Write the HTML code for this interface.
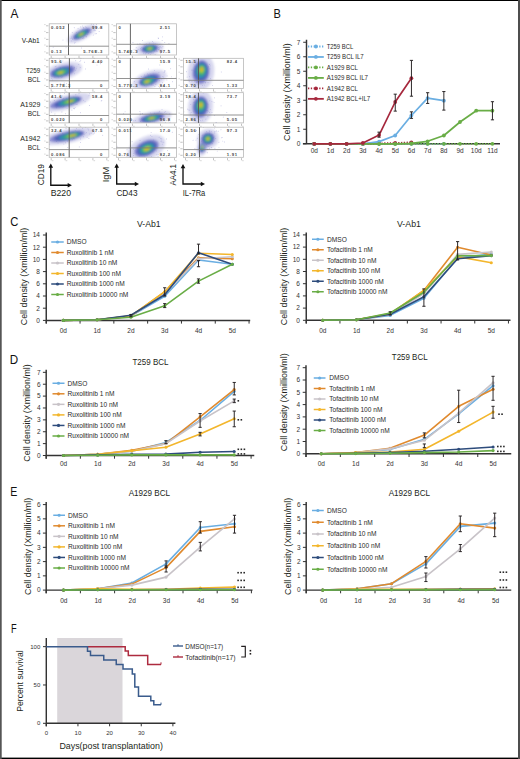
<!DOCTYPE html><html><head><meta charset="utf-8"><style>html,body{margin:0;padding:0;width:520px;height:759px;overflow:hidden;background:#fff}svg text{font-family:"Liberation Sans", sans-serif}svg text.h{stroke:none}</style></head><body><svg width="520" height="759" viewBox="0 0 520 759" style="position:absolute;left:0;top:0">
<rect x="0" y="0" width="520" height="759" fill="#ffffff"/>
<text x="10.50" y="18.10" font-size="12.0" textLength="7.90" lengthAdjust="spacingAndGlyphs" fill="#111">A</text>
<text x="273.45" y="18.00" font-size="12.0" textLength="7.35" lengthAdjust="spacingAndGlyphs" fill="#111">B</text>
<text x="10.20" y="225.50" font-size="12.0" textLength="8.10" lengthAdjust="spacingAndGlyphs" fill="#111">C</text>
<text x="9.70" y="363.80" font-size="12.0" textLength="8.40" lengthAdjust="spacingAndGlyphs" fill="#111">D</text>
<text x="10.20" y="495.50" font-size="12.0" textLength="7.10" lengthAdjust="spacingAndGlyphs" fill="#111">E</text>
<text x="10.95" y="632.50" font-size="12.0" textLength="5.65" lengthAdjust="spacingAndGlyphs" fill="#111">F</text>
<line x1="46.25" y1="232.50" x2="46.25" y2="323.60" stroke="#333333" stroke-width="1.45"/>
<line x1="46.25" y1="320.40" x2="250.20" y2="320.40" stroke="#333333" stroke-width="1.45"/>
<line x1="42.95" y1="320.40" x2="46.25" y2="320.40" stroke="#333333" stroke-width="1.0"/>
<text x="39.90" y="322.70" font-size="6.5" text-anchor="end" fill="#333">0</text>
<line x1="42.95" y1="308.20" x2="46.25" y2="308.20" stroke="#333333" stroke-width="1.0"/>
<text x="39.90" y="310.50" font-size="6.5" text-anchor="end" fill="#333">2</text>
<line x1="42.95" y1="296.00" x2="46.25" y2="296.00" stroke="#333333" stroke-width="1.0"/>
<text x="39.90" y="298.30" font-size="6.5" text-anchor="end" fill="#333">4</text>
<line x1="42.95" y1="283.80" x2="46.25" y2="283.80" stroke="#333333" stroke-width="1.0"/>
<text x="39.90" y="286.10" font-size="6.5" text-anchor="end" fill="#333">6</text>
<line x1="42.95" y1="271.60" x2="46.25" y2="271.60" stroke="#333333" stroke-width="1.0"/>
<text x="39.90" y="273.90" font-size="6.5" text-anchor="end" fill="#333">8</text>
<line x1="42.95" y1="259.40" x2="46.25" y2="259.40" stroke="#333333" stroke-width="1.0"/>
<text x="39.90" y="261.70" font-size="6.5" text-anchor="end" fill="#333">10</text>
<line x1="42.95" y1="247.20" x2="46.25" y2="247.20" stroke="#333333" stroke-width="1.0"/>
<text x="39.90" y="249.50" font-size="6.5" text-anchor="end" fill="#333">12</text>
<line x1="42.95" y1="235.00" x2="46.25" y2="235.00" stroke="#333333" stroke-width="1.0"/>
<text x="39.90" y="237.30" font-size="6.5" text-anchor="end" fill="#333">14</text>
<line x1="46.25" y1="320.40" x2="46.25" y2="323.60" stroke="#333333" stroke-width="1.0"/>
<line x1="80.05" y1="320.40" x2="80.05" y2="323.60" stroke="#333333" stroke-width="1.0"/>
<line x1="113.85" y1="320.40" x2="113.85" y2="323.60" stroke="#333333" stroke-width="1.0"/>
<line x1="147.65" y1="320.40" x2="147.65" y2="323.60" stroke="#333333" stroke-width="1.0"/>
<line x1="181.45" y1="320.40" x2="181.45" y2="323.60" stroke="#333333" stroke-width="1.0"/>
<line x1="215.25" y1="320.40" x2="215.25" y2="323.60" stroke="#333333" stroke-width="1.0"/>
<line x1="249.05" y1="320.40" x2="249.05" y2="323.60" stroke="#333333" stroke-width="1.0"/>
<text x="63.30" y="333.10" font-size="6.5" text-anchor="middle" fill="#333">0d</text>
<text x="97.10" y="333.10" font-size="6.5" text-anchor="middle" fill="#333">1d</text>
<text x="130.90" y="333.10" font-size="6.5" text-anchor="middle" fill="#333">2d</text>
<text x="164.70" y="333.10" font-size="6.5" text-anchor="middle" fill="#333">3d</text>
<text x="198.50" y="333.10" font-size="6.5" text-anchor="middle" fill="#333">4d</text>
<text x="232.30" y="333.10" font-size="6.5" text-anchor="middle" fill="#333">5d</text>
<text class="h" x="0" y="0" font-size="9.9" textLength="97.60" lengthAdjust="spacingAndGlyphs" fill="#231f20" transform="translate(26.80,325.30) rotate(-90)">Cell density (Xmillion/ml)</text>
<text class="h" x="137.00" y="226.60" font-size="9.8" textLength="23.70" lengthAdjust="spacingAndGlyphs" fill="#231f20">V-Ab1</text>
<polyline points="63.3,320.4 97.1,319.8 130.9,316.1 164.7,296.3 198.5,260.0 232.3,264.3" fill="none" stroke="#6aaee2" stroke-width="1.6" stroke-linejoin="round"/>
<circle cx="63.3" cy="320.4" r="1.55" fill="#6aaee2"/>
<circle cx="97.1" cy="319.8" r="1.55" fill="#6aaee2"/>
<circle cx="130.9" cy="316.1" r="1.55" fill="#6aaee2"/>
<circle cx="164.7" cy="296.3" r="1.55" fill="#6aaee2"/>
<circle cx="198.5" cy="260.0" r="1.55" fill="#6aaee2"/>
<circle cx="232.3" cy="264.3" r="1.55" fill="#6aaee2"/>
<polyline points="63.3,320.4 97.1,319.8 130.9,316.1 164.7,292.0 198.5,257.9 232.3,258.8" fill="none" stroke="#e08a2e" stroke-width="1.6" stroke-linejoin="round"/>
<circle cx="63.3" cy="320.4" r="1.55" fill="#e08a2e"/>
<circle cx="97.1" cy="319.8" r="1.55" fill="#e08a2e"/>
<circle cx="130.9" cy="316.1" r="1.55" fill="#e08a2e"/>
<circle cx="164.7" cy="292.0" r="1.55" fill="#e08a2e"/>
<circle cx="198.5" cy="257.9" r="1.55" fill="#e08a2e"/>
<circle cx="232.3" cy="258.8" r="1.55" fill="#e08a2e"/>
<polyline points="63.3,320.4 97.1,319.8 130.9,316.1 164.7,293.6 198.5,258.8 232.3,256.7" fill="none" stroke="#c8c3c8" stroke-width="1.6" stroke-linejoin="round"/>
<circle cx="63.3" cy="320.4" r="1.55" fill="#c8c3c8"/>
<circle cx="97.1" cy="319.8" r="1.55" fill="#c8c3c8"/>
<circle cx="130.9" cy="316.1" r="1.55" fill="#c8c3c8"/>
<circle cx="164.7" cy="293.6" r="1.55" fill="#c8c3c8"/>
<circle cx="198.5" cy="258.8" r="1.55" fill="#c8c3c8"/>
<circle cx="232.3" cy="256.7" r="1.55" fill="#c8c3c8"/>
<polyline points="63.3,320.4 97.1,319.8 130.9,315.8 164.7,291.7 198.5,253.3 232.3,254.5" fill="none" stroke="#f3b62c" stroke-width="1.6" stroke-linejoin="round"/>
<circle cx="63.3" cy="320.4" r="1.55" fill="#f3b62c"/>
<circle cx="97.1" cy="319.8" r="1.55" fill="#f3b62c"/>
<circle cx="130.9" cy="315.8" r="1.55" fill="#f3b62c"/>
<circle cx="164.7" cy="291.7" r="1.55" fill="#f3b62c"/>
<circle cx="198.5" cy="253.3" r="1.55" fill="#f3b62c"/>
<circle cx="232.3" cy="254.5" r="1.55" fill="#f3b62c"/>
<polyline points="63.3,320.4 97.1,319.8 130.9,315.2 164.7,294.8 198.5,252.7 232.3,264.3" fill="none" stroke="#2e4c7c" stroke-width="1.6" stroke-linejoin="round"/>
<circle cx="63.3" cy="320.4" r="1.55" fill="#2e4c7c"/>
<circle cx="97.1" cy="319.8" r="1.55" fill="#2e4c7c"/>
<circle cx="130.9" cy="315.2" r="1.55" fill="#2e4c7c"/>
<circle cx="164.7" cy="294.8" r="1.55" fill="#2e4c7c"/>
<circle cx="198.5" cy="252.7" r="1.55" fill="#2e4c7c"/>
<circle cx="232.3" cy="264.3" r="1.55" fill="#2e4c7c"/>
<polyline points="63.3,320.4 97.1,319.8 130.9,317.3 164.7,305.8 198.5,281.1 232.3,264.3" fill="none" stroke="#69ad46" stroke-width="1.6" stroke-linejoin="round"/>
<circle cx="63.3" cy="320.4" r="1.55" fill="#69ad46"/>
<circle cx="97.1" cy="319.8" r="1.55" fill="#69ad46"/>
<circle cx="130.9" cy="317.3" r="1.55" fill="#69ad46"/>
<circle cx="164.7" cy="305.8" r="1.55" fill="#69ad46"/>
<circle cx="198.5" cy="281.1" r="1.55" fill="#69ad46"/>
<circle cx="232.3" cy="264.3" r="1.55" fill="#69ad46"/>
<line x1="164.70" y1="287.76" x2="164.70" y2="296.00" stroke="#231f20" stroke-width="0.95"/>
<line x1="163.10" y1="287.76" x2="166.30" y2="287.76" stroke="#231f20" stroke-width="0.95"/>
<line x1="163.10" y1="296.00" x2="166.30" y2="296.00" stroke="#231f20" stroke-width="0.95"/>
<line x1="164.70" y1="303.62" x2="164.70" y2="307.59" stroke="#231f20" stroke-width="0.95"/>
<line x1="163.10" y1="303.62" x2="166.30" y2="303.62" stroke="#231f20" stroke-width="0.95"/>
<line x1="163.10" y1="307.59" x2="166.30" y2="307.59" stroke="#231f20" stroke-width="0.95"/>
<line x1="198.50" y1="260.62" x2="198.50" y2="266.72" stroke="#231f20" stroke-width="0.95"/>
<line x1="196.90" y1="260.62" x2="200.10" y2="260.62" stroke="#231f20" stroke-width="0.95"/>
<line x1="196.90" y1="266.72" x2="200.10" y2="266.72" stroke="#231f20" stroke-width="0.95"/>
<line x1="198.50" y1="244.15" x2="198.50" y2="253.91" stroke="#231f20" stroke-width="0.95"/>
<line x1="196.90" y1="244.15" x2="200.10" y2="244.15" stroke="#231f20" stroke-width="0.95"/>
<line x1="196.90" y1="253.91" x2="200.10" y2="253.91" stroke="#231f20" stroke-width="0.95"/>
<line x1="198.50" y1="278.92" x2="198.50" y2="283.19" stroke="#231f20" stroke-width="0.95"/>
<line x1="196.90" y1="278.92" x2="200.10" y2="278.92" stroke="#231f20" stroke-width="0.95"/>
<line x1="196.90" y1="283.19" x2="200.10" y2="283.19" stroke="#231f20" stroke-width="0.95"/>
<line x1="130.90" y1="314.60" x2="130.90" y2="316.74" stroke="#231f20" stroke-width="0.95"/>
<line x1="129.30" y1="314.60" x2="132.50" y2="314.60" stroke="#231f20" stroke-width="0.95"/>
<line x1="129.30" y1="316.74" x2="132.50" y2="316.74" stroke="#231f20" stroke-width="0.95"/>
<line x1="51.25" y1="242.00" x2="63.75" y2="242.00" stroke="#6aaee2" stroke-width="1.5"/>
<circle cx="57.50" cy="242.00" r="1.6" fill="#6aaee2"/>
<text x="66.75" y="244.30" font-size="6.6" text-anchor="start" fill="#2a2a2a">DMSO</text>
<line x1="51.25" y1="252.50" x2="63.75" y2="252.50" stroke="#e08a2e" stroke-width="1.5"/>
<circle cx="57.50" cy="252.50" r="1.6" fill="#e08a2e"/>
<text x="66.75" y="254.80" font-size="6.6" text-anchor="start" fill="#2a2a2a">Ruxolitinib 1 nM</text>
<line x1="51.25" y1="263.00" x2="63.75" y2="263.00" stroke="#c8c3c8" stroke-width="1.5"/>
<circle cx="57.50" cy="263.00" r="1.6" fill="#c8c3c8"/>
<text x="66.75" y="265.30" font-size="6.6" text-anchor="start" fill="#2a2a2a">Ruxolitinib 10 nM</text>
<line x1="51.25" y1="273.50" x2="63.75" y2="273.50" stroke="#f3b62c" stroke-width="1.5"/>
<circle cx="57.50" cy="273.50" r="1.6" fill="#f3b62c"/>
<text x="66.75" y="275.80" font-size="6.6" text-anchor="start" fill="#2a2a2a">Ruxolitinib 100 nM</text>
<line x1="51.25" y1="284.00" x2="63.75" y2="284.00" stroke="#2e4c7c" stroke-width="1.5"/>
<circle cx="57.50" cy="284.00" r="1.6" fill="#2e4c7c"/>
<text x="66.75" y="286.30" font-size="6.6" text-anchor="start" fill="#2a2a2a">Ruxolitinib 1000 nM</text>
<line x1="51.25" y1="294.50" x2="63.75" y2="294.50" stroke="#69ad46" stroke-width="1.5"/>
<circle cx="57.50" cy="294.50" r="1.6" fill="#69ad46"/>
<text x="66.75" y="296.80" font-size="6.6" text-anchor="start" fill="#2a2a2a">Ruxolitinib 10000 nM</text>
<line x1="306.25" y1="232.40" x2="306.25" y2="323.50" stroke="#333333" stroke-width="1.45"/>
<line x1="306.25" y1="320.30" x2="510.50" y2="320.30" stroke="#333333" stroke-width="1.45"/>
<line x1="302.95" y1="320.30" x2="306.25" y2="320.30" stroke="#333333" stroke-width="1.0"/>
<text x="299.90" y="322.60" font-size="6.5" text-anchor="end" fill="#333">0</text>
<line x1="302.95" y1="308.10" x2="306.25" y2="308.10" stroke="#333333" stroke-width="1.0"/>
<text x="299.90" y="310.40" font-size="6.5" text-anchor="end" fill="#333">2</text>
<line x1="302.95" y1="295.90" x2="306.25" y2="295.90" stroke="#333333" stroke-width="1.0"/>
<text x="299.90" y="298.20" font-size="6.5" text-anchor="end" fill="#333">4</text>
<line x1="302.95" y1="283.70" x2="306.25" y2="283.70" stroke="#333333" stroke-width="1.0"/>
<text x="299.90" y="286.00" font-size="6.5" text-anchor="end" fill="#333">6</text>
<line x1="302.95" y1="271.50" x2="306.25" y2="271.50" stroke="#333333" stroke-width="1.0"/>
<text x="299.90" y="273.80" font-size="6.5" text-anchor="end" fill="#333">8</text>
<line x1="302.95" y1="259.30" x2="306.25" y2="259.30" stroke="#333333" stroke-width="1.0"/>
<text x="299.90" y="261.60" font-size="6.5" text-anchor="end" fill="#333">10</text>
<line x1="302.95" y1="247.10" x2="306.25" y2="247.10" stroke="#333333" stroke-width="1.0"/>
<text x="299.90" y="249.40" font-size="6.5" text-anchor="end" fill="#333">12</text>
<line x1="302.95" y1="234.90" x2="306.25" y2="234.90" stroke="#333333" stroke-width="1.0"/>
<text x="299.90" y="237.20" font-size="6.5" text-anchor="end" fill="#333">14</text>
<line x1="306.25" y1="320.30" x2="306.25" y2="323.50" stroke="#333333" stroke-width="1.0"/>
<line x1="339.95" y1="320.30" x2="339.95" y2="323.50" stroke="#333333" stroke-width="1.0"/>
<line x1="373.65" y1="320.30" x2="373.65" y2="323.50" stroke="#333333" stroke-width="1.0"/>
<line x1="407.35" y1="320.30" x2="407.35" y2="323.50" stroke="#333333" stroke-width="1.0"/>
<line x1="441.05" y1="320.30" x2="441.05" y2="323.50" stroke="#333333" stroke-width="1.0"/>
<line x1="474.75" y1="320.30" x2="474.75" y2="323.50" stroke="#333333" stroke-width="1.0"/>
<line x1="508.45" y1="320.30" x2="508.45" y2="323.50" stroke="#333333" stroke-width="1.0"/>
<text x="322.80" y="333.10" font-size="6.5" text-anchor="middle" fill="#333">0d</text>
<text x="356.50" y="333.10" font-size="6.5" text-anchor="middle" fill="#333">1d</text>
<text x="390.20" y="333.10" font-size="6.5" text-anchor="middle" fill="#333">2d</text>
<text x="423.90" y="333.10" font-size="6.5" text-anchor="middle" fill="#333">3d</text>
<text x="457.60" y="333.10" font-size="6.5" text-anchor="middle" fill="#333">4d</text>
<text x="491.30" y="333.10" font-size="6.5" text-anchor="middle" fill="#333">5d</text>
<text class="h" x="0" y="0" font-size="9.9" textLength="97.60" lengthAdjust="spacingAndGlyphs" fill="#231f20" transform="translate(286.80,325.30) rotate(-90)">Cell density (Xmillion/ml)</text>
<text class="h" x="397.00" y="226.70" font-size="9.8" textLength="23.90" lengthAdjust="spacingAndGlyphs" fill="#231f20">V-Ab1</text>
<polyline points="322.8,320.3 356.5,319.7 390.2,315.4 423.9,298.3 457.6,257.8 491.3,254.1" fill="none" stroke="#6aaee2" stroke-width="1.6" stroke-linejoin="round"/>
<circle cx="322.8" cy="320.3" r="1.55" fill="#6aaee2"/>
<circle cx="356.5" cy="319.7" r="1.55" fill="#6aaee2"/>
<circle cx="390.2" cy="315.4" r="1.55" fill="#6aaee2"/>
<circle cx="423.9" cy="298.3" r="1.55" fill="#6aaee2"/>
<circle cx="457.6" cy="257.8" r="1.55" fill="#6aaee2"/>
<circle cx="491.3" cy="254.1" r="1.55" fill="#6aaee2"/>
<polyline points="322.8,320.3 356.5,319.7 390.2,314.2 423.9,290.4 457.6,247.3 491.3,255.0" fill="none" stroke="#e08a2e" stroke-width="1.6" stroke-linejoin="round"/>
<circle cx="322.8" cy="320.3" r="1.55" fill="#e08a2e"/>
<circle cx="356.5" cy="319.7" r="1.55" fill="#e08a2e"/>
<circle cx="390.2" cy="314.2" r="1.55" fill="#e08a2e"/>
<circle cx="423.9" cy="290.4" r="1.55" fill="#e08a2e"/>
<circle cx="457.6" cy="247.3" r="1.55" fill="#e08a2e"/>
<circle cx="491.3" cy="255.0" r="1.55" fill="#e08a2e"/>
<polyline points="322.8,320.3 356.5,319.7 390.2,314.2 423.9,293.5 457.6,254.4 491.3,252.0" fill="none" stroke="#c8c3c8" stroke-width="1.6" stroke-linejoin="round"/>
<circle cx="322.8" cy="320.3" r="1.55" fill="#c8c3c8"/>
<circle cx="356.5" cy="319.7" r="1.55" fill="#c8c3c8"/>
<circle cx="390.2" cy="314.2" r="1.55" fill="#c8c3c8"/>
<circle cx="423.9" cy="293.5" r="1.55" fill="#c8c3c8"/>
<circle cx="457.6" cy="254.4" r="1.55" fill="#c8c3c8"/>
<circle cx="491.3" cy="252.0" r="1.55" fill="#c8c3c8"/>
<polyline points="322.8,320.3 356.5,319.7 390.2,313.6 423.9,290.4 457.6,256.6 491.3,262.7" fill="none" stroke="#f3b62c" stroke-width="1.6" stroke-linejoin="round"/>
<circle cx="322.8" cy="320.3" r="1.55" fill="#f3b62c"/>
<circle cx="356.5" cy="319.7" r="1.55" fill="#f3b62c"/>
<circle cx="390.2" cy="313.6" r="1.55" fill="#f3b62c"/>
<circle cx="423.9" cy="290.4" r="1.55" fill="#f3b62c"/>
<circle cx="457.6" cy="256.6" r="1.55" fill="#f3b62c"/>
<circle cx="491.3" cy="262.7" r="1.55" fill="#f3b62c"/>
<polyline points="322.8,320.3 356.5,319.7 390.2,314.2 423.9,296.8 457.6,258.7 491.3,255.6" fill="none" stroke="#2e4c7c" stroke-width="1.6" stroke-linejoin="round"/>
<circle cx="322.8" cy="320.3" r="1.55" fill="#2e4c7c"/>
<circle cx="356.5" cy="319.7" r="1.55" fill="#2e4c7c"/>
<circle cx="390.2" cy="314.2" r="1.55" fill="#2e4c7c"/>
<circle cx="423.9" cy="296.8" r="1.55" fill="#2e4c7c"/>
<circle cx="457.6" cy="258.7" r="1.55" fill="#2e4c7c"/>
<circle cx="491.3" cy="255.6" r="1.55" fill="#2e4c7c"/>
<polyline points="322.8,320.3 356.5,319.7 390.2,313.0 423.9,292.2 457.6,255.8 491.3,255.6" fill="none" stroke="#69ad46" stroke-width="1.6" stroke-linejoin="round"/>
<circle cx="322.8" cy="320.3" r="1.55" fill="#69ad46"/>
<circle cx="356.5" cy="319.7" r="1.55" fill="#69ad46"/>
<circle cx="390.2" cy="313.0" r="1.55" fill="#69ad46"/>
<circle cx="423.9" cy="292.2" r="1.55" fill="#69ad46"/>
<circle cx="457.6" cy="255.8" r="1.55" fill="#69ad46"/>
<circle cx="491.3" cy="255.6" r="1.55" fill="#69ad46"/>
<line x1="423.90" y1="288.88" x2="423.90" y2="306.27" stroke="#231f20" stroke-width="0.95"/>
<line x1="422.30" y1="288.88" x2="425.50" y2="288.88" stroke="#231f20" stroke-width="0.95"/>
<line x1="422.30" y1="306.27" x2="425.50" y2="306.27" stroke="#231f20" stroke-width="0.95"/>
<line x1="457.60" y1="241.61" x2="457.60" y2="259.91" stroke="#231f20" stroke-width="0.95"/>
<line x1="456.00" y1="241.61" x2="459.20" y2="241.61" stroke="#231f20" stroke-width="0.95"/>
<line x1="456.00" y1="259.91" x2="459.20" y2="259.91" stroke="#231f20" stroke-width="0.95"/>
<line x1="390.20" y1="311.76" x2="390.20" y2="314.81" stroke="#231f20" stroke-width="0.95"/>
<line x1="388.60" y1="311.76" x2="391.80" y2="311.76" stroke="#231f20" stroke-width="0.95"/>
<line x1="388.60" y1="314.81" x2="391.80" y2="314.81" stroke="#231f20" stroke-width="0.95"/>
<line x1="312.00" y1="239.25" x2="323.75" y2="239.25" stroke="#6aaee2" stroke-width="1.5"/>
<circle cx="317.88" cy="239.25" r="1.6" fill="#6aaee2"/>
<text x="327.00" y="241.55" font-size="6.6" text-anchor="start" fill="#2a2a2a">DMSO</text>
<line x1="312.00" y1="249.75" x2="323.75" y2="249.75" stroke="#e08a2e" stroke-width="1.5"/>
<circle cx="317.88" cy="249.75" r="1.6" fill="#e08a2e"/>
<text x="327.00" y="252.05" font-size="6.6" text-anchor="start" fill="#2a2a2a">Tofacitinib 1 nM</text>
<line x1="312.00" y1="260.25" x2="323.75" y2="260.25" stroke="#c8c3c8" stroke-width="1.5"/>
<circle cx="317.88" cy="260.25" r="1.6" fill="#c8c3c8"/>
<text x="327.00" y="262.55" font-size="6.6" text-anchor="start" fill="#2a2a2a">Tofacitinib 10 nM</text>
<line x1="312.00" y1="270.75" x2="323.75" y2="270.75" stroke="#f3b62c" stroke-width="1.5"/>
<circle cx="317.88" cy="270.75" r="1.6" fill="#f3b62c"/>
<text x="327.00" y="273.05" font-size="6.6" text-anchor="start" fill="#2a2a2a">Tofacitinib 100 nM</text>
<line x1="312.00" y1="281.25" x2="323.75" y2="281.25" stroke="#2e4c7c" stroke-width="1.5"/>
<circle cx="317.88" cy="281.25" r="1.6" fill="#2e4c7c"/>
<text x="327.00" y="283.55" font-size="6.6" text-anchor="start" fill="#2a2a2a">Tofacitinib 1000 nM</text>
<line x1="312.00" y1="291.75" x2="323.75" y2="291.75" stroke="#69ad46" stroke-width="1.5"/>
<circle cx="317.88" cy="291.75" r="1.6" fill="#69ad46"/>
<text x="327.00" y="294.05" font-size="6.6" text-anchor="start" fill="#2a2a2a">Tofacitinib 10000 nM</text>
<line x1="46.20" y1="369.84" x2="46.20" y2="458.70" stroke="#333333" stroke-width="1.45"/>
<line x1="46.20" y1="455.50" x2="254.25" y2="455.50" stroke="#333333" stroke-width="1.45"/>
<line x1="42.90" y1="455.50" x2="46.20" y2="455.50" stroke="#333333" stroke-width="1.0"/>
<text x="40.50" y="457.80" font-size="6.5" text-anchor="end" fill="#333">0</text>
<line x1="42.90" y1="443.62" x2="46.20" y2="443.62" stroke="#333333" stroke-width="1.0"/>
<text x="40.50" y="445.92" font-size="6.5" text-anchor="end" fill="#333">1</text>
<line x1="42.90" y1="431.74" x2="46.20" y2="431.74" stroke="#333333" stroke-width="1.0"/>
<text x="40.50" y="434.04" font-size="6.5" text-anchor="end" fill="#333">2</text>
<line x1="42.90" y1="419.86" x2="46.20" y2="419.86" stroke="#333333" stroke-width="1.0"/>
<text x="40.50" y="422.16" font-size="6.5" text-anchor="end" fill="#333">3</text>
<line x1="42.90" y1="407.98" x2="46.20" y2="407.98" stroke="#333333" stroke-width="1.0"/>
<text x="40.50" y="410.28" font-size="6.5" text-anchor="end" fill="#333">4</text>
<line x1="42.90" y1="396.10" x2="46.20" y2="396.10" stroke="#333333" stroke-width="1.0"/>
<text x="40.50" y="398.40" font-size="6.5" text-anchor="end" fill="#333">5</text>
<line x1="42.90" y1="384.22" x2="46.20" y2="384.22" stroke="#333333" stroke-width="1.0"/>
<text x="40.50" y="386.52" font-size="6.5" text-anchor="end" fill="#333">6</text>
<line x1="42.90" y1="372.34" x2="46.20" y2="372.34" stroke="#333333" stroke-width="1.0"/>
<text x="40.50" y="374.64" font-size="6.5" text-anchor="end" fill="#333">7</text>
<line x1="46.20" y1="455.50" x2="46.20" y2="458.70" stroke="#333333" stroke-width="1.0"/>
<line x1="80.35" y1="455.50" x2="80.35" y2="458.70" stroke="#333333" stroke-width="1.0"/>
<line x1="114.50" y1="455.50" x2="114.50" y2="458.70" stroke="#333333" stroke-width="1.0"/>
<line x1="148.65" y1="455.50" x2="148.65" y2="458.70" stroke="#333333" stroke-width="1.0"/>
<line x1="182.80" y1="455.50" x2="182.80" y2="458.70" stroke="#333333" stroke-width="1.0"/>
<line x1="216.95" y1="455.50" x2="216.95" y2="458.70" stroke="#333333" stroke-width="1.0"/>
<line x1="251.10" y1="455.50" x2="251.10" y2="458.70" stroke="#333333" stroke-width="1.0"/>
<text x="63.50" y="465.60" font-size="6.5" text-anchor="middle" fill="#333">0d</text>
<text x="97.65" y="465.60" font-size="6.5" text-anchor="middle" fill="#333">1d</text>
<text x="131.80" y="465.60" font-size="6.5" text-anchor="middle" fill="#333">2d</text>
<text x="165.95" y="465.60" font-size="6.5" text-anchor="middle" fill="#333">3d</text>
<text x="200.10" y="465.60" font-size="6.5" text-anchor="middle" fill="#333">4d</text>
<text x="234.25" y="465.60" font-size="6.5" text-anchor="middle" fill="#333">5d</text>
<text class="h" x="0" y="0" font-size="9.9" textLength="97.50" lengthAdjust="spacingAndGlyphs" fill="#231f20" transform="translate(30.30,461.70) rotate(-90)">Cell density (Xmillion/ml)</text>
<text class="h" x="132.40" y="364.80" font-size="9.8" textLength="36.10" lengthAdjust="spacingAndGlyphs" fill="#231f20">T259 BCL</text>
<polyline points="63.5,455.5 97.7,454.3 131.8,451.3 165.9,442.4 200.1,420.5 234.2,391.3" fill="none" stroke="#6aaee2" stroke-width="1.6" stroke-linejoin="round"/>
<circle cx="63.5" cy="455.5" r="1.55" fill="#6aaee2"/>
<circle cx="97.7" cy="454.3" r="1.55" fill="#6aaee2"/>
<circle cx="131.8" cy="451.3" r="1.55" fill="#6aaee2"/>
<circle cx="165.9" cy="442.4" r="1.55" fill="#6aaee2"/>
<circle cx="200.1" cy="420.5" r="1.55" fill="#6aaee2"/>
<circle cx="234.2" cy="391.3" r="1.55" fill="#6aaee2"/>
<polyline points="63.5,455.5 97.7,454.3 131.8,450.2 165.9,443.6 200.1,416.9 234.2,389.6" fill="none" stroke="#e08a2e" stroke-width="1.6" stroke-linejoin="round"/>
<circle cx="63.5" cy="455.5" r="1.55" fill="#e08a2e"/>
<circle cx="97.7" cy="454.3" r="1.55" fill="#e08a2e"/>
<circle cx="131.8" cy="450.2" r="1.55" fill="#e08a2e"/>
<circle cx="165.9" cy="443.6" r="1.55" fill="#e08a2e"/>
<circle cx="200.1" cy="416.9" r="1.55" fill="#e08a2e"/>
<circle cx="234.2" cy="389.6" r="1.55" fill="#e08a2e"/>
<polyline points="63.5,455.5 97.7,454.3 131.8,451.3 165.9,443.6 200.1,421.0 234.2,400.9" fill="none" stroke="#c8c3c8" stroke-width="1.6" stroke-linejoin="round"/>
<circle cx="63.5" cy="455.5" r="1.55" fill="#c8c3c8"/>
<circle cx="97.7" cy="454.3" r="1.55" fill="#c8c3c8"/>
<circle cx="131.8" cy="451.3" r="1.55" fill="#c8c3c8"/>
<circle cx="165.9" cy="443.6" r="1.55" fill="#c8c3c8"/>
<circle cx="200.1" cy="421.0" r="1.55" fill="#c8c3c8"/>
<circle cx="234.2" cy="400.9" r="1.55" fill="#c8c3c8"/>
<polyline points="63.5,455.5 97.7,454.3 131.8,450.7 165.9,447.2 200.1,434.1 234.2,418.7" fill="none" stroke="#f3b62c" stroke-width="1.6" stroke-linejoin="round"/>
<circle cx="63.5" cy="455.5" r="1.55" fill="#f3b62c"/>
<circle cx="97.7" cy="454.3" r="1.55" fill="#f3b62c"/>
<circle cx="131.8" cy="450.7" r="1.55" fill="#f3b62c"/>
<circle cx="165.9" cy="447.2" r="1.55" fill="#f3b62c"/>
<circle cx="200.1" cy="434.1" r="1.55" fill="#f3b62c"/>
<circle cx="234.2" cy="418.7" r="1.55" fill="#f3b62c"/>
<polyline points="63.5,455.5 97.7,454.9 131.8,454.3 165.9,454.1 200.1,452.3 234.2,451.5" fill="none" stroke="#2e4c7c" stroke-width="1.6" stroke-linejoin="round"/>
<circle cx="63.5" cy="455.5" r="1.55" fill="#2e4c7c"/>
<circle cx="97.7" cy="454.9" r="1.55" fill="#2e4c7c"/>
<circle cx="131.8" cy="454.3" r="1.55" fill="#2e4c7c"/>
<circle cx="165.9" cy="454.1" r="1.55" fill="#2e4c7c"/>
<circle cx="200.1" cy="452.3" r="1.55" fill="#2e4c7c"/>
<circle cx="234.2" cy="451.5" r="1.55" fill="#2e4c7c"/>
<polyline points="63.5,455.5 97.7,455.3 131.8,454.9 165.9,454.9 200.1,454.9 234.2,454.9" fill="none" stroke="#69ad46" stroke-width="1.6" stroke-linejoin="round"/>
<circle cx="63.5" cy="455.5" r="1.55" fill="#69ad46"/>
<circle cx="97.7" cy="455.3" r="1.55" fill="#69ad46"/>
<circle cx="131.8" cy="454.9" r="1.55" fill="#69ad46"/>
<circle cx="165.9" cy="454.9" r="1.55" fill="#69ad46"/>
<circle cx="200.1" cy="454.9" r="1.55" fill="#69ad46"/>
<circle cx="234.2" cy="454.9" r="1.55" fill="#69ad46"/>
<line x1="234.25" y1="382.44" x2="234.25" y2="394.91" stroke="#231f20" stroke-width="0.95"/>
<line x1="232.65" y1="382.44" x2="235.85" y2="382.44" stroke="#231f20" stroke-width="0.95"/>
<line x1="232.65" y1="394.91" x2="235.85" y2="394.91" stroke="#231f20" stroke-width="0.95"/>
<line x1="234.25" y1="411.07" x2="234.25" y2="426.75" stroke="#231f20" stroke-width="0.95"/>
<line x1="232.65" y1="411.07" x2="235.85" y2="411.07" stroke="#231f20" stroke-width="0.95"/>
<line x1="232.65" y1="426.75" x2="235.85" y2="426.75" stroke="#231f20" stroke-width="0.95"/>
<line x1="200.10" y1="413.56" x2="200.10" y2="427.34" stroke="#231f20" stroke-width="0.95"/>
<line x1="198.50" y1="413.56" x2="201.70" y2="413.56" stroke="#231f20" stroke-width="0.95"/>
<line x1="198.50" y1="427.34" x2="201.70" y2="427.34" stroke="#231f20" stroke-width="0.95"/>
<line x1="200.10" y1="432.33" x2="200.10" y2="435.90" stroke="#231f20" stroke-width="0.95"/>
<line x1="198.50" y1="432.33" x2="201.70" y2="432.33" stroke="#231f20" stroke-width="0.95"/>
<line x1="198.50" y1="435.90" x2="201.70" y2="435.90" stroke="#231f20" stroke-width="0.95"/>
<line x1="165.95" y1="440.65" x2="165.95" y2="443.62" stroke="#231f20" stroke-width="0.95"/>
<line x1="164.35" y1="440.65" x2="167.55" y2="440.65" stroke="#231f20" stroke-width="0.95"/>
<line x1="164.35" y1="443.62" x2="167.55" y2="443.62" stroke="#231f20" stroke-width="0.95"/>
<line x1="234.25" y1="399.07" x2="234.25" y2="402.63" stroke="#231f20" stroke-width="0.95"/>
<line x1="232.65" y1="399.07" x2="235.85" y2="399.07" stroke="#231f20" stroke-width="0.95"/>
<line x1="232.65" y1="402.63" x2="235.85" y2="402.63" stroke="#231f20" stroke-width="0.95"/>
<rect x="237.50" y="400.00" width="1.6" height="1.6" fill="#2a2a2a"/>
<rect x="237.50" y="419.00" width="1.6" height="1.6" fill="#2a2a2a"/>
<rect x="240.55" y="419.00" width="1.6" height="1.6" fill="#2a2a2a"/>
<rect x="237.50" y="448.50" width="1.6" height="1.6" fill="#2a2a2a"/>
<rect x="240.55" y="448.50" width="1.6" height="1.6" fill="#2a2a2a"/>
<rect x="243.60" y="448.50" width="1.6" height="1.6" fill="#2a2a2a"/>
<rect x="237.50" y="453.10" width="1.6" height="1.6" fill="#2a2a2a"/>
<rect x="240.55" y="453.10" width="1.6" height="1.6" fill="#2a2a2a"/>
<rect x="243.60" y="453.10" width="1.6" height="1.6" fill="#2a2a2a"/>
<line x1="52.50" y1="383.25" x2="64.50" y2="383.25" stroke="#6aaee2" stroke-width="1.5"/>
<circle cx="58.50" cy="383.25" r="1.6" fill="#6aaee2"/>
<text x="67.50" y="385.55" font-size="6.6" text-anchor="start" fill="#2a2a2a">DMSO</text>
<line x1="52.50" y1="393.80" x2="64.50" y2="393.80" stroke="#e08a2e" stroke-width="1.5"/>
<circle cx="58.50" cy="393.80" r="1.6" fill="#e08a2e"/>
<text x="67.50" y="396.10" font-size="6.6" text-anchor="start" fill="#2a2a2a">Ruxolitinib 1 nM</text>
<line x1="52.50" y1="404.35" x2="64.50" y2="404.35" stroke="#c8c3c8" stroke-width="1.5"/>
<circle cx="58.50" cy="404.35" r="1.6" fill="#c8c3c8"/>
<text x="67.50" y="406.65" font-size="6.6" text-anchor="start" fill="#2a2a2a">Ruxolitinib 10 nM</text>
<line x1="52.50" y1="414.90" x2="64.50" y2="414.90" stroke="#f3b62c" stroke-width="1.5"/>
<circle cx="58.50" cy="414.90" r="1.6" fill="#f3b62c"/>
<text x="67.50" y="417.20" font-size="6.6" text-anchor="start" fill="#2a2a2a">Ruxolitinib 100 nM</text>
<line x1="52.50" y1="425.45" x2="64.50" y2="425.45" stroke="#2e4c7c" stroke-width="1.5"/>
<circle cx="58.50" cy="425.45" r="1.6" fill="#2e4c7c"/>
<text x="67.50" y="427.75" font-size="6.6" text-anchor="start" fill="#2a2a2a">Ruxolitinib 1000 nM</text>
<line x1="52.50" y1="436.00" x2="64.50" y2="436.00" stroke="#69ad46" stroke-width="1.5"/>
<circle cx="58.50" cy="436.00" r="1.6" fill="#69ad46"/>
<text x="67.50" y="438.30" font-size="6.6" text-anchor="start" fill="#2a2a2a">Ruxolitinib 10000 nM</text>
<line x1="306.00" y1="365.20" x2="306.00" y2="457.00" stroke="#333333" stroke-width="1.45"/>
<line x1="306.00" y1="453.80" x2="511.25" y2="453.80" stroke="#333333" stroke-width="1.45"/>
<line x1="302.70" y1="453.80" x2="306.00" y2="453.80" stroke="#333333" stroke-width="1.0"/>
<text x="300.00" y="456.10" font-size="6.5" text-anchor="end" fill="#333">0</text>
<line x1="302.70" y1="441.50" x2="306.00" y2="441.50" stroke="#333333" stroke-width="1.0"/>
<text x="300.00" y="443.80" font-size="6.5" text-anchor="end" fill="#333">1</text>
<line x1="302.70" y1="429.20" x2="306.00" y2="429.20" stroke="#333333" stroke-width="1.0"/>
<text x="300.00" y="431.50" font-size="6.5" text-anchor="end" fill="#333">2</text>
<line x1="302.70" y1="416.90" x2="306.00" y2="416.90" stroke="#333333" stroke-width="1.0"/>
<text x="300.00" y="419.20" font-size="6.5" text-anchor="end" fill="#333">3</text>
<line x1="302.70" y1="404.60" x2="306.00" y2="404.60" stroke="#333333" stroke-width="1.0"/>
<text x="300.00" y="406.90" font-size="6.5" text-anchor="end" fill="#333">4</text>
<line x1="302.70" y1="392.30" x2="306.00" y2="392.30" stroke="#333333" stroke-width="1.0"/>
<text x="300.00" y="394.60" font-size="6.5" text-anchor="end" fill="#333">5</text>
<line x1="302.70" y1="380.00" x2="306.00" y2="380.00" stroke="#333333" stroke-width="1.0"/>
<text x="300.00" y="382.30" font-size="6.5" text-anchor="end" fill="#333">6</text>
<line x1="302.70" y1="367.70" x2="306.00" y2="367.70" stroke="#333333" stroke-width="1.0"/>
<text x="300.00" y="370.00" font-size="6.5" text-anchor="end" fill="#333">7</text>
<line x1="306.00" y1="453.80" x2="306.00" y2="457.00" stroke="#333333" stroke-width="1.0"/>
<line x1="340.35" y1="453.80" x2="340.35" y2="457.00" stroke="#333333" stroke-width="1.0"/>
<line x1="374.70" y1="453.80" x2="374.70" y2="457.00" stroke="#333333" stroke-width="1.0"/>
<line x1="409.05" y1="453.80" x2="409.05" y2="457.00" stroke="#333333" stroke-width="1.0"/>
<line x1="443.40" y1="453.80" x2="443.40" y2="457.00" stroke="#333333" stroke-width="1.0"/>
<line x1="477.75" y1="453.80" x2="477.75" y2="457.00" stroke="#333333" stroke-width="1.0"/>
<text x="321.30" y="466.20" font-size="6.5" text-anchor="middle" fill="#333">0d</text>
<text x="355.65" y="466.20" font-size="6.5" text-anchor="middle" fill="#333">1d</text>
<text x="390.00" y="466.20" font-size="6.5" text-anchor="middle" fill="#333">2d</text>
<text x="424.35" y="466.20" font-size="6.5" text-anchor="middle" fill="#333">3d</text>
<text x="458.70" y="466.20" font-size="6.5" text-anchor="middle" fill="#333">4d</text>
<text x="493.05" y="466.20" font-size="6.5" text-anchor="middle" fill="#333">5d</text>
<text class="h" x="0" y="0" font-size="9.9" textLength="98.00" lengthAdjust="spacingAndGlyphs" fill="#231f20" transform="translate(287.10,451.20) rotate(-90)">Cell density (Xmillion/ml)</text>
<text class="h" x="391.80" y="359.80" font-size="9.8" textLength="35.80" lengthAdjust="spacingAndGlyphs" fill="#231f20">T259 BCL</text>
<polyline points="321.3,453.8 355.7,452.6 390.0,449.5 424.4,439.3 458.7,413.8 493.1,385.7" fill="none" stroke="#6aaee2" stroke-width="1.6" stroke-linejoin="round"/>
<circle cx="321.3" cy="453.8" r="1.55" fill="#6aaee2"/>
<circle cx="355.7" cy="452.6" r="1.55" fill="#6aaee2"/>
<circle cx="390.0" cy="449.5" r="1.55" fill="#6aaee2"/>
<circle cx="424.4" cy="439.3" r="1.55" fill="#6aaee2"/>
<circle cx="458.7" cy="413.8" r="1.55" fill="#6aaee2"/>
<circle cx="493.1" cy="385.7" r="1.55" fill="#6aaee2"/>
<polyline points="321.3,453.8 355.7,452.6 390.0,448.3 424.4,435.1 458.7,406.3 493.1,389.3" fill="none" stroke="#e08a2e" stroke-width="1.6" stroke-linejoin="round"/>
<circle cx="321.3" cy="453.8" r="1.55" fill="#e08a2e"/>
<circle cx="355.7" cy="452.6" r="1.55" fill="#e08a2e"/>
<circle cx="390.0" cy="448.3" r="1.55" fill="#e08a2e"/>
<circle cx="424.4" cy="435.1" r="1.55" fill="#e08a2e"/>
<circle cx="458.7" cy="406.3" r="1.55" fill="#e08a2e"/>
<circle cx="493.1" cy="389.3" r="1.55" fill="#e08a2e"/>
<polyline points="321.3,453.8 355.7,452.6 390.0,448.9 424.4,440.3 458.7,413.2 493.1,382.7" fill="none" stroke="#c8c3c8" stroke-width="1.6" stroke-linejoin="round"/>
<circle cx="321.3" cy="453.8" r="1.55" fill="#c8c3c8"/>
<circle cx="355.7" cy="452.6" r="1.55" fill="#c8c3c8"/>
<circle cx="390.0" cy="448.9" r="1.55" fill="#c8c3c8"/>
<circle cx="424.4" cy="440.3" r="1.55" fill="#c8c3c8"/>
<circle cx="458.7" cy="413.2" r="1.55" fill="#c8c3c8"/>
<circle cx="493.1" cy="382.7" r="1.55" fill="#c8c3c8"/>
<polyline points="321.3,453.8 355.7,452.6 390.0,452.0 424.4,449.2 458.7,431.3 493.1,412.1" fill="none" stroke="#f3b62c" stroke-width="1.6" stroke-linejoin="round"/>
<circle cx="321.3" cy="453.8" r="1.55" fill="#f3b62c"/>
<circle cx="355.7" cy="452.6" r="1.55" fill="#f3b62c"/>
<circle cx="390.0" cy="452.0" r="1.55" fill="#f3b62c"/>
<circle cx="424.4" cy="449.2" r="1.55" fill="#f3b62c"/>
<circle cx="458.7" cy="431.3" r="1.55" fill="#f3b62c"/>
<circle cx="493.1" cy="412.1" r="1.55" fill="#f3b62c"/>
<polyline points="321.3,453.8 355.7,453.2 390.0,452.6 424.4,451.3 458.7,449.2 493.1,447.0" fill="none" stroke="#2e4c7c" stroke-width="1.6" stroke-linejoin="round"/>
<circle cx="321.3" cy="453.8" r="1.55" fill="#2e4c7c"/>
<circle cx="355.7" cy="453.2" r="1.55" fill="#2e4c7c"/>
<circle cx="390.0" cy="452.6" r="1.55" fill="#2e4c7c"/>
<circle cx="424.4" cy="451.3" r="1.55" fill="#2e4c7c"/>
<circle cx="458.7" cy="449.2" r="1.55" fill="#2e4c7c"/>
<circle cx="493.1" cy="447.0" r="1.55" fill="#2e4c7c"/>
<polyline points="321.3,453.8 355.7,453.6 390.0,453.2 424.4,452.6 458.7,452.0 493.1,450.6" fill="none" stroke="#69ad46" stroke-width="1.6" stroke-linejoin="round"/>
<circle cx="321.3" cy="453.8" r="1.55" fill="#69ad46"/>
<circle cx="355.7" cy="453.6" r="1.55" fill="#69ad46"/>
<circle cx="390.0" cy="453.2" r="1.55" fill="#69ad46"/>
<circle cx="424.4" cy="452.6" r="1.55" fill="#69ad46"/>
<circle cx="458.7" cy="452.0" r="1.55" fill="#69ad46"/>
<circle cx="493.1" cy="450.6" r="1.55" fill="#69ad46"/>
<line x1="458.70" y1="390.21" x2="458.70" y2="422.56" stroke="#231f20" stroke-width="0.95"/>
<line x1="457.10" y1="390.21" x2="460.30" y2="390.21" stroke="#231f20" stroke-width="0.95"/>
<line x1="457.10" y1="422.56" x2="460.30" y2="422.56" stroke="#231f20" stroke-width="0.95"/>
<line x1="493.05" y1="376.31" x2="493.05" y2="400.30" stroke="#231f20" stroke-width="0.95"/>
<line x1="491.45" y1="376.31" x2="494.65" y2="376.31" stroke="#231f20" stroke-width="0.95"/>
<line x1="491.45" y1="400.30" x2="494.65" y2="400.30" stroke="#231f20" stroke-width="0.95"/>
<line x1="493.05" y1="406.32" x2="493.05" y2="418.25" stroke="#231f20" stroke-width="0.95"/>
<line x1="491.45" y1="406.32" x2="494.65" y2="406.32" stroke="#231f20" stroke-width="0.95"/>
<line x1="491.45" y1="418.25" x2="494.65" y2="418.25" stroke="#231f20" stroke-width="0.95"/>
<line x1="424.35" y1="432.89" x2="424.35" y2="437.81" stroke="#231f20" stroke-width="0.95"/>
<line x1="422.75" y1="432.89" x2="425.95" y2="432.89" stroke="#231f20" stroke-width="0.95"/>
<line x1="422.75" y1="437.81" x2="425.95" y2="437.81" stroke="#231f20" stroke-width="0.95"/>
<line x1="424.35" y1="443.96" x2="424.35" y2="447.65" stroke="#231f20" stroke-width="0.95"/>
<line x1="422.75" y1="443.96" x2="425.95" y2="443.96" stroke="#231f20" stroke-width="0.95"/>
<line x1="422.75" y1="447.65" x2="425.95" y2="447.65" stroke="#231f20" stroke-width="0.95"/>
<rect x="498.20" y="413.40" width="1.6" height="1.6" fill="#2a2a2a"/>
<rect x="501.25" y="413.40" width="1.6" height="1.6" fill="#2a2a2a"/>
<rect x="497.00" y="445.70" width="1.6" height="1.6" fill="#2a2a2a"/>
<rect x="500.05" y="445.70" width="1.6" height="1.6" fill="#2a2a2a"/>
<rect x="503.10" y="445.70" width="1.6" height="1.6" fill="#2a2a2a"/>
<rect x="497.00" y="450.60" width="1.6" height="1.6" fill="#2a2a2a"/>
<rect x="500.05" y="450.60" width="1.6" height="1.6" fill="#2a2a2a"/>
<rect x="503.10" y="450.60" width="1.6" height="1.6" fill="#2a2a2a"/>
<line x1="313.75" y1="378.00" x2="325.50" y2="378.00" stroke="#6aaee2" stroke-width="1.5"/>
<circle cx="319.62" cy="378.00" r="1.6" fill="#6aaee2"/>
<text x="329.25" y="380.30" font-size="6.6" text-anchor="start" fill="#2a2a2a">DMSO</text>
<line x1="313.75" y1="388.50" x2="325.50" y2="388.50" stroke="#e08a2e" stroke-width="1.5"/>
<circle cx="319.62" cy="388.50" r="1.6" fill="#e08a2e"/>
<text x="329.25" y="390.80" font-size="6.6" text-anchor="start" fill="#2a2a2a">Tofacitinib 1 nM</text>
<line x1="313.75" y1="399.00" x2="325.50" y2="399.00" stroke="#c8c3c8" stroke-width="1.5"/>
<circle cx="319.62" cy="399.00" r="1.6" fill="#c8c3c8"/>
<text x="329.25" y="401.30" font-size="6.6" text-anchor="start" fill="#2a2a2a">Tofacitinib 10 nM</text>
<line x1="313.75" y1="409.50" x2="325.50" y2="409.50" stroke="#f3b62c" stroke-width="1.5"/>
<circle cx="319.62" cy="409.50" r="1.6" fill="#f3b62c"/>
<text x="329.25" y="411.80" font-size="6.6" text-anchor="start" fill="#2a2a2a">Tofacitinib 100 nM</text>
<line x1="313.75" y1="420.00" x2="325.50" y2="420.00" stroke="#2e4c7c" stroke-width="1.5"/>
<circle cx="319.62" cy="420.00" r="1.6" fill="#2e4c7c"/>
<text x="329.25" y="422.30" font-size="6.6" text-anchor="start" fill="#2a2a2a">Tofacitinib 1000 nM</text>
<line x1="313.75" y1="430.50" x2="325.50" y2="430.50" stroke="#69ad46" stroke-width="1.5"/>
<circle cx="319.62" cy="430.50" r="1.6" fill="#69ad46"/>
<text x="329.25" y="432.80" font-size="6.6" text-anchor="start" fill="#2a2a2a">Tofacitinib 10000 nM</text>
<line x1="46.20" y1="502.10" x2="46.20" y2="593.30" stroke="#333333" stroke-width="1.45"/>
<line x1="46.20" y1="590.10" x2="252.50" y2="590.10" stroke="#333333" stroke-width="1.45"/>
<line x1="42.90" y1="590.10" x2="46.20" y2="590.10" stroke="#333333" stroke-width="1.0"/>
<text x="40.50" y="592.40" font-size="6.5" text-anchor="end" fill="#333">0</text>
<line x1="42.90" y1="575.85" x2="46.20" y2="575.85" stroke="#333333" stroke-width="1.0"/>
<text x="40.50" y="578.15" font-size="6.5" text-anchor="end" fill="#333">1</text>
<line x1="42.90" y1="561.60" x2="46.20" y2="561.60" stroke="#333333" stroke-width="1.0"/>
<text x="40.50" y="563.90" font-size="6.5" text-anchor="end" fill="#333">2</text>
<line x1="42.90" y1="547.35" x2="46.20" y2="547.35" stroke="#333333" stroke-width="1.0"/>
<text x="40.50" y="549.65" font-size="6.5" text-anchor="end" fill="#333">3</text>
<line x1="42.90" y1="533.10" x2="46.20" y2="533.10" stroke="#333333" stroke-width="1.0"/>
<text x="40.50" y="535.40" font-size="6.5" text-anchor="end" fill="#333">4</text>
<line x1="42.90" y1="518.85" x2="46.20" y2="518.85" stroke="#333333" stroke-width="1.0"/>
<text x="40.50" y="521.15" font-size="6.5" text-anchor="end" fill="#333">5</text>
<line x1="42.90" y1="504.60" x2="46.20" y2="504.60" stroke="#333333" stroke-width="1.0"/>
<text x="40.50" y="506.90" font-size="6.5" text-anchor="end" fill="#333">6</text>
<line x1="46.20" y1="590.10" x2="46.20" y2="593.30" stroke="#333333" stroke-width="1.0"/>
<line x1="80.40" y1="590.10" x2="80.40" y2="593.30" stroke="#333333" stroke-width="1.0"/>
<line x1="114.60" y1="590.10" x2="114.60" y2="593.30" stroke="#333333" stroke-width="1.0"/>
<line x1="148.80" y1="590.10" x2="148.80" y2="593.30" stroke="#333333" stroke-width="1.0"/>
<line x1="183.00" y1="590.10" x2="183.00" y2="593.30" stroke="#333333" stroke-width="1.0"/>
<line x1="217.20" y1="590.10" x2="217.20" y2="593.30" stroke="#333333" stroke-width="1.0"/>
<line x1="251.40" y1="590.10" x2="251.40" y2="593.30" stroke="#333333" stroke-width="1.0"/>
<text x="63.80" y="602.70" font-size="6.5" text-anchor="middle" fill="#333">0d</text>
<text x="98.00" y="602.70" font-size="6.5" text-anchor="middle" fill="#333">1d</text>
<text x="132.20" y="602.70" font-size="6.5" text-anchor="middle" fill="#333">2d</text>
<text x="166.40" y="602.70" font-size="6.5" text-anchor="middle" fill="#333">3d</text>
<text x="200.60" y="602.70" font-size="6.5" text-anchor="middle" fill="#333">4d</text>
<text x="234.80" y="602.70" font-size="6.5" text-anchor="middle" fill="#333">5d</text>
<text class="h" x="0" y="0" font-size="9.9" textLength="97.20" lengthAdjust="spacingAndGlyphs" fill="#231f20" transform="translate(30.60,595.00) rotate(-90)">Cell density (Xmillion/ml)</text>
<text class="h" x="128.70" y="496.10" font-size="9.8" textLength="41.40" lengthAdjust="spacingAndGlyphs" fill="#231f20">A1929 BCL</text>
<polyline points="63.5,590.1 97.7,588.7 131.9,583.0 166.1,563.9 200.3,527.5 234.5,523.8" fill="none" stroke="#6aaee2" stroke-width="1.6" stroke-linejoin="round"/>
<circle cx="63.5" cy="590.1" r="1.55" fill="#6aaee2"/>
<circle cx="97.7" cy="588.7" r="1.55" fill="#6aaee2"/>
<circle cx="131.9" cy="583.0" r="1.55" fill="#6aaee2"/>
<circle cx="166.1" cy="563.9" r="1.55" fill="#6aaee2"/>
<circle cx="200.3" cy="527.5" r="1.55" fill="#6aaee2"/>
<circle cx="234.5" cy="523.8" r="1.55" fill="#6aaee2"/>
<polyline points="63.5,590.1 97.7,588.7 131.9,584.1 166.1,567.6 200.3,531.4 234.5,526.8" fill="none" stroke="#e08a2e" stroke-width="1.6" stroke-linejoin="round"/>
<circle cx="63.5" cy="590.1" r="1.55" fill="#e08a2e"/>
<circle cx="97.7" cy="588.7" r="1.55" fill="#e08a2e"/>
<circle cx="131.9" cy="584.1" r="1.55" fill="#e08a2e"/>
<circle cx="166.1" cy="567.6" r="1.55" fill="#e08a2e"/>
<circle cx="200.3" cy="531.4" r="1.55" fill="#e08a2e"/>
<circle cx="234.5" cy="526.8" r="1.55" fill="#e08a2e"/>
<polyline points="63.5,590.1 97.7,588.7 131.9,585.1 166.1,577.1 200.3,547.1 234.5,518.9" fill="none" stroke="#c8c3c8" stroke-width="1.6" stroke-linejoin="round"/>
<circle cx="63.5" cy="590.1" r="1.55" fill="#c8c3c8"/>
<circle cx="97.7" cy="588.7" r="1.55" fill="#c8c3c8"/>
<circle cx="131.9" cy="585.1" r="1.55" fill="#c8c3c8"/>
<circle cx="166.1" cy="577.1" r="1.55" fill="#c8c3c8"/>
<circle cx="200.3" cy="547.1" r="1.55" fill="#c8c3c8"/>
<circle cx="234.5" cy="518.9" r="1.55" fill="#c8c3c8"/>
<polyline points="63.5,590.1 97.7,588.7 131.9,589.4 166.1,589.4 200.3,588.1 234.5,587.1" fill="none" stroke="#f3b62c" stroke-width="1.6" stroke-linejoin="round"/>
<circle cx="63.5" cy="590.1" r="1.55" fill="#f3b62c"/>
<circle cx="97.7" cy="588.7" r="1.55" fill="#f3b62c"/>
<circle cx="131.9" cy="589.4" r="1.55" fill="#f3b62c"/>
<circle cx="166.1" cy="589.4" r="1.55" fill="#f3b62c"/>
<circle cx="200.3" cy="588.1" r="1.55" fill="#f3b62c"/>
<circle cx="234.5" cy="587.1" r="1.55" fill="#f3b62c"/>
<polyline points="63.5,590.1 97.7,589.8 131.9,589.7 166.1,589.5 200.3,589.4 234.5,589.4" fill="none" stroke="#2e4c7c" stroke-width="1.6" stroke-linejoin="round"/>
<circle cx="63.5" cy="590.1" r="1.55" fill="#2e4c7c"/>
<circle cx="97.7" cy="589.8" r="1.55" fill="#2e4c7c"/>
<circle cx="131.9" cy="589.7" r="1.55" fill="#2e4c7c"/>
<circle cx="166.1" cy="589.5" r="1.55" fill="#2e4c7c"/>
<circle cx="200.3" cy="589.4" r="1.55" fill="#2e4c7c"/>
<circle cx="234.5" cy="589.4" r="1.55" fill="#2e4c7c"/>
<polyline points="63.5,590.1 97.7,589.8 131.9,589.7 166.1,589.7 200.3,589.7 234.5,589.7" fill="none" stroke="#69ad46" stroke-width="1.6" stroke-linejoin="round"/>
<circle cx="63.5" cy="590.1" r="1.55" fill="#69ad46"/>
<circle cx="97.7" cy="589.8" r="1.55" fill="#69ad46"/>
<circle cx="131.9" cy="589.7" r="1.55" fill="#69ad46"/>
<circle cx="166.1" cy="589.7" r="1.55" fill="#69ad46"/>
<circle cx="200.3" cy="589.7" r="1.55" fill="#69ad46"/>
<circle cx="234.5" cy="589.7" r="1.55" fill="#69ad46"/>
<line x1="234.50" y1="515.29" x2="234.50" y2="533.10" stroke="#231f20" stroke-width="0.95"/>
<line x1="232.90" y1="515.29" x2="236.10" y2="515.29" stroke="#231f20" stroke-width="0.95"/>
<line x1="232.90" y1="533.10" x2="236.10" y2="533.10" stroke="#231f20" stroke-width="0.95"/>
<line x1="200.30" y1="521.70" x2="200.30" y2="533.10" stroke="#231f20" stroke-width="0.95"/>
<line x1="198.70" y1="521.70" x2="201.90" y2="521.70" stroke="#231f20" stroke-width="0.95"/>
<line x1="198.70" y1="533.10" x2="201.90" y2="533.10" stroke="#231f20" stroke-width="0.95"/>
<line x1="200.30" y1="542.36" x2="200.30" y2="550.91" stroke="#231f20" stroke-width="0.95"/>
<line x1="198.70" y1="542.36" x2="201.90" y2="542.36" stroke="#231f20" stroke-width="0.95"/>
<line x1="198.70" y1="550.91" x2="201.90" y2="550.91" stroke="#231f20" stroke-width="0.95"/>
<line x1="166.10" y1="560.89" x2="166.10" y2="567.30" stroke="#231f20" stroke-width="0.95"/>
<line x1="164.50" y1="560.89" x2="167.70" y2="560.89" stroke="#231f20" stroke-width="0.95"/>
<line x1="164.50" y1="567.30" x2="167.70" y2="567.30" stroke="#231f20" stroke-width="0.95"/>
<line x1="166.10" y1="565.88" x2="166.10" y2="572.00" stroke="#231f20" stroke-width="0.95"/>
<line x1="164.50" y1="565.88" x2="167.70" y2="565.88" stroke="#231f20" stroke-width="0.95"/>
<line x1="164.50" y1="572.00" x2="167.70" y2="572.00" stroke="#231f20" stroke-width="0.95"/>
<rect x="237.30" y="571.90" width="1.6" height="1.6" fill="#2a2a2a"/>
<rect x="240.35" y="571.90" width="1.6" height="1.6" fill="#2a2a2a"/>
<rect x="243.40" y="571.90" width="1.6" height="1.6" fill="#2a2a2a"/>
<rect x="237.30" y="579.60" width="1.6" height="1.6" fill="#2a2a2a"/>
<rect x="240.35" y="579.60" width="1.6" height="1.6" fill="#2a2a2a"/>
<rect x="243.40" y="579.60" width="1.6" height="1.6" fill="#2a2a2a"/>
<rect x="237.30" y="586.50" width="1.6" height="1.6" fill="#2a2a2a"/>
<rect x="240.35" y="586.50" width="1.6" height="1.6" fill="#2a2a2a"/>
<rect x="243.40" y="586.50" width="1.6" height="1.6" fill="#2a2a2a"/>
<line x1="53.25" y1="515.25" x2="65.00" y2="515.25" stroke="#6aaee2" stroke-width="1.5"/>
<circle cx="59.12" cy="515.25" r="1.6" fill="#6aaee2"/>
<text x="68.00" y="517.55" font-size="6.6" text-anchor="start" fill="#2a2a2a">DMSO</text>
<line x1="53.25" y1="525.80" x2="65.00" y2="525.80" stroke="#e08a2e" stroke-width="1.5"/>
<circle cx="59.12" cy="525.80" r="1.6" fill="#e08a2e"/>
<text x="68.00" y="528.10" font-size="6.6" text-anchor="start" fill="#2a2a2a">Ruxolitinib 1 nM</text>
<line x1="53.25" y1="536.35" x2="65.00" y2="536.35" stroke="#c8c3c8" stroke-width="1.5"/>
<circle cx="59.12" cy="536.35" r="1.6" fill="#c8c3c8"/>
<text x="68.00" y="538.65" font-size="6.6" text-anchor="start" fill="#2a2a2a">Ruxolitinib 10 nM</text>
<line x1="53.25" y1="546.90" x2="65.00" y2="546.90" stroke="#f3b62c" stroke-width="1.5"/>
<circle cx="59.12" cy="546.90" r="1.6" fill="#f3b62c"/>
<text x="68.00" y="549.20" font-size="6.6" text-anchor="start" fill="#2a2a2a">Ruxolitinib 100 nM</text>
<line x1="53.25" y1="557.45" x2="65.00" y2="557.45" stroke="#2e4c7c" stroke-width="1.5"/>
<circle cx="59.12" cy="557.45" r="1.6" fill="#2e4c7c"/>
<text x="68.00" y="559.75" font-size="6.6" text-anchor="start" fill="#2a2a2a">Ruxolitinib 1000 nM</text>
<line x1="53.25" y1="568.00" x2="65.00" y2="568.00" stroke="#69ad46" stroke-width="1.5"/>
<circle cx="59.12" cy="568.00" r="1.6" fill="#69ad46"/>
<text x="68.00" y="570.30" font-size="6.6" text-anchor="start" fill="#2a2a2a">Ruxolitinib 10000 nM</text>
<line x1="306.20" y1="502.10" x2="306.20" y2="593.30" stroke="#333333" stroke-width="1.45"/>
<line x1="306.20" y1="590.10" x2="511.25" y2="590.10" stroke="#333333" stroke-width="1.45"/>
<line x1="302.90" y1="590.10" x2="306.20" y2="590.10" stroke="#333333" stroke-width="1.0"/>
<text x="300.50" y="592.40" font-size="6.5" text-anchor="end" fill="#333">0</text>
<line x1="302.90" y1="575.85" x2="306.20" y2="575.85" stroke="#333333" stroke-width="1.0"/>
<text x="300.50" y="578.15" font-size="6.5" text-anchor="end" fill="#333">1</text>
<line x1="302.90" y1="561.60" x2="306.20" y2="561.60" stroke="#333333" stroke-width="1.0"/>
<text x="300.50" y="563.90" font-size="6.5" text-anchor="end" fill="#333">2</text>
<line x1="302.90" y1="547.35" x2="306.20" y2="547.35" stroke="#333333" stroke-width="1.0"/>
<text x="300.50" y="549.65" font-size="6.5" text-anchor="end" fill="#333">3</text>
<line x1="302.90" y1="533.10" x2="306.20" y2="533.10" stroke="#333333" stroke-width="1.0"/>
<text x="300.50" y="535.40" font-size="6.5" text-anchor="end" fill="#333">4</text>
<line x1="302.90" y1="518.85" x2="306.20" y2="518.85" stroke="#333333" stroke-width="1.0"/>
<text x="300.50" y="521.15" font-size="6.5" text-anchor="end" fill="#333">5</text>
<line x1="302.90" y1="504.60" x2="306.20" y2="504.60" stroke="#333333" stroke-width="1.0"/>
<text x="300.50" y="506.90" font-size="6.5" text-anchor="end" fill="#333">6</text>
<line x1="306.20" y1="590.10" x2="306.20" y2="593.30" stroke="#333333" stroke-width="1.0"/>
<line x1="340.60" y1="590.10" x2="340.60" y2="593.30" stroke="#333333" stroke-width="1.0"/>
<line x1="375.00" y1="590.10" x2="375.00" y2="593.30" stroke="#333333" stroke-width="1.0"/>
<line x1="409.40" y1="590.10" x2="409.40" y2="593.30" stroke="#333333" stroke-width="1.0"/>
<line x1="443.80" y1="590.10" x2="443.80" y2="593.30" stroke="#333333" stroke-width="1.0"/>
<line x1="478.20" y1="590.10" x2="478.20" y2="593.30" stroke="#333333" stroke-width="1.0"/>
<text x="323.50" y="602.70" font-size="6.5" text-anchor="middle" fill="#333">0d</text>
<text x="357.90" y="602.70" font-size="6.5" text-anchor="middle" fill="#333">1d</text>
<text x="392.30" y="602.70" font-size="6.5" text-anchor="middle" fill="#333">2d</text>
<text x="426.70" y="602.70" font-size="6.5" text-anchor="middle" fill="#333">3d</text>
<text x="461.10" y="602.70" font-size="6.5" text-anchor="middle" fill="#333">4d</text>
<text x="495.50" y="602.70" font-size="6.5" text-anchor="middle" fill="#333">5d</text>
<text class="h" x="0" y="0" font-size="9.9" textLength="97.20" lengthAdjust="spacingAndGlyphs" fill="#231f20" transform="translate(290.60,595.00) rotate(-90)">Cell density (Xmillion/ml)</text>
<text class="h" x="388.70" y="496.10" font-size="9.8" textLength="41.40" lengthAdjust="spacingAndGlyphs" fill="#231f20">A1929 BCL</text>
<polyline points="322.7,590.1 357.1,588.7 391.5,583.7 425.9,563.9 460.3,526.4 494.7,523.1" fill="none" stroke="#6aaee2" stroke-width="1.6" stroke-linejoin="round"/>
<circle cx="322.7" cy="590.1" r="1.55" fill="#6aaee2"/>
<circle cx="357.1" cy="588.7" r="1.55" fill="#6aaee2"/>
<circle cx="391.5" cy="583.7" r="1.55" fill="#6aaee2"/>
<circle cx="425.9" cy="563.9" r="1.55" fill="#6aaee2"/>
<circle cx="460.3" cy="526.4" r="1.55" fill="#6aaee2"/>
<circle cx="494.7" cy="523.1" r="1.55" fill="#6aaee2"/>
<polyline points="322.7,590.1 357.1,588.7 391.5,583.7 425.9,561.3 460.3,523.8 494.7,528.1" fill="none" stroke="#e08a2e" stroke-width="1.6" stroke-linejoin="round"/>
<circle cx="322.7" cy="590.1" r="1.55" fill="#e08a2e"/>
<circle cx="357.1" cy="588.7" r="1.55" fill="#e08a2e"/>
<circle cx="391.5" cy="583.7" r="1.55" fill="#e08a2e"/>
<circle cx="425.9" cy="561.3" r="1.55" fill="#e08a2e"/>
<circle cx="460.3" cy="523.8" r="1.55" fill="#e08a2e"/>
<circle cx="494.7" cy="528.1" r="1.55" fill="#e08a2e"/>
<polyline points="322.7,590.1 357.1,589.4 391.5,587.2 425.9,576.4 460.3,548.8 494.7,518.1" fill="none" stroke="#c8c3c8" stroke-width="1.6" stroke-linejoin="round"/>
<circle cx="322.7" cy="590.1" r="1.55" fill="#c8c3c8"/>
<circle cx="357.1" cy="589.4" r="1.55" fill="#c8c3c8"/>
<circle cx="391.5" cy="587.2" r="1.55" fill="#c8c3c8"/>
<circle cx="425.9" cy="576.4" r="1.55" fill="#c8c3c8"/>
<circle cx="460.3" cy="548.8" r="1.55" fill="#c8c3c8"/>
<circle cx="494.7" cy="518.1" r="1.55" fill="#c8c3c8"/>
<polyline points="322.7,590.1 357.1,589.4 391.5,589.4 425.9,589.4 460.3,589.0 494.7,588.7" fill="none" stroke="#f3b62c" stroke-width="1.6" stroke-linejoin="round"/>
<circle cx="322.7" cy="590.1" r="1.55" fill="#f3b62c"/>
<circle cx="357.1" cy="589.4" r="1.55" fill="#f3b62c"/>
<circle cx="391.5" cy="589.4" r="1.55" fill="#f3b62c"/>
<circle cx="425.9" cy="589.4" r="1.55" fill="#f3b62c"/>
<circle cx="460.3" cy="589.0" r="1.55" fill="#f3b62c"/>
<circle cx="494.7" cy="588.7" r="1.55" fill="#f3b62c"/>
<polyline points="322.7,590.1 357.1,589.8 391.5,589.7 425.9,589.5 460.3,589.4 494.7,589.4" fill="none" stroke="#2e4c7c" stroke-width="1.6" stroke-linejoin="round"/>
<circle cx="322.7" cy="590.1" r="1.55" fill="#2e4c7c"/>
<circle cx="357.1" cy="589.8" r="1.55" fill="#2e4c7c"/>
<circle cx="391.5" cy="589.7" r="1.55" fill="#2e4c7c"/>
<circle cx="425.9" cy="589.5" r="1.55" fill="#2e4c7c"/>
<circle cx="460.3" cy="589.4" r="1.55" fill="#2e4c7c"/>
<circle cx="494.7" cy="589.4" r="1.55" fill="#2e4c7c"/>
<polyline points="322.7,590.1 357.1,589.8 391.5,589.7 425.9,589.7 460.3,589.7 494.7,589.7" fill="none" stroke="#69ad46" stroke-width="1.6" stroke-linejoin="round"/>
<circle cx="322.7" cy="590.1" r="1.55" fill="#69ad46"/>
<circle cx="357.1" cy="589.8" r="1.55" fill="#69ad46"/>
<circle cx="391.5" cy="589.7" r="1.55" fill="#69ad46"/>
<circle cx="425.9" cy="589.7" r="1.55" fill="#69ad46"/>
<circle cx="460.3" cy="589.7" r="1.55" fill="#69ad46"/>
<circle cx="494.7" cy="589.7" r="1.55" fill="#69ad46"/>
<line x1="494.70" y1="513.15" x2="494.70" y2="536.66" stroke="#231f20" stroke-width="0.95"/>
<line x1="493.10" y1="513.15" x2="496.30" y2="513.15" stroke="#231f20" stroke-width="0.95"/>
<line x1="493.10" y1="536.66" x2="496.30" y2="536.66" stroke="#231f20" stroke-width="0.95"/>
<line x1="460.30" y1="516.00" x2="460.30" y2="531.68" stroke="#231f20" stroke-width="0.95"/>
<line x1="458.70" y1="516.00" x2="461.90" y2="516.00" stroke="#231f20" stroke-width="0.95"/>
<line x1="458.70" y1="531.68" x2="461.90" y2="531.68" stroke="#231f20" stroke-width="0.95"/>
<line x1="460.30" y1="544.50" x2="460.30" y2="551.62" stroke="#231f20" stroke-width="0.95"/>
<line x1="458.70" y1="544.50" x2="461.90" y2="544.50" stroke="#231f20" stroke-width="0.95"/>
<line x1="458.70" y1="551.62" x2="461.90" y2="551.62" stroke="#231f20" stroke-width="0.95"/>
<line x1="425.90" y1="556.61" x2="425.90" y2="568.01" stroke="#231f20" stroke-width="0.95"/>
<line x1="424.30" y1="556.61" x2="427.50" y2="556.61" stroke="#231f20" stroke-width="0.95"/>
<line x1="424.30" y1="568.01" x2="427.50" y2="568.01" stroke="#231f20" stroke-width="0.95"/>
<line x1="425.90" y1="573.00" x2="425.90" y2="581.55" stroke="#231f20" stroke-width="0.95"/>
<line x1="424.30" y1="573.00" x2="427.50" y2="573.00" stroke="#231f20" stroke-width="0.95"/>
<line x1="424.30" y1="581.55" x2="427.50" y2="581.55" stroke="#231f20" stroke-width="0.95"/>
<rect x="499.50" y="571.40" width="1.6" height="1.6" fill="#2a2a2a"/>
<rect x="502.55" y="571.40" width="1.6" height="1.6" fill="#2a2a2a"/>
<rect x="505.60" y="571.40" width="1.6" height="1.6" fill="#2a2a2a"/>
<rect x="499.50" y="579.20" width="1.6" height="1.6" fill="#2a2a2a"/>
<rect x="502.55" y="579.20" width="1.6" height="1.6" fill="#2a2a2a"/>
<rect x="505.60" y="579.20" width="1.6" height="1.6" fill="#2a2a2a"/>
<rect x="499.50" y="586.70" width="1.6" height="1.6" fill="#2a2a2a"/>
<rect x="502.55" y="586.70" width="1.6" height="1.6" fill="#2a2a2a"/>
<rect x="505.60" y="586.70" width="1.6" height="1.6" fill="#2a2a2a"/>
<line x1="312.00" y1="510.50" x2="323.75" y2="510.50" stroke="#6aaee2" stroke-width="1.5"/>
<circle cx="317.88" cy="510.50" r="1.6" fill="#6aaee2"/>
<text x="327.00" y="512.80" font-size="6.6" text-anchor="start" fill="#2a2a2a">DMSO</text>
<line x1="312.00" y1="522.25" x2="323.75" y2="522.25" stroke="#e08a2e" stroke-width="1.5"/>
<circle cx="317.88" cy="522.25" r="1.6" fill="#e08a2e"/>
<text x="327.00" y="524.55" font-size="6.6" text-anchor="start" fill="#2a2a2a">Tofacitinib 1 nM</text>
<line x1="312.00" y1="534.00" x2="323.75" y2="534.00" stroke="#c8c3c8" stroke-width="1.5"/>
<circle cx="317.88" cy="534.00" r="1.6" fill="#c8c3c8"/>
<text x="327.00" y="536.30" font-size="6.6" text-anchor="start" fill="#2a2a2a">Tofacitinib 10 nM</text>
<line x1="312.00" y1="545.75" x2="323.75" y2="545.75" stroke="#f3b62c" stroke-width="1.5"/>
<circle cx="317.88" cy="545.75" r="1.6" fill="#f3b62c"/>
<text x="327.00" y="548.05" font-size="6.6" text-anchor="start" fill="#2a2a2a">Tofacitinib 100 nM</text>
<line x1="312.00" y1="557.50" x2="323.75" y2="557.50" stroke="#2e4c7c" stroke-width="1.5"/>
<circle cx="317.88" cy="557.50" r="1.6" fill="#2e4c7c"/>
<text x="327.00" y="559.80" font-size="6.6" text-anchor="start" fill="#2a2a2a">Tofacitinib 1000 nM</text>
<line x1="312.00" y1="569.25" x2="323.75" y2="569.25" stroke="#69ad46" stroke-width="1.5"/>
<circle cx="317.88" cy="569.25" r="1.6" fill="#69ad46"/>
<text x="327.00" y="571.55" font-size="6.6" text-anchor="start" fill="#2a2a2a">Tofacitinib 10000 nM</text>
<line x1="306.50" y1="39.75" x2="306.50" y2="143.75" stroke="#333333" stroke-width="1.45"/>
<line x1="302.90" y1="143.75" x2="500.00" y2="143.75" stroke="#333333" stroke-width="1.45"/>
<line x1="303.20" y1="143.75" x2="306.50" y2="143.75" stroke="#333333" stroke-width="1.0"/>
<text x="300.30" y="146.05" font-size="6.5" text-anchor="end" fill="#333">0</text>
<line x1="303.20" y1="129.25" x2="306.50" y2="129.25" stroke="#333333" stroke-width="1.0"/>
<text x="300.30" y="131.55" font-size="6.5" text-anchor="end" fill="#333">1</text>
<line x1="303.20" y1="114.75" x2="306.50" y2="114.75" stroke="#333333" stroke-width="1.0"/>
<text x="300.30" y="117.05" font-size="6.5" text-anchor="end" fill="#333">2</text>
<line x1="303.20" y1="100.25" x2="306.50" y2="100.25" stroke="#333333" stroke-width="1.0"/>
<text x="300.30" y="102.55" font-size="6.5" text-anchor="end" fill="#333">3</text>
<line x1="303.20" y1="85.75" x2="306.50" y2="85.75" stroke="#333333" stroke-width="1.0"/>
<text x="300.30" y="88.05" font-size="6.5" text-anchor="end" fill="#333">4</text>
<line x1="303.20" y1="71.25" x2="306.50" y2="71.25" stroke="#333333" stroke-width="1.0"/>
<text x="300.30" y="73.55" font-size="6.5" text-anchor="end" fill="#333">5</text>
<line x1="303.20" y1="56.75" x2="306.50" y2="56.75" stroke="#333333" stroke-width="1.0"/>
<text x="300.30" y="59.05" font-size="6.5" text-anchor="end" fill="#333">6</text>
<line x1="303.20" y1="42.25" x2="306.50" y2="42.25" stroke="#333333" stroke-width="1.0"/>
<text x="300.30" y="44.55" font-size="6.5" text-anchor="end" fill="#333">7</text>
<text x="314.25" y="153.30" font-size="6.5" text-anchor="middle" fill="#333">0d</text>
<text x="330.45" y="153.30" font-size="6.5" text-anchor="middle" fill="#333">1d</text>
<text x="346.65" y="153.30" font-size="6.5" text-anchor="middle" fill="#333">2d</text>
<text x="362.85" y="153.30" font-size="6.5" text-anchor="middle" fill="#333">3d</text>
<text x="379.05" y="153.30" font-size="6.5" text-anchor="middle" fill="#333">4d</text>
<text x="395.25" y="153.30" font-size="6.5" text-anchor="middle" fill="#333">5d</text>
<text x="411.45" y="153.30" font-size="6.5" text-anchor="middle" fill="#333">6d</text>
<text x="427.65" y="153.30" font-size="6.5" text-anchor="middle" fill="#333">7d</text>
<text x="443.85" y="153.30" font-size="6.5" text-anchor="middle" fill="#333">8d</text>
<text x="460.05" y="153.30" font-size="6.5" text-anchor="middle" fill="#333">9d</text>
<text x="476.25" y="153.30" font-size="6.5" text-anchor="middle" fill="#333">10d</text>
<text x="492.45" y="153.30" font-size="6.5" text-anchor="middle" fill="#333">11d</text>
<text class="h" x="0" y="0" font-size="9.9" textLength="97.50" lengthAdjust="spacingAndGlyphs" fill="#231f20" transform="translate(290.30,140.90) rotate(-90)">Cell density (Xmillion/ml)</text>
<polyline points="314.2,143.8 330.4,143.8 346.6,143.8 362.9,143.8 379.1,143.8 395.2,143.8 411.4,143.8 427.6,143.8 443.9,143.8" fill="none" stroke="#6aaee2" stroke-width="1.7" stroke-dasharray="1.3,1.5" stroke-linejoin="round"/>
<circle cx="314.2" cy="143.8" r="1.9" fill="#6aaee2"/>
<circle cx="330.4" cy="143.8" r="1.9" fill="#6aaee2"/>
<circle cx="346.6" cy="143.8" r="1.9" fill="#6aaee2"/>
<circle cx="362.9" cy="143.8" r="1.9" fill="#6aaee2"/>
<circle cx="379.1" cy="143.8" r="1.9" fill="#6aaee2"/>
<circle cx="395.2" cy="143.8" r="1.9" fill="#6aaee2"/>
<circle cx="411.4" cy="143.8" r="1.9" fill="#6aaee2"/>
<circle cx="427.6" cy="143.8" r="1.9" fill="#6aaee2"/>
<circle cx="443.9" cy="143.8" r="1.9" fill="#6aaee2"/>
<polyline points="314.2,143.8 330.4,143.8 346.6,143.8 362.9,143.8 379.1,143.8 395.2,143.8 411.4,143.8 427.6,143.8 443.9,143.8 460.0,143.8 476.2,143.8 492.4,143.8" fill="none" stroke="#69ad46" stroke-width="1.7" stroke-dasharray="1.3,1.5" stroke-linejoin="round"/>
<circle cx="314.2" cy="143.8" r="1.9" fill="#69ad46"/>
<circle cx="330.4" cy="143.8" r="1.9" fill="#69ad46"/>
<circle cx="346.6" cy="143.8" r="1.9" fill="#69ad46"/>
<circle cx="362.9" cy="143.8" r="1.9" fill="#69ad46"/>
<circle cx="379.1" cy="143.8" r="1.9" fill="#69ad46"/>
<circle cx="395.2" cy="143.8" r="1.9" fill="#69ad46"/>
<circle cx="411.4" cy="143.8" r="1.9" fill="#69ad46"/>
<circle cx="427.6" cy="143.8" r="1.9" fill="#69ad46"/>
<circle cx="443.9" cy="143.8" r="1.9" fill="#69ad46"/>
<circle cx="460.0" cy="143.8" r="1.9" fill="#69ad46"/>
<circle cx="476.2" cy="143.8" r="1.9" fill="#69ad46"/>
<circle cx="492.4" cy="143.8" r="1.9" fill="#69ad46"/>
<polyline points="314.2,143.8 330.4,143.8 346.6,143.8 362.9,143.8 379.1,143.3 395.2,143.0 411.4,142.3" fill="none" stroke="#a6283d" stroke-width="1.7" stroke-dasharray="1.3,1.5" stroke-linejoin="round"/>
<circle cx="314.2" cy="143.8" r="1.9" fill="#a6283d"/>
<circle cx="330.4" cy="143.8" r="1.9" fill="#a6283d"/>
<circle cx="346.6" cy="143.8" r="1.9" fill="#a6283d"/>
<circle cx="362.9" cy="143.8" r="1.9" fill="#a6283d"/>
<circle cx="379.1" cy="143.3" r="1.9" fill="#a6283d"/>
<circle cx="395.2" cy="143.0" r="1.9" fill="#a6283d"/>
<circle cx="411.4" cy="142.3" r="1.9" fill="#a6283d"/>
<polyline points="314.2,143.8 330.4,143.8 346.6,143.8 362.9,143.8 379.1,141.6 395.2,135.5 411.4,115.5 427.6,98.1 443.9,100.7" fill="none" stroke="#6aaee2" stroke-width="1.7" stroke-linejoin="round"/>
<circle cx="314.2" cy="143.8" r="1.9" fill="#6aaee2"/>
<circle cx="330.4" cy="143.8" r="1.9" fill="#6aaee2"/>
<circle cx="346.6" cy="143.8" r="1.9" fill="#6aaee2"/>
<circle cx="362.9" cy="143.8" r="1.9" fill="#6aaee2"/>
<circle cx="379.1" cy="141.6" r="1.9" fill="#6aaee2"/>
<circle cx="395.2" cy="135.5" r="1.9" fill="#6aaee2"/>
<circle cx="411.4" cy="115.5" r="1.9" fill="#6aaee2"/>
<circle cx="427.6" cy="98.1" r="1.9" fill="#6aaee2"/>
<circle cx="443.9" cy="100.7" r="1.9" fill="#6aaee2"/>
<polyline points="314.2,143.8 330.4,143.8 346.6,143.8 362.9,143.8 379.1,143.8 395.2,143.8 411.4,143.3 427.6,141.3 443.9,135.5 460.0,122.0 476.2,110.7 492.4,110.7" fill="none" stroke="#69ad46" stroke-width="1.7" stroke-linejoin="round"/>
<circle cx="314.2" cy="143.8" r="1.9" fill="#69ad46"/>
<circle cx="330.4" cy="143.8" r="1.9" fill="#69ad46"/>
<circle cx="346.6" cy="143.8" r="1.9" fill="#69ad46"/>
<circle cx="362.9" cy="143.8" r="1.9" fill="#69ad46"/>
<circle cx="379.1" cy="143.8" r="1.9" fill="#69ad46"/>
<circle cx="395.2" cy="143.8" r="1.9" fill="#69ad46"/>
<circle cx="411.4" cy="143.3" r="1.9" fill="#69ad46"/>
<circle cx="427.6" cy="141.3" r="1.9" fill="#69ad46"/>
<circle cx="443.9" cy="135.5" r="1.9" fill="#69ad46"/>
<circle cx="460.0" cy="122.0" r="1.9" fill="#69ad46"/>
<circle cx="476.2" cy="110.7" r="1.9" fill="#69ad46"/>
<circle cx="492.4" cy="110.7" r="1.9" fill="#69ad46"/>
<polyline points="314.2,143.8 330.4,143.8 346.6,143.8 362.9,143.0 379.1,135.1 395.2,102.0 411.4,78.2" fill="none" stroke="#a6283d" stroke-width="1.7" stroke-linejoin="round"/>
<circle cx="314.2" cy="143.8" r="1.9" fill="#a6283d"/>
<circle cx="330.4" cy="143.8" r="1.9" fill="#a6283d"/>
<circle cx="346.6" cy="143.8" r="1.9" fill="#a6283d"/>
<circle cx="362.9" cy="143.0" r="1.9" fill="#a6283d"/>
<circle cx="379.1" cy="135.1" r="1.9" fill="#a6283d"/>
<circle cx="395.2" cy="102.0" r="1.9" fill="#a6283d"/>
<circle cx="411.4" cy="78.2" r="1.9" fill="#a6283d"/>
<line x1="411.45" y1="111.85" x2="411.45" y2="118.38" stroke="#231f20" stroke-width="0.95"/>
<line x1="409.85" y1="111.85" x2="413.05" y2="111.85" stroke="#231f20" stroke-width="0.95"/>
<line x1="409.85" y1="118.38" x2="413.05" y2="118.38" stroke="#231f20" stroke-width="0.95"/>
<line x1="427.65" y1="92.71" x2="427.65" y2="103.44" stroke="#231f20" stroke-width="0.95"/>
<line x1="426.05" y1="92.71" x2="429.25" y2="92.71" stroke="#231f20" stroke-width="0.95"/>
<line x1="426.05" y1="103.44" x2="429.25" y2="103.44" stroke="#231f20" stroke-width="0.95"/>
<line x1="443.85" y1="91.55" x2="443.85" y2="110.11" stroke="#231f20" stroke-width="0.95"/>
<line x1="442.25" y1="91.55" x2="445.45" y2="91.55" stroke="#231f20" stroke-width="0.95"/>
<line x1="442.25" y1="110.11" x2="445.45" y2="110.11" stroke="#231f20" stroke-width="0.95"/>
<line x1="492.45" y1="101.70" x2="492.45" y2="119.83" stroke="#231f20" stroke-width="0.95"/>
<line x1="490.85" y1="101.70" x2="494.05" y2="101.70" stroke="#231f20" stroke-width="0.95"/>
<line x1="490.85" y1="119.83" x2="494.05" y2="119.83" stroke="#231f20" stroke-width="0.95"/>
<line x1="395.25" y1="94.16" x2="395.25" y2="111.12" stroke="#231f20" stroke-width="0.95"/>
<line x1="393.65" y1="94.16" x2="396.85" y2="94.16" stroke="#231f20" stroke-width="0.95"/>
<line x1="393.65" y1="111.12" x2="396.85" y2="111.12" stroke="#231f20" stroke-width="0.95"/>
<line x1="411.45" y1="60.38" x2="411.45" y2="96.19" stroke="#231f20" stroke-width="0.95"/>
<line x1="409.85" y1="60.38" x2="413.05" y2="60.38" stroke="#231f20" stroke-width="0.95"/>
<line x1="409.85" y1="96.19" x2="413.05" y2="96.19" stroke="#231f20" stroke-width="0.95"/>
<line x1="379.05" y1="132.15" x2="379.05" y2="137.22" stroke="#231f20" stroke-width="0.95"/>
<line x1="377.45" y1="132.15" x2="380.65" y2="132.15" stroke="#231f20" stroke-width="0.95"/>
<line x1="377.45" y1="137.22" x2="380.65" y2="137.22" stroke="#231f20" stroke-width="0.95"/>
<line x1="308.00" y1="46.50" x2="323.80" y2="46.50" stroke="#6aaee2" stroke-width="1.8" stroke-dasharray="1.3,1.5"/>
<circle cx="315.90" cy="46.50" r="1.9" fill="#6aaee2"/>
<text x="326.70" y="48.90" font-size="7.0" textLength="26.60" lengthAdjust="spacingAndGlyphs" fill="#2a2a2a">T259 BCL</text>
<line x1="308.00" y1="56.97" x2="323.80" y2="56.97" stroke="#6aaee2" stroke-width="1.8"/>
<circle cx="315.90" cy="56.97" r="1.9" fill="#6aaee2"/>
<text x="326.70" y="59.37" font-size="7.0" textLength="37.00" lengthAdjust="spacingAndGlyphs" fill="#2a2a2a">T259 BCL IL7</text>
<line x1="308.00" y1="67.44" x2="323.80" y2="67.44" stroke="#69ad46" stroke-width="1.8" stroke-dasharray="1.3,1.5"/>
<circle cx="315.90" cy="67.44" r="1.9" fill="#69ad46"/>
<text x="326.70" y="69.84" font-size="7.0" textLength="31.30" lengthAdjust="spacingAndGlyphs" fill="#2a2a2a">A1929 BCL</text>
<line x1="308.00" y1="77.91" x2="323.80" y2="77.91" stroke="#69ad46" stroke-width="1.8"/>
<circle cx="315.90" cy="77.91" r="1.9" fill="#69ad46"/>
<text x="326.70" y="80.31" font-size="7.0" textLength="41.30" lengthAdjust="spacingAndGlyphs" fill="#2a2a2a">A1929 BCL IL7</text>
<line x1="308.00" y1="88.38" x2="323.80" y2="88.38" stroke="#a6283d" stroke-width="1.8" stroke-dasharray="1.3,1.5"/>
<circle cx="315.90" cy="88.38" r="1.9" fill="#a6283d"/>
<text x="326.70" y="90.78" font-size="7.0" textLength="31.30" lengthAdjust="spacingAndGlyphs" fill="#2a2a2a">A1942 BCL</text>
<line x1="308.00" y1="98.85" x2="323.80" y2="98.85" stroke="#a6283d" stroke-width="1.8"/>
<circle cx="315.90" cy="98.85" r="1.9" fill="#a6283d"/>
<text x="326.70" y="101.25" font-size="7.0" textLength="43.60" lengthAdjust="spacingAndGlyphs" fill="#2a2a2a">A1942 BCL+IL7</text>
<rect x="57.2" y="638" width="65.3" height="85" fill="#dad6da"/>
<line x1="46.30" y1="638.00" x2="46.30" y2="726.30" stroke="#333333" stroke-width="1.45"/>
<line x1="46.30" y1="723.30" x2="175.40" y2="723.30" stroke="#333333" stroke-width="1.45"/>
<line x1="43.00" y1="723.30" x2="46.30" y2="723.30" stroke="#333333" stroke-width="1.0"/>
<text x="40.30" y="725.40" font-size="6.0" text-anchor="end" fill="#333">0</text>
<line x1="43.00" y1="684.97" x2="46.30" y2="684.97" stroke="#333333" stroke-width="1.0"/>
<text x="40.30" y="687.07" font-size="6.0" text-anchor="end" fill="#333">50</text>
<line x1="43.00" y1="646.65" x2="46.30" y2="646.65" stroke="#333333" stroke-width="1.0"/>
<text x="40.30" y="648.75" font-size="6.0" text-anchor="end" fill="#333">100</text>
<line x1="46.30" y1="723.30" x2="46.30" y2="726.30" stroke="#333333" stroke-width="1.0"/>
<text x="46.30" y="735.40" font-size="6.0" text-anchor="middle" fill="#333">0</text>
<line x1="77.95" y1="723.30" x2="77.95" y2="726.30" stroke="#333333" stroke-width="1.0"/>
<text x="77.95" y="735.40" font-size="6.0" text-anchor="middle" fill="#333">10</text>
<line x1="109.60" y1="723.30" x2="109.60" y2="726.30" stroke="#333333" stroke-width="1.0"/>
<text x="109.60" y="735.40" font-size="6.0" text-anchor="middle" fill="#333">20</text>
<line x1="141.25" y1="723.30" x2="141.25" y2="726.30" stroke="#333333" stroke-width="1.0"/>
<text x="141.25" y="735.40" font-size="6.0" text-anchor="middle" fill="#333">30</text>
<line x1="172.90" y1="723.30" x2="172.90" y2="726.30" stroke="#333333" stroke-width="1.0"/>
<text x="172.90" y="735.40" font-size="6.0" text-anchor="middle" fill="#333">40</text>
<text class="h" x="59.40" y="749.20" font-size="9.3" textLength="103.50" lengthAdjust="spacingAndGlyphs" fill="#231f20">Days(post transplantation)</text>
<text class="h" x="0" y="0" font-size="9.2" textLength="61.30" lengthAdjust="spacingAndGlyphs" fill="#231f20" transform="translate(22.60,711.70) rotate(-90)">Percent survival</text>
<polyline points="87.5,646.65 125.2,646.65 125.2,651 128.3,651 128.3,655.5 147.7,655.5 147.7,664.5 161,664.5" fill="none" stroke="#ad2b3f" stroke-width="1.5"/>
<polyline points="46.3,646.65 87.5,646.65 87.5,651.25 90.5,651.25 90.5,655.5 103.75,655.5 103.75,660 116.25,660 116.25,664.6 123,664.6 123,669.1 132.3,669.1 132.3,674 134.8,674 134.8,687 138.5,687 138.5,696.2 150.8,696.2 150.8,700.8 153.8,700.8 153.8,704.8 161,704.8" fill="none" stroke="#3a5b8c" stroke-width="1.5"/>
<line x1="161.00" y1="702.60" x2="161.00" y2="704.80" stroke="#3a5b8c" stroke-width="1.0"/>
<line x1="161.00" y1="662.30" x2="161.00" y2="664.50" stroke="#ad2b3f" stroke-width="1.0"/>
<line x1="173.00" y1="646.00" x2="183.00" y2="646.00" stroke="#3a5b8c" stroke-width="1.4"/>
<line x1="178.00" y1="644.20" x2="178.00" y2="646.00" stroke="#3a5b8c" stroke-width="1.0"/>
<line x1="173.00" y1="657.00" x2="183.00" y2="657.00" stroke="#ad2b3f" stroke-width="1.4"/>
<line x1="178.00" y1="655.20" x2="178.00" y2="657.00" stroke="#ad2b3f" stroke-width="1.0"/>
<text x="185.30" y="648.50" font-size="6.6" textLength="37.80" lengthAdjust="spacingAndGlyphs" fill="#2a2a2a">DMSO(n=17)</text>
<text x="185.30" y="659.50" font-size="6.6" textLength="50.20" lengthAdjust="spacingAndGlyphs" fill="#2a2a2a">Tofacitinib(n=17)</text>
<polyline points="241.2,646.3 245.3,646.3 245.3,657.0 241.2,657.0" fill="none" stroke="#231f20" stroke-width="1.15"/>
<rect x="249.6" y="649.9" width="1.6" height="1.6" fill="#231f20"/><rect x="249.6" y="653.0" width="1.6" height="1.6" fill="#231f20"/>
<defs>
<filter id="bl" x="-50%" y="-50%" width="200%" height="200%"><feGaussianBlur stdDeviation="1.0"/></filter>
</defs>
<clipPath id="c00"><rect x="49.2" y="23.8" width="59.60" height="31.20"/></clipPath><g clip-path="url(#c00)">
<g transform="translate(81.90,33.90) rotate(-28)"><path d="M-2.0 -1.0h.75v.75h-.75zM6.1 1.1h.75v.75h-.75zM11.6 1.6h.75v.75h-.75zM-2.9 -0.0h.75v.75h-.75zM12.6 2.1h.75v.75h-.75zM2.8 0.7h.75v.75h-.75zM15.9 5.7h.75v.75h-.75zM1.9 4.1h.75v.75h-.75zM-20.0 -3.8h.75v.75h-.75zM-18.6 5.1h.75v.75h-.75zM2.6 -1.1h.75v.75h-.75zM-0.2 0.2h.75v.75h-.75zM-1.5 1.4h.75v.75h-.75zM2.1 -1.7h.75v.75h-.75zM-4.8 -2.1h.75v.75h-.75zM-11.1 4.2h.75v.75h-.75zM4.3 0.6h.75v.75h-.75zM0.4 0.5h.75v.75h-.75zM-2.3 2.0h.75v.75h-.75zM-11.0 -2.4h.75v.75h-.75zM3.0 -3.8h.75v.75h-.75zM-1.0 -1.1h.75v.75h-.75zM-0.6 -0.0h.75v.75h-.75zM12.4 -4.5h.75v.75h-.75zM1.4 -0.1h.75v.75h-.75zM8.1 2.7h.75v.75h-.75zM11.3 5.8h.75v.75h-.75zM-11.1 0.3h.75v.75h-.75zM1.8 -7.0h.75v.75h-.75zM-4.3 -0.8h.75v.75h-.75zM-2.8 -2.8h.75v.75h-.75zM-6.8 -1.7h.75v.75h-.75zM6.9 -4.0h.75v.75h-.75zM6.7 -0.9h.75v.75h-.75zM18.1 2.6h.75v.75h-.75zM-1.0 -1.1h.75v.75h-.75zM11.1 -8.3h.75v.75h-.75zM-7.3 11.9h.75v.75h-.75zM14.8 0.8h.75v.75h-.75zM-12.7 1.1h.75v.75h-.75zM3.1 0.4h.75v.75h-.75zM0.7 -2.1h.75v.75h-.75zM-5.4 1.6h.75v.75h-.75zM5.1 -1.9h.75v.75h-.75zM-12.2 -1.4h.75v.75h-.75zM5.3 -1.7h.75v.75h-.75zM-2.0 4.0h.75v.75h-.75zM-20.9 4.5h.75v.75h-.75zM16.9 -1.7h.75v.75h-.75zM12.6 6.3h.75v.75h-.75zM0.5 1.6h.75v.75h-.75zM-8.7 0.3h.75v.75h-.75zM8.9 0.1h.75v.75h-.75zM-4.8 1.0h.75v.75h-.75zM11.3 -1.2h.75v.75h-.75zM-4.6 -4.3h.75v.75h-.75zM-8.3 -6.0h.75v.75h-.75zM1.7 0.2h.75v.75h-.75zM13.3 -4.8h.75v.75h-.75zM4.1 -4.8h.75v.75h-.75zM8.4 2.3h.75v.75h-.75zM-5.6 -2.3h.75v.75h-.75zM1.2 1.6h.75v.75h-.75zM1.0 0.6h.75v.75h-.75zM2.4 0.0h.75v.75h-.75zM2.2 1.1h.75v.75h-.75zM10.1 0.6h.75v.75h-.75zM5.3 -1.9h.75v.75h-.75zM-0.1 2.1h.75v.75h-.75zM-2.9 1.5h.75v.75h-.75zM2.6 -1.3h.75v.75h-.75zM5.2 -0.1h.75v.75h-.75zM12.9 2.8h.75v.75h-.75zM2.6 0.7h.75v.75h-.75zM2.7 -1.8h.75v.75h-.75zM4.6 2.7h.75v.75h-.75zM-32.0 -2.1h.75v.75h-.75zM2.9 1.4h.75v.75h-.75zM-3.0 -0.2h.75v.75h-.75zM0.8 -0.0h.75v.75h-.75zM-0.9 4.9h.75v.75h-.75zM-10.5 4.2h.75v.75h-.75zM-11.2 -0.8h.75v.75h-.75zM3.6 -7.1h.75v.75h-.75zM1.7 -1.5h.75v.75h-.75zM8.3 -0.3h.75v.75h-.75zM6.1 -4.8h.75v.75h-.75zM-1.2 -7.0h.75v.75h-.75zM-1.4 0.7h.75v.75h-.75zM15.7 1.0h.75v.75h-.75zM-0.6 3.9h.75v.75h-.75zM-0.7 -0.6h.75v.75h-.75zM13.0 -2.0h.75v.75h-.75zM3.9 -0.1h.75v.75h-.75zM2.3 4.4h.75v.75h-.75zM0.5 1.3h.75v.75h-.75zM-2.1 -0.8h.75v.75h-.75zM6.9 -1.8h.75v.75h-.75zM-4.7 -2.4h.75v.75h-.75zM4.0 -4.4h.75v.75h-.75zM14.3 -3.3h.75v.75h-.75zM2.0 -3.5h.75v.75h-.75zM0.0 0.0h.75v.75h-.75zM3.7 -5.4h.75v.75h-.75zM11.7 -0.8h.75v.75h-.75zM-16.6 4.6h.75v.75h-.75zM-4.2 -9.4h.75v.75h-.75zM9.1 6.0h.75v.75h-.75zM4.4 -1.1h.75v.75h-.75zM1.9 -1.9h.75v.75h-.75z" fill="#7b7bc8" opacity="0.55"/><g filter="url(#bl)"><ellipse rx="16.28" ry="5.89" fill="#a9a9dc" opacity="0.45"/><ellipse cx="-0.00" cy="0.00" rx="10.50" ry="3.80" fill="#7478c8" opacity="0.85"/><ellipse cx="-0.23" cy="0.00" rx="8.40" ry="3.04" fill="#4a5fb6" opacity="1"/><ellipse cx="-0.43" cy="0.00" rx="6.51" ry="2.36" fill="#2f8db3" opacity="1"/><ellipse cx="-0.61" cy="0.00" rx="4.83" ry="1.75" fill="#3aa97c" opacity="1"/><ellipse cx="-0.77" cy="0.00" rx="3.36" ry="1.22" fill="#7fc244" opacity="1"/><ellipse cx="-0.92" cy="0.00" rx="2.00" ry="0.72" fill="#d9c833" opacity="1"/><ellipse cx="-1.03" cy="0.00" rx="0.94" ry="0.34" fill="#e3862c" opacity="1"/></g></g>
</g>
<rect x="49.2" y="23.8" width="59.60" height="31.20" fill="none" stroke="#b4b4b4" stroke-width="0.75"/>
<line x1="68.50" y1="23.80" x2="68.50" y2="55.00" stroke="#555" stroke-width="0.9"/>
<line x1="49.20" y1="46.20" x2="108.80" y2="46.20" stroke="#777" stroke-width="0.8"/>
<line x1="46.00" y1="53.00" x2="48.40" y2="53.00" stroke="#999" stroke-width="0.6"/>
<line x1="44.20" y1="51.80" x2="45.60" y2="51.80" stroke="#bbb" stroke-width="0.6"/>
<line x1="46.00" y1="46.20" x2="48.40" y2="46.20" stroke="#999" stroke-width="0.6"/>
<line x1="44.20" y1="45.00" x2="45.60" y2="45.00" stroke="#bbb" stroke-width="0.6"/>
<line x1="46.00" y1="39.40" x2="48.40" y2="39.40" stroke="#999" stroke-width="0.6"/>
<line x1="44.20" y1="38.20" x2="45.60" y2="38.20" stroke="#bbb" stroke-width="0.6"/>
<line x1="46.00" y1="32.60" x2="48.40" y2="32.60" stroke="#999" stroke-width="0.6"/>
<line x1="44.20" y1="31.40" x2="45.60" y2="31.40" stroke="#bbb" stroke-width="0.6"/>
<line x1="46.00" y1="25.80" x2="48.40" y2="25.80" stroke="#999" stroke-width="0.6"/>
<line x1="44.20" y1="24.60" x2="45.60" y2="24.60" stroke="#bbb" stroke-width="0.6"/>
<line x1="51.20" y1="55.80" x2="51.20" y2="58.00" stroke="#999" stroke-width="0.6"/>
<line x1="51.80" y1="58.40" x2="53.40" y2="58.40" stroke="#bbb" stroke-width="0.6"/>
<line x1="65.10" y1="55.80" x2="65.10" y2="58.00" stroke="#999" stroke-width="0.6"/>
<line x1="65.70" y1="58.40" x2="67.30" y2="58.40" stroke="#bbb" stroke-width="0.6"/>
<line x1="79.00" y1="55.80" x2="79.00" y2="58.00" stroke="#999" stroke-width="0.6"/>
<line x1="79.60" y1="58.40" x2="81.20" y2="58.40" stroke="#bbb" stroke-width="0.6"/>
<line x1="92.90" y1="55.80" x2="92.90" y2="58.00" stroke="#999" stroke-width="0.6"/>
<line x1="93.50" y1="58.40" x2="95.10" y2="58.40" stroke="#bbb" stroke-width="0.6"/>
<line x1="106.80" y1="55.80" x2="106.80" y2="58.00" stroke="#999" stroke-width="0.6"/>
<line x1="107.40" y1="58.40" x2="109.00" y2="58.40" stroke="#bbb" stroke-width="0.6"/>
<text x="51.10" y="28.70" font-size="4.2" font-weight="bold" letter-spacing="0.75" text-anchor="start" fill="#444">0.052</text>
<text x="103.20" y="28.70" font-size="4.2" font-weight="bold" letter-spacing="0.75" text-anchor="end" fill="#444">99.8</text>
<text x="51.10" y="53.30" font-size="4.2" font-weight="bold" letter-spacing="0.75" text-anchor="start" fill="#444">0.13</text>
<text x="103.20" y="53.30" font-size="4.2" font-weight="bold" letter-spacing="0.75" text-anchor="end" fill="#444">5.76E-3</text>
<clipPath id="c01"><rect x="116.5" y="23.8" width="60.00" height="31.20"/></clipPath><g clip-path="url(#c01)">
<g transform="translate(149.80,48.60) rotate(-8)"><path d="M12.9 -0.8h.75v.75h-.75zM-9.4 -6.8h.75v.75h-.75zM5.8 3.0h.75v.75h-.75zM11.6 0.5h.75v.75h-.75zM-16.1 -1.3h.75v.75h-.75zM2.8 -0.6h.75v.75h-.75zM9.8 -9.0h.75v.75h-.75zM2.3 4.4h.75v.75h-.75zM0.0 0.1h.75v.75h-.75zM-8.2 -2.4h.75v.75h-.75zM0.5 0.2h.75v.75h-.75zM10.1 -3.1h.75v.75h-.75zM-6.7 -1.8h.75v.75h-.75zM8.3 -2.7h.75v.75h-.75zM-22.5 -0.1h.75v.75h-.75zM-12.0 -1.2h.75v.75h-.75zM-2.1 0.4h.75v.75h-.75zM0.1 0.1h.75v.75h-.75zM9.6 8.7h.75v.75h-.75zM-0.5 0.0h.75v.75h-.75zM-1.0 1.0h.75v.75h-.75zM-14.4 -0.8h.75v.75h-.75zM14.8 5.6h.75v.75h-.75zM-6.4 -1.2h.75v.75h-.75zM0.0 -0.0h.75v.75h-.75zM-9.2 -0.2h.75v.75h-.75zM15.3 -4.5h.75v.75h-.75zM-6.9 1.2h.75v.75h-.75zM-10.3 -0.4h.75v.75h-.75zM-3.1 -4.0h.75v.75h-.75zM-13.4 0.9h.75v.75h-.75zM3.9 -0.7h.75v.75h-.75zM6.9 -1.2h.75v.75h-.75zM-1.3 10.6h.75v.75h-.75zM13.7 -10.3h.75v.75h-.75zM6.5 3.6h.75v.75h-.75zM8.0 1.9h.75v.75h-.75zM0.5 4.1h.75v.75h-.75zM3.2 -7.1h.75v.75h-.75zM6.0 -2.2h.75v.75h-.75zM-5.5 -4.2h.75v.75h-.75zM9.4 5.6h.75v.75h-.75zM4.2 10.4h.75v.75h-.75zM19.3 -2.8h.75v.75h-.75zM10.6 -0.3h.75v.75h-.75zM3.9 -3.3h.75v.75h-.75zM-6.4 -0.3h.75v.75h-.75zM-5.5 4.2h.75v.75h-.75zM-0.6 -1.6h.75v.75h-.75zM9.4 0.6h.75v.75h-.75zM11.6 0.6h.75v.75h-.75zM-2.0 1.7h.75v.75h-.75zM9.0 1.8h.75v.75h-.75zM9.6 -0.4h.75v.75h-.75zM5.8 2.1h.75v.75h-.75zM-2.9 14.1h.75v.75h-.75zM-2.5 9.2h.75v.75h-.75zM3.4 1.7h.75v.75h-.75zM9.4 -9.7h.75v.75h-.75zM-0.6 5.7h.75v.75h-.75zM-13.7 -3.1h.75v.75h-.75zM-6.4 -9.4h.75v.75h-.75zM-1.3 -1.5h.75v.75h-.75zM-1.9 0.5h.75v.75h-.75zM-16.2 -8.7h.75v.75h-.75zM3.8 -5.4h.75v.75h-.75zM17.9 3.8h.75v.75h-.75zM7.4 -4.1h.75v.75h-.75zM-9.5 -1.6h.75v.75h-.75zM2.7 -0.6h.75v.75h-.75zM-0.7 -0.1h.75v.75h-.75zM0.4 2.9h.75v.75h-.75zM5.0 0.8h.75v.75h-.75zM1.3 2.0h.75v.75h-.75zM0.2 -1.8h.75v.75h-.75zM-2.2 4.2h.75v.75h-.75zM-4.1 2.8h.75v.75h-.75zM0.0 0.0h.75v.75h-.75zM-0.0 -0.0h.75v.75h-.75zM-1.9 -0.3h.75v.75h-.75zM4.4 -0.9h.75v.75h-.75zM9.5 3.6h.75v.75h-.75zM-5.1 0.1h.75v.75h-.75zM5.6 -4.6h.75v.75h-.75zM-4.1 -4.7h.75v.75h-.75zM8.4 -0.4h.75v.75h-.75zM-3.2 -5.5h.75v.75h-.75zM-11.9 -6.5h.75v.75h-.75zM8.3 1.4h.75v.75h-.75zM4.1 2.1h.75v.75h-.75zM-0.6 8.1h.75v.75h-.75zM4.2 3.3h.75v.75h-.75zM13.0 -6.6h.75v.75h-.75zM-5.3 -4.7h.75v.75h-.75zM-0.5 0.8h.75v.75h-.75zM-8.1 1.0h.75v.75h-.75zM-0.6 3.3h.75v.75h-.75zM10.1 -1.2h.75v.75h-.75zM0.5 6.8h.75v.75h-.75zM2.4 -0.3h.75v.75h-.75zM3.9 0.0h.75v.75h-.75zM-7.4 3.2h.75v.75h-.75zM4.1 6.1h.75v.75h-.75zM-2.2 -0.0h.75v.75h-.75zM7.6 2.3h.75v.75h-.75zM-0.2 0.1h.75v.75h-.75zM-0.8 1.1h.75v.75h-.75zM0.1 0.3h.75v.75h-.75zM0.0 -5.8h.75v.75h-.75zM-4.0 -2.9h.75v.75h-.75z" fill="#7b7bc8" opacity="0.55"/><g filter="url(#bl)"><ellipse rx="13.95" ry="6.67" fill="#a9a9dc" opacity="0.45"/><ellipse cx="0.00" cy="0.00" rx="9.00" ry="4.30" fill="#7478c8" opacity="0.85"/><ellipse cx="0.00" cy="0.00" rx="7.20" ry="3.44" fill="#4a5fb6" opacity="1"/><ellipse cx="0.00" cy="0.00" rx="5.58" ry="2.67" fill="#2f8db3" opacity="1"/><ellipse cx="0.00" cy="0.00" rx="4.14" ry="1.98" fill="#3aa97c" opacity="1"/><ellipse cx="0.00" cy="0.00" rx="2.88" ry="1.38" fill="#7fc244" opacity="1"/><ellipse cx="0.00" cy="0.00" rx="1.71" ry="0.82" fill="#d9c833" opacity="1"/><ellipse cx="0.00" cy="0.00" rx="0.81" ry="0.39" fill="#e3862c" opacity="1"/></g></g>
</g>
<rect x="116.5" y="23.8" width="60.00" height="31.20" fill="none" stroke="#b4b4b4" stroke-width="0.75"/>
<line x1="130.40" y1="23.80" x2="130.40" y2="55.00" stroke="#555" stroke-width="0.9"/>
<line x1="116.50" y1="44.30" x2="176.50" y2="44.30" stroke="#777" stroke-width="0.8"/>
<line x1="113.30" y1="53.00" x2="115.70" y2="53.00" stroke="#999" stroke-width="0.6"/>
<line x1="111.50" y1="51.80" x2="112.90" y2="51.80" stroke="#bbb" stroke-width="0.6"/>
<line x1="113.30" y1="46.20" x2="115.70" y2="46.20" stroke="#999" stroke-width="0.6"/>
<line x1="111.50" y1="45.00" x2="112.90" y2="45.00" stroke="#bbb" stroke-width="0.6"/>
<line x1="113.30" y1="39.40" x2="115.70" y2="39.40" stroke="#999" stroke-width="0.6"/>
<line x1="111.50" y1="38.20" x2="112.90" y2="38.20" stroke="#bbb" stroke-width="0.6"/>
<line x1="113.30" y1="32.60" x2="115.70" y2="32.60" stroke="#999" stroke-width="0.6"/>
<line x1="111.50" y1="31.40" x2="112.90" y2="31.40" stroke="#bbb" stroke-width="0.6"/>
<line x1="113.30" y1="25.80" x2="115.70" y2="25.80" stroke="#999" stroke-width="0.6"/>
<line x1="111.50" y1="24.60" x2="112.90" y2="24.60" stroke="#bbb" stroke-width="0.6"/>
<line x1="118.50" y1="55.80" x2="118.50" y2="58.00" stroke="#999" stroke-width="0.6"/>
<line x1="119.10" y1="58.40" x2="120.70" y2="58.40" stroke="#bbb" stroke-width="0.6"/>
<line x1="132.50" y1="55.80" x2="132.50" y2="58.00" stroke="#999" stroke-width="0.6"/>
<line x1="133.10" y1="58.40" x2="134.70" y2="58.40" stroke="#bbb" stroke-width="0.6"/>
<line x1="146.50" y1="55.80" x2="146.50" y2="58.00" stroke="#999" stroke-width="0.6"/>
<line x1="147.10" y1="58.40" x2="148.70" y2="58.40" stroke="#bbb" stroke-width="0.6"/>
<line x1="160.50" y1="55.80" x2="160.50" y2="58.00" stroke="#999" stroke-width="0.6"/>
<line x1="161.10" y1="58.40" x2="162.70" y2="58.40" stroke="#bbb" stroke-width="0.6"/>
<line x1="174.50" y1="55.80" x2="174.50" y2="58.00" stroke="#999" stroke-width="0.6"/>
<line x1="175.10" y1="58.40" x2="176.70" y2="58.40" stroke="#bbb" stroke-width="0.6"/>
<text x="118.40" y="28.70" font-size="4.2" font-weight="bold" letter-spacing="0.75" text-anchor="start" fill="#444">0</text>
<text x="170.90" y="28.70" font-size="4.2" font-weight="bold" letter-spacing="0.75" text-anchor="end" fill="#444">2.51</text>
<text x="118.40" y="53.30" font-size="4.2" font-weight="bold" letter-spacing="0.75" text-anchor="start" fill="#444">5.74E-3</text>
<text x="170.90" y="53.30" font-size="4.2" font-weight="bold" letter-spacing="0.75" text-anchor="end" fill="#444">97.5</text>
<clipPath id="c10"><rect x="49.2" y="58.3" width="59.60" height="30.20"/></clipPath><g clip-path="url(#c10)">
<g transform="translate(62.50,71.60) rotate(-15)"><path d="M-5.6 2.0h.75v.75h-.75zM-15.3 12.5h.75v.75h-.75zM-1.5 -3.9h.75v.75h-.75zM-0.6 -0.3h.75v.75h-.75zM23.6 -8.0h.75v.75h-.75zM-6.0 -2.6h.75v.75h-.75zM2.0 1.0h.75v.75h-.75zM-29.8 -1.9h.75v.75h-.75zM10.6 -12.5h.75v.75h-.75zM0.4 -0.3h.75v.75h-.75zM-12.4 -11.7h.75v.75h-.75zM-6.2 -7.0h.75v.75h-.75zM0.4 0.2h.75v.75h-.75zM-2.7 1.3h.75v.75h-.75zM-23.2 -3.8h.75v.75h-.75zM-13.4 -5.9h.75v.75h-.75zM-17.5 0.5h.75v.75h-.75zM17.8 0.2h.75v.75h-.75zM-8.1 -0.1h.75v.75h-.75zM-25.7 -2.4h.75v.75h-.75zM-0.3 -1.4h.75v.75h-.75zM-0.1 2.2h.75v.75h-.75zM-1.5 -4.9h.75v.75h-.75zM1.6 2.4h.75v.75h-.75zM-2.9 0.0h.75v.75h-.75zM-33.4 12.8h.75v.75h-.75zM2.7 -10.5h.75v.75h-.75zM-2.5 -0.9h.75v.75h-.75zM2.5 1.4h.75v.75h-.75zM-0.1 2.2h.75v.75h-.75zM-0.5 -0.1h.75v.75h-.75zM14.1 0.5h.75v.75h-.75zM-5.7 -4.5h.75v.75h-.75zM-1.7 -1.9h.75v.75h-.75zM-6.2 -0.3h.75v.75h-.75zM-12.0 1.1h.75v.75h-.75zM6.4 -2.1h.75v.75h-.75zM0.5 0.7h.75v.75h-.75zM38.3 1.8h.75v.75h-.75zM-5.2 0.6h.75v.75h-.75zM-17.6 2.4h.75v.75h-.75zM-4.6 16.5h.75v.75h-.75zM2.4 4.1h.75v.75h-.75zM-33.8 -8.0h.75v.75h-.75zM12.1 -1.6h.75v.75h-.75zM10.6 4.9h.75v.75h-.75zM6.4 -2.3h.75v.75h-.75zM-5.2 -7.2h.75v.75h-.75zM-4.1 0.2h.75v.75h-.75zM34.7 2.3h.75v.75h-.75zM-18.4 2.5h.75v.75h-.75zM-0.1 0.2h.75v.75h-.75zM-3.9 3.7h.75v.75h-.75zM6.3 -4.2h.75v.75h-.75zM14.7 -9.9h.75v.75h-.75zM0.2 0.1h.75v.75h-.75zM19.1 -5.7h.75v.75h-.75zM-2.9 4.8h.75v.75h-.75zM11.5 -0.0h.75v.75h-.75zM-10.1 -2.7h.75v.75h-.75zM-1.8 4.7h.75v.75h-.75zM12.8 1.7h.75v.75h-.75zM-5.6 10.4h.75v.75h-.75zM17.2 -3.1h.75v.75h-.75zM-0.1 -0.0h.75v.75h-.75zM4.8 5.1h.75v.75h-.75zM21.7 -8.2h.75v.75h-.75zM11.2 -11.6h.75v.75h-.75zM23.2 -3.8h.75v.75h-.75zM-25.6 -3.5h.75v.75h-.75zM-0.1 -0.4h.75v.75h-.75zM-4.9 0.7h.75v.75h-.75zM-0.1 0.2h.75v.75h-.75zM22.7 3.1h.75v.75h-.75zM-7.6 0.6h.75v.75h-.75zM-2.1 1.4h.75v.75h-.75zM7.9 -0.5h.75v.75h-.75zM-1.7 11.0h.75v.75h-.75zM-7.3 -1.2h.75v.75h-.75zM-9.2 3.0h.75v.75h-.75zM1.3 2.0h.75v.75h-.75zM7.1 -2.0h.75v.75h-.75zM9.7 -2.7h.75v.75h-.75zM0.2 -0.0h.75v.75h-.75zM3.1 3.4h.75v.75h-.75zM2.4 0.6h.75v.75h-.75zM0.3 1.7h.75v.75h-.75zM-0.3 2.6h.75v.75h-.75zM-0.1 -13.3h.75v.75h-.75zM-12.5 3.2h.75v.75h-.75zM-12.4 5.1h.75v.75h-.75zM-5.5 3.7h.75v.75h-.75zM12.1 -1.1h.75v.75h-.75zM3.6 1.5h.75v.75h-.75zM15.2 -7.5h.75v.75h-.75zM0.1 0.2h.75v.75h-.75zM-1.3 0.4h.75v.75h-.75zM-11.7 1.8h.75v.75h-.75zM21.5 -9.4h.75v.75h-.75zM9.1 0.5h.75v.75h-.75zM20.2 -6.6h.75v.75h-.75zM-5.2 0.4h.75v.75h-.75zM-0.2 0.1h.75v.75h-.75zM0.1 -0.0h.75v.75h-.75zM14.7 -1.1h.75v.75h-.75zM0.3 12.3h.75v.75h-.75zM-7.4 -0.4h.75v.75h-.75zM-2.5 -2.3h.75v.75h-.75zM-14.9 -8.4h.75v.75h-.75zM0.9 -4.0h.75v.75h-.75z" fill="#7b7bc8" opacity="0.55"/><g filter="url(#bl)"><ellipse rx="20.15" ry="8.53" fill="#a9a9dc" opacity="0.45"/><ellipse cx="-0.00" cy="0.00" rx="13.00" ry="5.50" fill="#7478c8" opacity="0.85"/><ellipse cx="-0.57" cy="0.11" rx="10.40" ry="4.40" fill="#4a5fb6" opacity="1"/><ellipse cx="-1.08" cy="0.22" rx="8.06" ry="3.41" fill="#2f8db3" opacity="1"/><ellipse cx="-1.53" cy="0.31" rx="5.98" ry="2.53" fill="#3aa97c" opacity="1"/><ellipse cx="-1.93" cy="0.39" rx="4.16" ry="1.76" fill="#7fc244" opacity="1"/><ellipse cx="-2.30" cy="0.46" rx="2.47" ry="1.04" fill="#d9c833" opacity="1"/><ellipse cx="-2.59" cy="0.52" rx="1.17" ry="0.49" fill="#e3862c" opacity="1"/></g></g>
</g>
<rect x="49.2" y="58.3" width="59.60" height="30.20" fill="none" stroke="#b4b4b4" stroke-width="0.75"/>
<line x1="69.40" y1="58.30" x2="69.40" y2="88.50" stroke="#555" stroke-width="0.9"/>
<line x1="49.20" y1="80.80" x2="108.80" y2="80.80" stroke="#777" stroke-width="0.8"/>
<line x1="46.00" y1="86.50" x2="48.40" y2="86.50" stroke="#999" stroke-width="0.6"/>
<line x1="44.20" y1="85.30" x2="45.60" y2="85.30" stroke="#bbb" stroke-width="0.6"/>
<line x1="46.00" y1="79.95" x2="48.40" y2="79.95" stroke="#999" stroke-width="0.6"/>
<line x1="44.20" y1="78.75" x2="45.60" y2="78.75" stroke="#bbb" stroke-width="0.6"/>
<line x1="46.00" y1="73.40" x2="48.40" y2="73.40" stroke="#999" stroke-width="0.6"/>
<line x1="44.20" y1="72.20" x2="45.60" y2="72.20" stroke="#bbb" stroke-width="0.6"/>
<line x1="46.00" y1="66.85" x2="48.40" y2="66.85" stroke="#999" stroke-width="0.6"/>
<line x1="44.20" y1="65.65" x2="45.60" y2="65.65" stroke="#bbb" stroke-width="0.6"/>
<line x1="46.00" y1="60.30" x2="48.40" y2="60.30" stroke="#999" stroke-width="0.6"/>
<line x1="44.20" y1="59.10" x2="45.60" y2="59.10" stroke="#bbb" stroke-width="0.6"/>
<line x1="51.20" y1="89.30" x2="51.20" y2="91.50" stroke="#999" stroke-width="0.6"/>
<line x1="51.80" y1="91.90" x2="53.40" y2="91.90" stroke="#bbb" stroke-width="0.6"/>
<line x1="65.10" y1="89.30" x2="65.10" y2="91.50" stroke="#999" stroke-width="0.6"/>
<line x1="65.70" y1="91.90" x2="67.30" y2="91.90" stroke="#bbb" stroke-width="0.6"/>
<line x1="79.00" y1="89.30" x2="79.00" y2="91.50" stroke="#999" stroke-width="0.6"/>
<line x1="79.60" y1="91.90" x2="81.20" y2="91.90" stroke="#bbb" stroke-width="0.6"/>
<line x1="92.90" y1="89.30" x2="92.90" y2="91.50" stroke="#999" stroke-width="0.6"/>
<line x1="93.50" y1="91.90" x2="95.10" y2="91.90" stroke="#bbb" stroke-width="0.6"/>
<line x1="106.80" y1="89.30" x2="106.80" y2="91.50" stroke="#999" stroke-width="0.6"/>
<line x1="107.40" y1="91.90" x2="109.00" y2="91.90" stroke="#bbb" stroke-width="0.6"/>
<text x="51.10" y="63.20" font-size="4.2" font-weight="bold" letter-spacing="0.75" text-anchor="start" fill="#444">95.6</text>
<text x="103.20" y="63.20" font-size="4.2" font-weight="bold" letter-spacing="0.75" text-anchor="end" fill="#444">4.40</text>
<text x="51.10" y="86.80" font-size="4.2" font-weight="bold" letter-spacing="0.75" text-anchor="start" fill="#444">5.77E-3</text>
<text x="103.20" y="86.80" font-size="4.2" font-weight="bold" letter-spacing="0.75" text-anchor="end" fill="#444">0</text>
<clipPath id="c11"><rect x="116.5" y="58.3" width="60.00" height="30.20"/></clipPath><g clip-path="url(#c11)">
<g transform="translate(149.50,79.80) rotate(-20)"><path d="M17.4 2.1h.75v.75h-.75zM1.0 -2.3h.75v.75h-.75zM-2.2 -1.4h.75v.75h-.75zM-10.9 14.8h.75v.75h-.75zM-5.1 -2.8h.75v.75h-.75zM-2.6 -3.6h.75v.75h-.75zM-4.2 -0.3h.75v.75h-.75zM-3.1 -0.9h.75v.75h-.75zM-6.4 -2.3h.75v.75h-.75zM6.7 0.2h.75v.75h-.75zM5.0 -0.6h.75v.75h-.75zM-9.5 -5.8h.75v.75h-.75zM1.2 5.9h.75v.75h-.75zM0.2 5.3h.75v.75h-.75zM-7.8 9.9h.75v.75h-.75zM5.6 0.4h.75v.75h-.75zM-19.2 5.1h.75v.75h-.75zM-0.0 0.1h.75v.75h-.75zM2.4 7.8h.75v.75h-.75zM28.3 2.9h.75v.75h-.75zM-3.3 -3.5h.75v.75h-.75zM4.2 5.9h.75v.75h-.75zM-7.0 -0.1h.75v.75h-.75zM6.4 10.6h.75v.75h-.75zM5.3 -5.4h.75v.75h-.75zM0.3 1.1h.75v.75h-.75zM-1.2 2.0h.75v.75h-.75zM23.3 -3.5h.75v.75h-.75zM1.6 4.5h.75v.75h-.75zM-0.2 0.1h.75v.75h-.75zM11.0 6.9h.75v.75h-.75zM-24.2 9.1h.75v.75h-.75zM5.7 3.4h.75v.75h-.75zM36.5 5.9h.75v.75h-.75zM10.9 -3.9h.75v.75h-.75zM4.0 -1.7h.75v.75h-.75zM5.0 -1.1h.75v.75h-.75zM-24.1 21.2h.75v.75h-.75zM-0.3 -6.5h.75v.75h-.75zM31.0 3.0h.75v.75h-.75zM-5.1 2.5h.75v.75h-.75zM-6.0 5.1h.75v.75h-.75zM-0.1 0.3h.75v.75h-.75zM-0.6 0.4h.75v.75h-.75zM7.1 -0.8h.75v.75h-.75zM0.5 1.0h.75v.75h-.75zM7.4 -7.3h.75v.75h-.75zM-19.4 4.2h.75v.75h-.75zM-11.0 5.4h.75v.75h-.75zM4.4 -1.2h.75v.75h-.75zM3.9 -1.4h.75v.75h-.75zM12.8 1.2h.75v.75h-.75zM2.4 -10.8h.75v.75h-.75zM13.8 1.7h.75v.75h-.75zM4.5 -1.2h.75v.75h-.75zM-0.1 0.5h.75v.75h-.75zM-0.3 0.2h.75v.75h-.75zM-4.4 14.9h.75v.75h-.75zM-1.5 9.3h.75v.75h-.75zM-1.1 -2.5h.75v.75h-.75zM4.8 0.1h.75v.75h-.75zM0.4 -5.1h.75v.75h-.75zM16.9 -3.0h.75v.75h-.75zM10.3 0.8h.75v.75h-.75zM1.6 -0.2h.75v.75h-.75zM15.9 -2.3h.75v.75h-.75zM-7.6 1.7h.75v.75h-.75zM-7.3 0.1h.75v.75h-.75zM2.7 -3.8h.75v.75h-.75zM-0.3 -1.9h.75v.75h-.75zM-8.7 -3.3h.75v.75h-.75zM-10.6 9.6h.75v.75h-.75zM1.2 -2.8h.75v.75h-.75zM11.1 2.9h.75v.75h-.75zM0.1 3.8h.75v.75h-.75zM21.3 4.4h.75v.75h-.75zM-8.3 7.7h.75v.75h-.75zM3.9 -0.2h.75v.75h-.75zM-3.0 15.4h.75v.75h-.75zM25.1 7.0h.75v.75h-.75zM-3.5 -6.6h.75v.75h-.75zM-9.3 1.5h.75v.75h-.75zM-1.1 -0.5h.75v.75h-.75zM-7.0 -6.4h.75v.75h-.75zM-0.2 -0.1h.75v.75h-.75zM20.6 9.4h.75v.75h-.75zM-6.0 -1.3h.75v.75h-.75zM-7.2 3.5h.75v.75h-.75zM0.0 0.4h.75v.75h-.75zM0.3 4.7h.75v.75h-.75zM-15.3 -3.9h.75v.75h-.75zM-11.5 10.6h.75v.75h-.75zM-36.4 -0.8h.75v.75h-.75zM3.3 13.2h.75v.75h-.75zM7.6 -0.2h.75v.75h-.75zM15.9 5.7h.75v.75h-.75zM14.4 -10.8h.75v.75h-.75zM3.7 -1.0h.75v.75h-.75zM8.7 3.9h.75v.75h-.75zM1.1 1.4h.75v.75h-.75zM17.3 -3.9h.75v.75h-.75zM-2.3 1.1h.75v.75h-.75zM-0.7 5.1h.75v.75h-.75zM2.1 -5.6h.75v.75h-.75zM-5.4 -1.8h.75v.75h-.75zM-1.7 -0.8h.75v.75h-.75zM1.8 1.1h.75v.75h-.75zM3.9 6.3h.75v.75h-.75zM-0.4 -0.2h.75v.75h-.75zM5.7 9.1h.75v.75h-.75z" fill="#7b7bc8" opacity="0.55"/><g filter="url(#bl)"><ellipse rx="17.82" ry="8.53" fill="#a9a9dc" opacity="0.45"/><ellipse cx="-0.00" cy="0.00" rx="11.50" ry="5.50" fill="#7478c8" opacity="0.85"/><ellipse cx="-0.80" cy="0.23" rx="9.20" ry="4.40" fill="#4a5fb6" opacity="1"/><ellipse cx="-1.51" cy="0.43" rx="7.13" ry="3.41" fill="#2f8db3" opacity="1"/><ellipse cx="-2.15" cy="0.61" rx="5.29" ry="2.53" fill="#3aa97c" opacity="1"/><ellipse cx="-2.70" cy="0.77" rx="3.68" ry="1.76" fill="#7fc244" opacity="1"/><ellipse cx="-3.22" cy="0.92" rx="2.19" ry="1.04" fill="#d9c833" opacity="1"/><ellipse cx="-3.62" cy="1.03" rx="1.03" ry="0.49" fill="#e3862c" opacity="1"/></g></g>
</g>
<rect x="116.5" y="58.3" width="60.00" height="30.20" fill="none" stroke="#b4b4b4" stroke-width="0.75"/>
<line x1="130.40" y1="58.30" x2="130.40" y2="88.50" stroke="#555" stroke-width="0.9"/>
<line x1="116.50" y1="78.50" x2="176.50" y2="78.50" stroke="#777" stroke-width="0.8"/>
<line x1="113.30" y1="86.50" x2="115.70" y2="86.50" stroke="#999" stroke-width="0.6"/>
<line x1="111.50" y1="85.30" x2="112.90" y2="85.30" stroke="#bbb" stroke-width="0.6"/>
<line x1="113.30" y1="79.95" x2="115.70" y2="79.95" stroke="#999" stroke-width="0.6"/>
<line x1="111.50" y1="78.75" x2="112.90" y2="78.75" stroke="#bbb" stroke-width="0.6"/>
<line x1="113.30" y1="73.40" x2="115.70" y2="73.40" stroke="#999" stroke-width="0.6"/>
<line x1="111.50" y1="72.20" x2="112.90" y2="72.20" stroke="#bbb" stroke-width="0.6"/>
<line x1="113.30" y1="66.85" x2="115.70" y2="66.85" stroke="#999" stroke-width="0.6"/>
<line x1="111.50" y1="65.65" x2="112.90" y2="65.65" stroke="#bbb" stroke-width="0.6"/>
<line x1="113.30" y1="60.30" x2="115.70" y2="60.30" stroke="#999" stroke-width="0.6"/>
<line x1="111.50" y1="59.10" x2="112.90" y2="59.10" stroke="#bbb" stroke-width="0.6"/>
<line x1="118.50" y1="89.30" x2="118.50" y2="91.50" stroke="#999" stroke-width="0.6"/>
<line x1="119.10" y1="91.90" x2="120.70" y2="91.90" stroke="#bbb" stroke-width="0.6"/>
<line x1="132.50" y1="89.30" x2="132.50" y2="91.50" stroke="#999" stroke-width="0.6"/>
<line x1="133.10" y1="91.90" x2="134.70" y2="91.90" stroke="#bbb" stroke-width="0.6"/>
<line x1="146.50" y1="89.30" x2="146.50" y2="91.50" stroke="#999" stroke-width="0.6"/>
<line x1="147.10" y1="91.90" x2="148.70" y2="91.90" stroke="#bbb" stroke-width="0.6"/>
<line x1="160.50" y1="89.30" x2="160.50" y2="91.50" stroke="#999" stroke-width="0.6"/>
<line x1="161.10" y1="91.90" x2="162.70" y2="91.90" stroke="#bbb" stroke-width="0.6"/>
<line x1="174.50" y1="89.30" x2="174.50" y2="91.50" stroke="#999" stroke-width="0.6"/>
<line x1="175.10" y1="91.90" x2="176.70" y2="91.90" stroke="#bbb" stroke-width="0.6"/>
<text x="118.40" y="63.20" font-size="4.2" font-weight="bold" letter-spacing="0.75" text-anchor="start" fill="#444">0</text>
<text x="170.90" y="63.20" font-size="4.2" font-weight="bold" letter-spacing="0.75" text-anchor="end" fill="#444">15.9</text>
<text x="118.40" y="86.80" font-size="4.2" font-weight="bold" letter-spacing="0.75" text-anchor="start" fill="#444">5.77E-3</text>
<text x="170.90" y="86.80" font-size="4.2" font-weight="bold" letter-spacing="0.75" text-anchor="end" fill="#444">84.1</text>
<clipPath id="c12"><rect x="183.5" y="58.3" width="60.00" height="30.20"/></clipPath><g clip-path="url(#c12)">
<g transform="translate(201.00,72.00) rotate(8)"><path d="M-4.2 -12.2h.75v.75h-.75zM0.3 0.9h.75v.75h-.75zM0.8 -3.8h.75v.75h-.75zM-6.5 -2.8h.75v.75h-.75zM-3.7 4.0h.75v.75h-.75zM-1.8 -0.8h.75v.75h-.75zM1.6 3.7h.75v.75h-.75zM-1.2 -4.8h.75v.75h-.75zM-2.6 9.9h.75v.75h-.75zM4.5 -1.9h.75v.75h-.75zM-3.3 5.9h.75v.75h-.75zM-11.2 9.2h.75v.75h-.75zM-15.8 25.6h.75v.75h-.75zM9.0 36.8h.75v.75h-.75zM1.0 0.1h.75v.75h-.75zM5.9 -5.9h.75v.75h-.75zM-14.8 14.0h.75v.75h-.75zM6.9 -8.8h.75v.75h-.75zM6.2 0.8h.75v.75h-.75zM-1.5 -0.7h.75v.75h-.75zM12.8 11.3h.75v.75h-.75zM-13.2 -18.0h.75v.75h-.75zM5.4 9.9h.75v.75h-.75zM-1.9 12.9h.75v.75h-.75zM19.0 21.8h.75v.75h-.75zM-3.3 0.3h.75v.75h-.75zM3.1 12.8h.75v.75h-.75zM18.6 26.9h.75v.75h-.75zM-27.5 4.2h.75v.75h-.75zM9.8 4.8h.75v.75h-.75zM7.9 -7.7h.75v.75h-.75zM-3.5 -4.7h.75v.75h-.75zM0.6 -4.0h.75v.75h-.75zM1.0 7.9h.75v.75h-.75zM8.3 -21.5h.75v.75h-.75zM4.8 15.3h.75v.75h-.75zM-2.2 -0.3h.75v.75h-.75zM-8.0 10.1h.75v.75h-.75zM-0.9 -8.1h.75v.75h-.75zM4.6 -4.8h.75v.75h-.75zM0.6 -19.0h.75v.75h-.75zM3.5 1.2h.75v.75h-.75zM-2.3 -2.4h.75v.75h-.75zM-4.4 -2.0h.75v.75h-.75zM-5.7 4.4h.75v.75h-.75zM-5.8 -4.6h.75v.75h-.75zM-13.4 6.6h.75v.75h-.75zM-6.6 3.8h.75v.75h-.75zM-14.9 1.4h.75v.75h-.75zM0.2 3.1h.75v.75h-.75zM-1.6 0.6h.75v.75h-.75zM8.0 24.0h.75v.75h-.75zM3.5 5.2h.75v.75h-.75zM-0.8 0.5h.75v.75h-.75zM-9.8 -0.9h.75v.75h-.75zM6.2 2.3h.75v.75h-.75zM-0.3 -4.1h.75v.75h-.75zM0.6 -4.7h.75v.75h-.75zM-3.6 -0.1h.75v.75h-.75zM-0.2 0.3h.75v.75h-.75zM3.5 -6.2h.75v.75h-.75zM1.8 -0.1h.75v.75h-.75zM0.8 3.0h.75v.75h-.75zM19.7 -3.2h.75v.75h-.75zM23.4 -19.3h.75v.75h-.75zM0.7 1.7h.75v.75h-.75zM5.5 3.4h.75v.75h-.75zM-14.4 27.6h.75v.75h-.75zM0.2 -0.2h.75v.75h-.75zM-1.0 8.9h.75v.75h-.75zM-2.4 -0.0h.75v.75h-.75zM4.8 -3.8h.75v.75h-.75zM-2.2 -0.1h.75v.75h-.75zM-3.4 10.5h.75v.75h-.75zM3.5 8.0h.75v.75h-.75zM1.5 -0.9h.75v.75h-.75zM4.8 12.1h.75v.75h-.75zM4.5 -28.7h.75v.75h-.75zM-6.5 -10.7h.75v.75h-.75zM-5.6 9.6h.75v.75h-.75zM-8.4 -6.6h.75v.75h-.75zM7.3 -9.4h.75v.75h-.75zM-18.5 -27.8h.75v.75h-.75zM-16.4 18.1h.75v.75h-.75zM2.5 -0.2h.75v.75h-.75zM-7.2 -5.4h.75v.75h-.75zM-11.0 5.9h.75v.75h-.75zM6.3 17.9h.75v.75h-.75zM0.1 -0.2h.75v.75h-.75zM-0.1 4.8h.75v.75h-.75zM-17.1 -14.5h.75v.75h-.75zM-12.3 -28.9h.75v.75h-.75zM0.2 0.1h.75v.75h-.75zM0.4 0.7h.75v.75h-.75zM-8.6 -1.0h.75v.75h-.75zM6.1 -6.6h.75v.75h-.75zM-3.0 -6.1h.75v.75h-.75zM5.7 1.1h.75v.75h-.75zM8.0 8.9h.75v.75h-.75zM-0.1 0.2h.75v.75h-.75zM-2.0 -1.7h.75v.75h-.75zM4.0 19.2h.75v.75h-.75zM5.8 9.3h.75v.75h-.75zM8.0 -4.7h.75v.75h-.75zM0.2 0.2h.75v.75h-.75zM-4.0 -6.6h.75v.75h-.75zM-10.7 10.7h.75v.75h-.75zM-1.2 19.2h.75v.75h-.75zM-14.4 -8.4h.75v.75h-.75zM-0.7 1.3h.75v.75h-.75z" fill="#7b7bc8" opacity="0.55"/><g filter="url(#bl)"><ellipse rx="13.18" ry="18.60" fill="#a9a9dc" opacity="0.45"/><ellipse cx="0.00" cy="-0.00" rx="8.50" ry="12.00" fill="#7478c8" opacity="0.85"/><ellipse cx="0.07" cy="-0.64" rx="6.80" ry="9.60" fill="#4a5fb6" opacity="1"/><ellipse cx="0.13" cy="-1.21" rx="5.27" ry="7.44" fill="#2f8db3" opacity="1"/><ellipse cx="0.18" cy="-1.72" rx="3.91" ry="5.52" fill="#3aa97c" opacity="1"/><ellipse cx="0.23" cy="-2.16" rx="2.72" ry="3.84" fill="#7fc244" opacity="1"/><ellipse cx="0.28" cy="-2.58" rx="1.61" ry="2.28" fill="#d9c833" opacity="1"/><ellipse cx="0.31" cy="-2.90" rx="0.77" ry="1.08" fill="#e3862c" opacity="1"/></g></g>
</g>
<rect x="183.5" y="58.3" width="60.00" height="30.20" fill="none" stroke="#b4b4b4" stroke-width="0.75"/>
<line x1="198.50" y1="58.30" x2="198.50" y2="88.50" stroke="#555" stroke-width="0.9"/>
<line x1="183.50" y1="80.30" x2="243.50" y2="80.30" stroke="#777" stroke-width="0.8"/>
<line x1="180.30" y1="86.50" x2="182.70" y2="86.50" stroke="#999" stroke-width="0.6"/>
<line x1="178.50" y1="85.30" x2="179.90" y2="85.30" stroke="#bbb" stroke-width="0.6"/>
<line x1="180.30" y1="79.95" x2="182.70" y2="79.95" stroke="#999" stroke-width="0.6"/>
<line x1="178.50" y1="78.75" x2="179.90" y2="78.75" stroke="#bbb" stroke-width="0.6"/>
<line x1="180.30" y1="73.40" x2="182.70" y2="73.40" stroke="#999" stroke-width="0.6"/>
<line x1="178.50" y1="72.20" x2="179.90" y2="72.20" stroke="#bbb" stroke-width="0.6"/>
<line x1="180.30" y1="66.85" x2="182.70" y2="66.85" stroke="#999" stroke-width="0.6"/>
<line x1="178.50" y1="65.65" x2="179.90" y2="65.65" stroke="#bbb" stroke-width="0.6"/>
<line x1="180.30" y1="60.30" x2="182.70" y2="60.30" stroke="#999" stroke-width="0.6"/>
<line x1="178.50" y1="59.10" x2="179.90" y2="59.10" stroke="#bbb" stroke-width="0.6"/>
<line x1="185.50" y1="89.30" x2="185.50" y2="91.50" stroke="#999" stroke-width="0.6"/>
<line x1="186.10" y1="91.90" x2="187.70" y2="91.90" stroke="#bbb" stroke-width="0.6"/>
<line x1="199.50" y1="89.30" x2="199.50" y2="91.50" stroke="#999" stroke-width="0.6"/>
<line x1="200.10" y1="91.90" x2="201.70" y2="91.90" stroke="#bbb" stroke-width="0.6"/>
<line x1="213.50" y1="89.30" x2="213.50" y2="91.50" stroke="#999" stroke-width="0.6"/>
<line x1="214.10" y1="91.90" x2="215.70" y2="91.90" stroke="#bbb" stroke-width="0.6"/>
<line x1="227.50" y1="89.30" x2="227.50" y2="91.50" stroke="#999" stroke-width="0.6"/>
<line x1="228.10" y1="91.90" x2="229.70" y2="91.90" stroke="#bbb" stroke-width="0.6"/>
<line x1="241.50" y1="89.30" x2="241.50" y2="91.50" stroke="#999" stroke-width="0.6"/>
<line x1="242.10" y1="91.90" x2="243.70" y2="91.90" stroke="#bbb" stroke-width="0.6"/>
<text x="185.40" y="63.20" font-size="4.2" font-weight="bold" letter-spacing="0.75" text-anchor="start" fill="#444">15.5</text>
<text x="237.90" y="63.20" font-size="4.2" font-weight="bold" letter-spacing="0.75" text-anchor="end" fill="#444">82.4</text>
<text x="185.40" y="86.80" font-size="4.2" font-weight="bold" letter-spacing="0.75" text-anchor="start" fill="#444">0.70</text>
<text x="237.90" y="86.80" font-size="4.2" font-weight="bold" letter-spacing="0.75" text-anchor="end" fill="#444">1.33</text>
<clipPath id="c20"><rect x="49.2" y="92.7" width="59.60" height="30.20"/></clipPath><g clip-path="url(#c20)">
<g transform="translate(66.00,102.40) rotate(-15)"><path d="M12.8 -1.5h.75v.75h-.75zM-1.9 -4.9h.75v.75h-.75zM0.4 0.0h.75v.75h-.75zM-44.6 -2.4h.75v.75h-.75zM12.0 1.3h.75v.75h-.75zM1.6 -2.3h.75v.75h-.75zM24.7 -2.6h.75v.75h-.75zM1.3 0.4h.75v.75h-.75zM-9.0 -0.1h.75v.75h-.75zM-17.2 -5.8h.75v.75h-.75zM-1.8 1.3h.75v.75h-.75zM-3.7 3.1h.75v.75h-.75zM8.7 -11.2h.75v.75h-.75zM-2.9 -3.5h.75v.75h-.75zM-1.2 -11.1h.75v.75h-.75zM-1.6 0.1h.75v.75h-.75zM0.2 0.3h.75v.75h-.75zM18.2 3.9h.75v.75h-.75zM-0.3 0.2h.75v.75h-.75zM-0.0 -1.6h.75v.75h-.75zM-3.3 -3.6h.75v.75h-.75zM-3.8 10.4h.75v.75h-.75zM5.1 -5.6h.75v.75h-.75zM-7.4 -0.3h.75v.75h-.75zM2.8 -0.2h.75v.75h-.75zM6.2 8.0h.75v.75h-.75zM-0.2 0.7h.75v.75h-.75zM0.2 0.7h.75v.75h-.75zM-0.0 -0.5h.75v.75h-.75zM-23.5 12.2h.75v.75h-.75zM0.9 3.7h.75v.75h-.75zM10.7 -1.9h.75v.75h-.75zM-11.2 -5.2h.75v.75h-.75zM23.5 -0.8h.75v.75h-.75zM-12.8 -10.2h.75v.75h-.75zM4.8 -1.6h.75v.75h-.75zM-28.2 -3.6h.75v.75h-.75zM-4.6 3.3h.75v.75h-.75zM6.1 0.9h.75v.75h-.75zM24.2 -4.1h.75v.75h-.75zM2.4 0.5h.75v.75h-.75zM3.5 -0.5h.75v.75h-.75zM6.4 0.3h.75v.75h-.75zM9.3 0.7h.75v.75h-.75zM-3.4 -2.7h.75v.75h-.75zM-2.3 -7.6h.75v.75h-.75zM-16.8 5.3h.75v.75h-.75zM4.6 -2.8h.75v.75h-.75zM17.2 2.1h.75v.75h-.75zM27.1 -8.1h.75v.75h-.75zM34.0 7.4h.75v.75h-.75zM7.1 6.8h.75v.75h-.75zM2.4 -0.9h.75v.75h-.75zM1.4 -0.9h.75v.75h-.75zM-17.7 -5.2h.75v.75h-.75zM-6.8 7.8h.75v.75h-.75zM0.4 -2.1h.75v.75h-.75zM1.6 1.5h.75v.75h-.75zM9.2 0.3h.75v.75h-.75zM-0.8 5.5h.75v.75h-.75zM-4.6 1.4h.75v.75h-.75zM-14.1 8.0h.75v.75h-.75zM14.4 -5.3h.75v.75h-.75zM-4.1 -1.0h.75v.75h-.75zM-19.6 2.3h.75v.75h-.75zM0.6 -1.1h.75v.75h-.75zM-18.2 -1.2h.75v.75h-.75zM5.6 7.2h.75v.75h-.75zM2.5 -1.5h.75v.75h-.75zM3.4 1.7h.75v.75h-.75zM1.1 -3.8h.75v.75h-.75zM0.1 -0.0h.75v.75h-.75zM-24.4 0.4h.75v.75h-.75zM0.2 -0.2h.75v.75h-.75zM-5.6 2.2h.75v.75h-.75zM11.1 -5.3h.75v.75h-.75zM-0.7 0.9h.75v.75h-.75zM11.1 13.4h.75v.75h-.75zM5.9 1.3h.75v.75h-.75zM-15.4 -4.8h.75v.75h-.75zM-10.6 -8.3h.75v.75h-.75zM4.1 -4.8h.75v.75h-.75zM-11.1 2.2h.75v.75h-.75zM-11.2 2.4h.75v.75h-.75zM5.3 -1.2h.75v.75h-.75zM5.6 0.2h.75v.75h-.75zM3.6 -0.7h.75v.75h-.75zM-15.8 -0.0h.75v.75h-.75zM3.3 8.6h.75v.75h-.75zM-29.1 2.0h.75v.75h-.75zM0.6 -9.4h.75v.75h-.75zM-4.2 -1.5h.75v.75h-.75zM6.1 2.5h.75v.75h-.75zM8.4 -3.5h.75v.75h-.75zM8.8 4.3h.75v.75h-.75zM-27.3 3.0h.75v.75h-.75zM2.9 0.8h.75v.75h-.75zM-26.6 1.8h.75v.75h-.75zM4.2 3.0h.75v.75h-.75zM-3.3 2.6h.75v.75h-.75zM6.6 2.6h.75v.75h-.75zM21.6 8.8h.75v.75h-.75zM-0.3 -0.0h.75v.75h-.75zM9.9 4.3h.75v.75h-.75zM6.3 -0.3h.75v.75h-.75zM-1.6 -3.2h.75v.75h-.75zM34.7 7.0h.75v.75h-.75zM-24.0 5.8h.75v.75h-.75zM-3.9 -10.1h.75v.75h-.75zM-3.5 0.4h.75v.75h-.75z" fill="#7b7bc8" opacity="0.55"/><g filter="url(#bl)"><ellipse rx="25.57" ry="6.98" fill="#a9a9dc" opacity="0.45"/><ellipse cx="0.00" cy="0.00" rx="16.50" ry="4.50" fill="#7478c8" opacity="0.85"/><ellipse cx="1.14" cy="0.00" rx="13.20" ry="3.60" fill="#4a5fb6" opacity="1"/><ellipse cx="2.16" cy="0.00" rx="10.23" ry="2.79" fill="#2f8db3" opacity="1"/><ellipse cx="3.07" cy="0.00" rx="7.59" ry="2.07" fill="#3aa97c" opacity="1"/><ellipse cx="3.86" cy="0.00" rx="5.28" ry="1.44" fill="#7fc244" opacity="1"/><ellipse cx="4.60" cy="0.00" rx="3.14" ry="0.85" fill="#d9c833" opacity="1"/><ellipse cx="5.17" cy="0.00" rx="1.48" ry="0.40" fill="#e3862c" opacity="1"/></g></g>
</g>
<rect x="49.2" y="92.7" width="59.60" height="30.20" fill="none" stroke="#b4b4b4" stroke-width="0.75"/>
<line x1="69.20" y1="92.70" x2="69.20" y2="122.90" stroke="#555" stroke-width="0.9"/>
<line x1="49.20" y1="115.50" x2="108.80" y2="115.50" stroke="#777" stroke-width="0.8"/>
<line x1="46.00" y1="120.90" x2="48.40" y2="120.90" stroke="#999" stroke-width="0.6"/>
<line x1="44.20" y1="119.70" x2="45.60" y2="119.70" stroke="#bbb" stroke-width="0.6"/>
<line x1="46.00" y1="114.35" x2="48.40" y2="114.35" stroke="#999" stroke-width="0.6"/>
<line x1="44.20" y1="113.15" x2="45.60" y2="113.15" stroke="#bbb" stroke-width="0.6"/>
<line x1="46.00" y1="107.80" x2="48.40" y2="107.80" stroke="#999" stroke-width="0.6"/>
<line x1="44.20" y1="106.60" x2="45.60" y2="106.60" stroke="#bbb" stroke-width="0.6"/>
<line x1="46.00" y1="101.25" x2="48.40" y2="101.25" stroke="#999" stroke-width="0.6"/>
<line x1="44.20" y1="100.05" x2="45.60" y2="100.05" stroke="#bbb" stroke-width="0.6"/>
<line x1="46.00" y1="94.70" x2="48.40" y2="94.70" stroke="#999" stroke-width="0.6"/>
<line x1="44.20" y1="93.50" x2="45.60" y2="93.50" stroke="#bbb" stroke-width="0.6"/>
<line x1="51.20" y1="123.70" x2="51.20" y2="125.90" stroke="#999" stroke-width="0.6"/>
<line x1="51.80" y1="126.30" x2="53.40" y2="126.30" stroke="#bbb" stroke-width="0.6"/>
<line x1="65.10" y1="123.70" x2="65.10" y2="125.90" stroke="#999" stroke-width="0.6"/>
<line x1="65.70" y1="126.30" x2="67.30" y2="126.30" stroke="#bbb" stroke-width="0.6"/>
<line x1="79.00" y1="123.70" x2="79.00" y2="125.90" stroke="#999" stroke-width="0.6"/>
<line x1="79.60" y1="126.30" x2="81.20" y2="126.30" stroke="#bbb" stroke-width="0.6"/>
<line x1="92.90" y1="123.70" x2="92.90" y2="125.90" stroke="#999" stroke-width="0.6"/>
<line x1="93.50" y1="126.30" x2="95.10" y2="126.30" stroke="#bbb" stroke-width="0.6"/>
<line x1="106.80" y1="123.70" x2="106.80" y2="125.90" stroke="#999" stroke-width="0.6"/>
<line x1="107.40" y1="126.30" x2="109.00" y2="126.30" stroke="#bbb" stroke-width="0.6"/>
<text x="51.10" y="97.60" font-size="4.2" font-weight="bold" letter-spacing="0.75" text-anchor="start" fill="#444">41.6</text>
<text x="103.20" y="97.60" font-size="4.2" font-weight="bold" letter-spacing="0.75" text-anchor="end" fill="#444">58.4</text>
<text x="51.10" y="121.20" font-size="4.2" font-weight="bold" letter-spacing="0.75" text-anchor="start" fill="#444">0.020</text>
<text x="103.20" y="121.20" font-size="4.2" font-weight="bold" letter-spacing="0.75" text-anchor="end" fill="#444">0</text>
<clipPath id="c21"><rect x="116.5" y="92.7" width="60.00" height="30.20"/></clipPath><g clip-path="url(#c21)">
<g transform="translate(152.00,118.00) rotate(-12)"><path d="M6.1 1.6h.75v.75h-.75zM6.0 6.9h.75v.75h-.75zM-2.7 0.6h.75v.75h-.75zM0.7 -0.9h.75v.75h-.75zM-4.6 -1.6h.75v.75h-.75zM-17.8 1.4h.75v.75h-.75zM-11.7 2.6h.75v.75h-.75zM-1.0 -5.7h.75v.75h-.75zM-13.2 -2.1h.75v.75h-.75zM-0.1 -3.1h.75v.75h-.75zM-1.8 -3.3h.75v.75h-.75zM4.1 -1.3h.75v.75h-.75zM2.3 -1.0h.75v.75h-.75zM-10.9 -7.4h.75v.75h-.75zM-4.4 3.4h.75v.75h-.75zM-9.8 -3.3h.75v.75h-.75zM2.9 -4.5h.75v.75h-.75zM-2.3 -3.1h.75v.75h-.75zM-7.7 1.3h.75v.75h-.75zM-8.8 0.8h.75v.75h-.75zM-5.6 -3.5h.75v.75h-.75zM10.7 -1.6h.75v.75h-.75zM1.7 -3.1h.75v.75h-.75zM-16.9 4.6h.75v.75h-.75zM43.6 3.4h.75v.75h-.75zM-2.8 -0.2h.75v.75h-.75zM14.3 -1.8h.75v.75h-.75zM-24.3 -1.0h.75v.75h-.75zM-16.9 -1.4h.75v.75h-.75zM-2.6 -4.1h.75v.75h-.75zM11.2 -6.7h.75v.75h-.75zM-1.8 -0.1h.75v.75h-.75zM8.5 10.7h.75v.75h-.75zM-8.6 -6.4h.75v.75h-.75zM15.8 4.9h.75v.75h-.75zM17.5 -0.6h.75v.75h-.75zM-0.5 1.1h.75v.75h-.75zM-3.6 0.8h.75v.75h-.75zM-15.1 2.7h.75v.75h-.75zM-0.5 -0.4h.75v.75h-.75zM1.2 2.5h.75v.75h-.75zM-0.6 -3.4h.75v.75h-.75zM3.7 6.0h.75v.75h-.75zM2.4 -2.3h.75v.75h-.75zM6.1 2.1h.75v.75h-.75zM1.2 -2.3h.75v.75h-.75zM-8.4 0.5h.75v.75h-.75zM-20.2 -2.7h.75v.75h-.75zM-3.9 1.7h.75v.75h-.75zM-27.2 -10.4h.75v.75h-.75zM-12.5 0.8h.75v.75h-.75zM-7.6 8.6h.75v.75h-.75zM4.1 -2.3h.75v.75h-.75zM-1.6 0.7h.75v.75h-.75zM-5.5 1.8h.75v.75h-.75zM-0.2 3.4h.75v.75h-.75zM9.5 0.1h.75v.75h-.75zM-0.8 -1.5h.75v.75h-.75zM-0.8 0.7h.75v.75h-.75zM-12.1 0.5h.75v.75h-.75zM-11.5 -5.8h.75v.75h-.75zM-6.7 2.5h.75v.75h-.75zM27.5 3.3h.75v.75h-.75zM6.6 -4.0h.75v.75h-.75zM15.3 6.0h.75v.75h-.75zM7.9 -4.6h.75v.75h-.75zM1.9 0.0h.75v.75h-.75zM2.0 -0.2h.75v.75h-.75zM5.6 1.3h.75v.75h-.75zM6.5 2.6h.75v.75h-.75zM-1.7 0.8h.75v.75h-.75zM16.4 7.5h.75v.75h-.75zM11.9 6.8h.75v.75h-.75zM12.9 -3.4h.75v.75h-.75zM-11.0 -6.3h.75v.75h-.75zM14.3 -3.6h.75v.75h-.75zM2.4 2.3h.75v.75h-.75zM-10.8 -9.3h.75v.75h-.75zM-24.8 3.3h.75v.75h-.75zM3.9 -1.1h.75v.75h-.75zM1.2 3.9h.75v.75h-.75zM2.8 1.1h.75v.75h-.75zM-5.6 0.4h.75v.75h-.75zM0.2 0.1h.75v.75h-.75zM-18.8 -1.5h.75v.75h-.75zM0.7 -0.3h.75v.75h-.75zM-31.1 2.1h.75v.75h-.75zM-1.2 -0.2h.75v.75h-.75zM-11.4 3.7h.75v.75h-.75zM-23.9 4.3h.75v.75h-.75zM-4.1 -1.6h.75v.75h-.75zM-1.1 -0.4h.75v.75h-.75zM-9.2 -6.6h.75v.75h-.75zM3.7 -0.5h.75v.75h-.75zM-22.7 -0.5h.75v.75h-.75zM-40.8 1.3h.75v.75h-.75zM-0.7 -1.1h.75v.75h-.75zM-1.8 -0.6h.75v.75h-.75zM-11.6 4.2h.75v.75h-.75zM-27.6 1.4h.75v.75h-.75zM6.9 8.8h.75v.75h-.75zM-4.2 0.6h.75v.75h-.75zM8.6 -5.3h.75v.75h-.75zM-2.6 3.1h.75v.75h-.75zM-7.9 -0.1h.75v.75h-.75zM-2.0 4.8h.75v.75h-.75zM-25.4 -12.0h.75v.75h-.75zM0.5 -0.6h.75v.75h-.75zM-2.1 2.2h.75v.75h-.75zM-10.8 -2.1h.75v.75h-.75z" fill="#7b7bc8" opacity="0.55"/><g filter="url(#bl)"><ellipse rx="20.15" ry="6.51" fill="#a9a9dc" opacity="0.45"/><ellipse cx="-0.00" cy="0.00" rx="13.00" ry="4.20" fill="#7478c8" opacity="0.85"/><ellipse cx="-0.11" cy="0.00" rx="10.40" ry="3.36" fill="#4a5fb6" opacity="1"/><ellipse cx="-0.22" cy="0.00" rx="8.06" ry="2.60" fill="#2f8db3" opacity="1"/><ellipse cx="-0.31" cy="0.00" rx="5.98" ry="1.93" fill="#3aa97c" opacity="1"/><ellipse cx="-0.39" cy="0.00" rx="4.16" ry="1.34" fill="#7fc244" opacity="1"/><ellipse cx="-0.46" cy="0.00" rx="2.47" ry="0.80" fill="#d9c833" opacity="1"/><ellipse cx="-0.52" cy="0.00" rx="1.17" ry="0.38" fill="#e3862c" opacity="1"/></g></g>
</g>
<rect x="116.5" y="92.7" width="60.00" height="30.20" fill="none" stroke="#b4b4b4" stroke-width="0.75"/>
<line x1="130.40" y1="92.70" x2="130.40" y2="122.90" stroke="#555" stroke-width="0.9"/>
<line x1="116.50" y1="114.20" x2="176.50" y2="114.20" stroke="#777" stroke-width="0.8"/>
<line x1="113.30" y1="120.90" x2="115.70" y2="120.90" stroke="#999" stroke-width="0.6"/>
<line x1="111.50" y1="119.70" x2="112.90" y2="119.70" stroke="#bbb" stroke-width="0.6"/>
<line x1="113.30" y1="114.35" x2="115.70" y2="114.35" stroke="#999" stroke-width="0.6"/>
<line x1="111.50" y1="113.15" x2="112.90" y2="113.15" stroke="#bbb" stroke-width="0.6"/>
<line x1="113.30" y1="107.80" x2="115.70" y2="107.80" stroke="#999" stroke-width="0.6"/>
<line x1="111.50" y1="106.60" x2="112.90" y2="106.60" stroke="#bbb" stroke-width="0.6"/>
<line x1="113.30" y1="101.25" x2="115.70" y2="101.25" stroke="#999" stroke-width="0.6"/>
<line x1="111.50" y1="100.05" x2="112.90" y2="100.05" stroke="#bbb" stroke-width="0.6"/>
<line x1="113.30" y1="94.70" x2="115.70" y2="94.70" stroke="#999" stroke-width="0.6"/>
<line x1="111.50" y1="93.50" x2="112.90" y2="93.50" stroke="#bbb" stroke-width="0.6"/>
<line x1="118.50" y1="123.70" x2="118.50" y2="125.90" stroke="#999" stroke-width="0.6"/>
<line x1="119.10" y1="126.30" x2="120.70" y2="126.30" stroke="#bbb" stroke-width="0.6"/>
<line x1="132.50" y1="123.70" x2="132.50" y2="125.90" stroke="#999" stroke-width="0.6"/>
<line x1="133.10" y1="126.30" x2="134.70" y2="126.30" stroke="#bbb" stroke-width="0.6"/>
<line x1="146.50" y1="123.70" x2="146.50" y2="125.90" stroke="#999" stroke-width="0.6"/>
<line x1="147.10" y1="126.30" x2="148.70" y2="126.30" stroke="#bbb" stroke-width="0.6"/>
<line x1="160.50" y1="123.70" x2="160.50" y2="125.90" stroke="#999" stroke-width="0.6"/>
<line x1="161.10" y1="126.30" x2="162.70" y2="126.30" stroke="#bbb" stroke-width="0.6"/>
<line x1="174.50" y1="123.70" x2="174.50" y2="125.90" stroke="#999" stroke-width="0.6"/>
<line x1="175.10" y1="126.30" x2="176.70" y2="126.30" stroke="#bbb" stroke-width="0.6"/>
<text x="118.40" y="97.60" font-size="4.2" font-weight="bold" letter-spacing="0.75" text-anchor="start" fill="#444">0</text>
<text x="170.90" y="97.60" font-size="4.2" font-weight="bold" letter-spacing="0.75" text-anchor="end" fill="#444">3.19</text>
<text x="118.40" y="121.20" font-size="4.2" font-weight="bold" letter-spacing="0.75" text-anchor="start" fill="#444">0.020</text>
<text x="170.90" y="121.20" font-size="4.2" font-weight="bold" letter-spacing="0.75" text-anchor="end" fill="#444">96.8</text>
<clipPath id="c22"><rect x="183.5" y="92.7" width="60.00" height="30.20"/></clipPath><g clip-path="url(#c22)">
<g transform="translate(200.50,107.00) rotate(5)"><path d="M11.5 4.0h.75v.75h-.75zM-2.3 -18.1h.75v.75h-.75zM9.2 4.1h.75v.75h-.75zM-2.6 11.0h.75v.75h-.75zM5.8 -4.3h.75v.75h-.75zM-0.2 -0.2h.75v.75h-.75zM8.3 -7.3h.75v.75h-.75zM-11.5 -13.4h.75v.75h-.75zM-3.5 -13.8h.75v.75h-.75zM-7.9 -7.5h.75v.75h-.75zM-1.5 -3.5h.75v.75h-.75zM-6.2 2.3h.75v.75h-.75zM0.2 0.5h.75v.75h-.75zM4.6 1.5h.75v.75h-.75zM-1.9 -4.0h.75v.75h-.75zM-15.2 22.5h.75v.75h-.75zM-7.3 -4.1h.75v.75h-.75zM-0.8 22.1h.75v.75h-.75zM-1.4 4.3h.75v.75h-.75zM-9.2 5.9h.75v.75h-.75zM14.1 6.9h.75v.75h-.75zM-16.8 -10.5h.75v.75h-.75zM1.8 -6.4h.75v.75h-.75zM-1.1 -0.8h.75v.75h-.75zM9.6 1.2h.75v.75h-.75zM-4.1 4.9h.75v.75h-.75zM20.0 -3.3h.75v.75h-.75zM-13.0 2.8h.75v.75h-.75zM-2.5 -4.4h.75v.75h-.75zM0.6 3.3h.75v.75h-.75zM1.0 0.0h.75v.75h-.75zM-0.6 -1.9h.75v.75h-.75zM16.3 13.9h.75v.75h-.75zM12.5 -18.5h.75v.75h-.75zM-0.3 -1.8h.75v.75h-.75zM0.1 1.9h.75v.75h-.75zM0.6 0.3h.75v.75h-.75zM1.0 -8.9h.75v.75h-.75zM-0.6 -6.2h.75v.75h-.75zM16.9 13.6h.75v.75h-.75zM-10.7 3.7h.75v.75h-.75zM10.6 -6.6h.75v.75h-.75zM-0.1 -0.9h.75v.75h-.75zM26.3 2.6h.75v.75h-.75zM6.0 -18.5h.75v.75h-.75zM1.2 0.9h.75v.75h-.75zM3.1 7.3h.75v.75h-.75zM9.8 -16.1h.75v.75h-.75zM-2.4 3.6h.75v.75h-.75zM-0.3 -0.2h.75v.75h-.75zM8.7 15.4h.75v.75h-.75zM1.7 -7.6h.75v.75h-.75zM-6.6 -9.6h.75v.75h-.75zM-9.7 7.5h.75v.75h-.75zM12.7 -6.3h.75v.75h-.75zM2.5 -15.8h.75v.75h-.75zM7.2 4.0h.75v.75h-.75zM3.4 -0.8h.75v.75h-.75zM-2.7 6.6h.75v.75h-.75zM-14.4 -15.5h.75v.75h-.75zM-15.3 -15.5h.75v.75h-.75zM-1.0 3.5h.75v.75h-.75zM-13.7 18.5h.75v.75h-.75zM-3.7 -11.7h.75v.75h-.75zM6.2 -22.4h.75v.75h-.75zM-2.7 17.4h.75v.75h-.75zM-7.0 5.1h.75v.75h-.75zM-0.1 -0.1h.75v.75h-.75zM8.3 3.1h.75v.75h-.75zM9.7 -23.2h.75v.75h-.75zM-7.0 -4.7h.75v.75h-.75zM-2.8 25.8h.75v.75h-.75zM-4.4 -13.9h.75v.75h-.75zM12.8 -10.6h.75v.75h-.75zM-2.3 -1.1h.75v.75h-.75zM1.0 -4.6h.75v.75h-.75zM4.7 -3.0h.75v.75h-.75zM1.6 22.1h.75v.75h-.75zM-11.7 3.6h.75v.75h-.75zM2.6 12.6h.75v.75h-.75zM0.1 -0.7h.75v.75h-.75zM-16.5 5.9h.75v.75h-.75zM2.2 -21.4h.75v.75h-.75zM1.0 13.2h.75v.75h-.75zM14.3 -17.3h.75v.75h-.75zM-10.3 -2.0h.75v.75h-.75zM5.0 17.2h.75v.75h-.75zM0.7 2.6h.75v.75h-.75zM-4.4 7.0h.75v.75h-.75zM-13.2 -7.8h.75v.75h-.75zM6.0 11.2h.75v.75h-.75zM6.8 2.7h.75v.75h-.75zM7.8 8.4h.75v.75h-.75zM-0.1 -0.2h.75v.75h-.75zM-1.1 -1.1h.75v.75h-.75zM-3.2 6.6h.75v.75h-.75zM2.0 0.6h.75v.75h-.75zM0.3 -0.0h.75v.75h-.75zM-7.2 -4.4h.75v.75h-.75zM-0.6 12.0h.75v.75h-.75zM1.9 -0.9h.75v.75h-.75zM1.1 -14.4h.75v.75h-.75zM-0.3 15.1h.75v.75h-.75zM23.2 7.7h.75v.75h-.75zM1.7 1.3h.75v.75h-.75zM5.8 2.7h.75v.75h-.75zM-18.6 6.9h.75v.75h-.75zM6.9 -3.3h.75v.75h-.75zM-2.6 -2.5h.75v.75h-.75zM-1.6 1.6h.75v.75h-.75z" fill="#7b7bc8" opacity="0.55"/><g filter="url(#bl)"><ellipse rx="12.40" ry="17.05" fill="#a9a9dc" opacity="0.45"/><ellipse cx="0.00" cy="-0.00" rx="8.00" ry="11.00" fill="#7478c8" opacity="0.85"/><ellipse cx="0.05" cy="-0.55" rx="6.40" ry="8.80" fill="#4a5fb6" opacity="1"/><ellipse cx="0.09" cy="-1.04" rx="4.96" ry="6.82" fill="#2f8db3" opacity="1"/><ellipse cx="0.12" cy="-1.47" rx="3.68" ry="5.06" fill="#3aa97c" opacity="1"/><ellipse cx="0.15" cy="-1.85" rx="2.56" ry="3.52" fill="#7fc244" opacity="1"/><ellipse cx="0.18" cy="-2.21" rx="1.52" ry="2.09" fill="#d9c833" opacity="1"/><ellipse cx="0.21" cy="-2.48" rx="0.72" ry="0.99" fill="#e3862c" opacity="1"/></g></g>
</g>
<rect x="183.5" y="92.7" width="60.00" height="30.20" fill="none" stroke="#b4b4b4" stroke-width="0.75"/>
<line x1="198.50" y1="92.70" x2="198.50" y2="122.90" stroke="#555" stroke-width="0.9"/>
<line x1="183.50" y1="115.00" x2="243.50" y2="115.00" stroke="#777" stroke-width="0.8"/>
<line x1="180.30" y1="120.90" x2="182.70" y2="120.90" stroke="#999" stroke-width="0.6"/>
<line x1="178.50" y1="119.70" x2="179.90" y2="119.70" stroke="#bbb" stroke-width="0.6"/>
<line x1="180.30" y1="114.35" x2="182.70" y2="114.35" stroke="#999" stroke-width="0.6"/>
<line x1="178.50" y1="113.15" x2="179.90" y2="113.15" stroke="#bbb" stroke-width="0.6"/>
<line x1="180.30" y1="107.80" x2="182.70" y2="107.80" stroke="#999" stroke-width="0.6"/>
<line x1="178.50" y1="106.60" x2="179.90" y2="106.60" stroke="#bbb" stroke-width="0.6"/>
<line x1="180.30" y1="101.25" x2="182.70" y2="101.25" stroke="#999" stroke-width="0.6"/>
<line x1="178.50" y1="100.05" x2="179.90" y2="100.05" stroke="#bbb" stroke-width="0.6"/>
<line x1="180.30" y1="94.70" x2="182.70" y2="94.70" stroke="#999" stroke-width="0.6"/>
<line x1="178.50" y1="93.50" x2="179.90" y2="93.50" stroke="#bbb" stroke-width="0.6"/>
<line x1="185.50" y1="123.70" x2="185.50" y2="125.90" stroke="#999" stroke-width="0.6"/>
<line x1="186.10" y1="126.30" x2="187.70" y2="126.30" stroke="#bbb" stroke-width="0.6"/>
<line x1="199.50" y1="123.70" x2="199.50" y2="125.90" stroke="#999" stroke-width="0.6"/>
<line x1="200.10" y1="126.30" x2="201.70" y2="126.30" stroke="#bbb" stroke-width="0.6"/>
<line x1="213.50" y1="123.70" x2="213.50" y2="125.90" stroke="#999" stroke-width="0.6"/>
<line x1="214.10" y1="126.30" x2="215.70" y2="126.30" stroke="#bbb" stroke-width="0.6"/>
<line x1="227.50" y1="123.70" x2="227.50" y2="125.90" stroke="#999" stroke-width="0.6"/>
<line x1="228.10" y1="126.30" x2="229.70" y2="126.30" stroke="#bbb" stroke-width="0.6"/>
<line x1="241.50" y1="123.70" x2="241.50" y2="125.90" stroke="#999" stroke-width="0.6"/>
<line x1="242.10" y1="126.30" x2="243.70" y2="126.30" stroke="#bbb" stroke-width="0.6"/>
<text x="185.40" y="97.60" font-size="4.2" font-weight="bold" letter-spacing="0.75" text-anchor="start" fill="#444">18.4</text>
<text x="237.90" y="97.60" font-size="4.2" font-weight="bold" letter-spacing="0.75" text-anchor="end" fill="#444">73.7</text>
<text x="185.40" y="121.20" font-size="4.2" font-weight="bold" letter-spacing="0.75" text-anchor="start" fill="#444">2.86</text>
<text x="237.90" y="121.20" font-size="4.2" font-weight="bold" letter-spacing="0.75" text-anchor="end" fill="#444">5.05</text>
<clipPath id="c30"><rect x="49.2" y="127.2" width="59.60" height="30.10"/></clipPath><g clip-path="url(#c30)">
<g transform="translate(67.00,136.30) rotate(-12)"><path d="M-1.9 10.6h.75v.75h-.75zM-36.5 -3.9h.75v.75h-.75zM-17.6 -8.0h.75v.75h-.75zM-34.8 6.9h.75v.75h-.75zM12.5 -0.7h.75v.75h-.75zM4.3 -0.1h.75v.75h-.75zM-0.0 0.3h.75v.75h-.75zM-3.8 1.3h.75v.75h-.75zM21.2 -8.7h.75v.75h-.75zM27.3 2.1h.75v.75h-.75zM-4.9 -1.6h.75v.75h-.75zM35.0 -0.8h.75v.75h-.75zM0.4 -3.0h.75v.75h-.75zM4.1 -0.4h.75v.75h-.75zM-7.2 -1.2h.75v.75h-.75zM0.9 -4.3h.75v.75h-.75zM-0.7 4.0h.75v.75h-.75zM8.9 2.2h.75v.75h-.75zM1.0 3.5h.75v.75h-.75zM1.0 0.3h.75v.75h-.75zM-0.3 -0.4h.75v.75h-.75zM1.1 0.8h.75v.75h-.75zM9.4 12.6h.75v.75h-.75zM10.8 -1.2h.75v.75h-.75zM20.6 6.2h.75v.75h-.75zM-33.8 2.9h.75v.75h-.75zM23.7 -9.0h.75v.75h-.75zM-20.9 -5.4h.75v.75h-.75zM8.9 -4.5h.75v.75h-.75zM-6.1 0.2h.75v.75h-.75zM1.6 2.2h.75v.75h-.75zM8.6 0.8h.75v.75h-.75zM4.0 1.3h.75v.75h-.75zM19.5 -5.2h.75v.75h-.75zM1.4 0.5h.75v.75h-.75zM-3.1 5.8h.75v.75h-.75zM5.5 2.4h.75v.75h-.75zM-17.5 0.2h.75v.75h-.75zM15.5 3.4h.75v.75h-.75zM44.7 -1.5h.75v.75h-.75zM-22.4 -9.9h.75v.75h-.75zM4.1 4.1h.75v.75h-.75zM-0.9 4.7h.75v.75h-.75zM0.8 0.6h.75v.75h-.75zM46.4 -0.1h.75v.75h-.75zM47.3 -6.0h.75v.75h-.75zM12.3 -2.4h.75v.75h-.75zM10.2 1.0h.75v.75h-.75zM2.8 -0.1h.75v.75h-.75zM18.8 0.5h.75v.75h-.75zM4.7 1.4h.75v.75h-.75zM19.6 0.1h.75v.75h-.75zM5.4 3.2h.75v.75h-.75zM-22.4 2.4h.75v.75h-.75zM-12.4 -1.5h.75v.75h-.75zM5.5 1.6h.75v.75h-.75zM-4.0 -4.1h.75v.75h-.75zM11.7 8.4h.75v.75h-.75zM-6.7 -1.4h.75v.75h-.75zM-4.7 0.0h.75v.75h-.75zM-1.8 -0.4h.75v.75h-.75zM-4.0 -3.7h.75v.75h-.75zM3.4 2.7h.75v.75h-.75zM25.7 2.8h.75v.75h-.75zM-0.5 -0.6h.75v.75h-.75zM22.0 2.0h.75v.75h-.75zM4.2 -1.6h.75v.75h-.75zM12.7 -3.6h.75v.75h-.75zM3.4 -0.5h.75v.75h-.75zM-0.2 0.0h.75v.75h-.75zM4.9 2.9h.75v.75h-.75zM6.4 -2.8h.75v.75h-.75zM-6.3 1.7h.75v.75h-.75zM-8.4 -1.4h.75v.75h-.75zM-26.2 2.3h.75v.75h-.75zM-0.8 -0.0h.75v.75h-.75zM10.7 -6.0h.75v.75h-.75zM16.6 -4.7h.75v.75h-.75zM-11.5 2.6h.75v.75h-.75zM0.3 -8.2h.75v.75h-.75zM41.4 -3.1h.75v.75h-.75zM-17.5 0.1h.75v.75h-.75zM-27.4 -1.6h.75v.75h-.75zM2.3 0.1h.75v.75h-.75zM6.6 3.6h.75v.75h-.75zM2.7 0.5h.75v.75h-.75zM0.1 0.0h.75v.75h-.75zM34.8 6.0h.75v.75h-.75zM4.7 0.1h.75v.75h-.75zM-11.6 -2.1h.75v.75h-.75zM-7.3 -5.9h.75v.75h-.75zM10.3 1.9h.75v.75h-.75zM23.9 1.7h.75v.75h-.75zM19.1 4.7h.75v.75h-.75zM-5.0 6.6h.75v.75h-.75zM0.8 0.2h.75v.75h-.75zM-8.7 -1.4h.75v.75h-.75zM4.5 -1.3h.75v.75h-.75zM-0.4 -4.5h.75v.75h-.75zM12.3 5.1h.75v.75h-.75zM-19.0 4.0h.75v.75h-.75zM-42.1 5.7h.75v.75h-.75zM-11.9 2.3h.75v.75h-.75zM22.1 -2.1h.75v.75h-.75zM0.2 0.9h.75v.75h-.75zM-10.5 4.4h.75v.75h-.75zM19.9 -14.0h.75v.75h-.75zM21.7 -3.3h.75v.75h-.75zM16.7 1.5h.75v.75h-.75zM-40.6 -1.1h.75v.75h-.75z" fill="#7b7bc8" opacity="0.55"/><g filter="url(#bl)"><ellipse rx="27.90" ry="6.98" fill="#a9a9dc" opacity="0.45"/><ellipse cx="0.00" cy="0.00" rx="18.00" ry="4.50" fill="#7478c8" opacity="0.85"/><ellipse cx="1.36" cy="0.11" rx="14.40" ry="3.60" fill="#4a5fb6" opacity="1"/><ellipse cx="2.59" cy="0.22" rx="11.16" ry="2.79" fill="#2f8db3" opacity="1"/><ellipse cx="3.68" cy="0.31" rx="8.28" ry="2.07" fill="#3aa97c" opacity="1"/><ellipse cx="4.64" cy="0.39" rx="5.76" ry="1.44" fill="#7fc244" opacity="1"/><ellipse cx="5.52" cy="0.46" rx="3.42" ry="0.85" fill="#d9c833" opacity="1"/><ellipse cx="6.20" cy="0.52" rx="1.62" ry="0.40" fill="#e3862c" opacity="1"/></g></g>
</g>
<rect x="49.2" y="127.2" width="59.60" height="30.10" fill="none" stroke="#b4b4b4" stroke-width="0.75"/>
<line x1="69.20" y1="127.20" x2="69.20" y2="157.30" stroke="#555" stroke-width="0.9"/>
<line x1="49.20" y1="149.60" x2="108.80" y2="149.60" stroke="#777" stroke-width="0.8"/>
<line x1="46.00" y1="155.30" x2="48.40" y2="155.30" stroke="#999" stroke-width="0.6"/>
<line x1="44.20" y1="154.10" x2="45.60" y2="154.10" stroke="#bbb" stroke-width="0.6"/>
<line x1="46.00" y1="148.78" x2="48.40" y2="148.78" stroke="#999" stroke-width="0.6"/>
<line x1="44.20" y1="147.58" x2="45.60" y2="147.58" stroke="#bbb" stroke-width="0.6"/>
<line x1="46.00" y1="142.25" x2="48.40" y2="142.25" stroke="#999" stroke-width="0.6"/>
<line x1="44.20" y1="141.05" x2="45.60" y2="141.05" stroke="#bbb" stroke-width="0.6"/>
<line x1="46.00" y1="135.72" x2="48.40" y2="135.72" stroke="#999" stroke-width="0.6"/>
<line x1="44.20" y1="134.53" x2="45.60" y2="134.53" stroke="#bbb" stroke-width="0.6"/>
<line x1="46.00" y1="129.20" x2="48.40" y2="129.20" stroke="#999" stroke-width="0.6"/>
<line x1="44.20" y1="128.00" x2="45.60" y2="128.00" stroke="#bbb" stroke-width="0.6"/>
<line x1="51.20" y1="158.10" x2="51.20" y2="160.30" stroke="#999" stroke-width="0.6"/>
<line x1="51.80" y1="160.70" x2="53.40" y2="160.70" stroke="#bbb" stroke-width="0.6"/>
<line x1="65.10" y1="158.10" x2="65.10" y2="160.30" stroke="#999" stroke-width="0.6"/>
<line x1="65.70" y1="160.70" x2="67.30" y2="160.70" stroke="#bbb" stroke-width="0.6"/>
<line x1="79.00" y1="158.10" x2="79.00" y2="160.30" stroke="#999" stroke-width="0.6"/>
<line x1="79.60" y1="160.70" x2="81.20" y2="160.70" stroke="#bbb" stroke-width="0.6"/>
<line x1="92.90" y1="158.10" x2="92.90" y2="160.30" stroke="#999" stroke-width="0.6"/>
<line x1="93.50" y1="160.70" x2="95.10" y2="160.70" stroke="#bbb" stroke-width="0.6"/>
<line x1="106.80" y1="158.10" x2="106.80" y2="160.30" stroke="#999" stroke-width="0.6"/>
<line x1="107.40" y1="160.70" x2="109.00" y2="160.70" stroke="#bbb" stroke-width="0.6"/>
<text x="51.10" y="132.10" font-size="4.2" font-weight="bold" letter-spacing="0.75" text-anchor="start" fill="#444">32.4</text>
<text x="103.20" y="132.10" font-size="4.2" font-weight="bold" letter-spacing="0.75" text-anchor="end" fill="#444">67.5</text>
<text x="51.10" y="155.60" font-size="4.2" font-weight="bold" letter-spacing="0.75" text-anchor="start" fill="#444">0.086</text>
<text x="103.20" y="155.60" font-size="4.2" font-weight="bold" letter-spacing="0.75" text-anchor="end" fill="#444">0</text>
<clipPath id="c31"><rect x="116.5" y="127.2" width="60.00" height="30.10"/></clipPath><g clip-path="url(#c31)">
<g transform="translate(146.50,148.20) rotate(-25)"><path d="M0.2 21.5h.75v.75h-.75zM-8.9 2.7h.75v.75h-.75zM-10.4 -1.2h.75v.75h-.75zM10.6 2.8h.75v.75h-.75zM17.8 1.4h.75v.75h-.75zM5.1 3.6h.75v.75h-.75zM26.0 -6.3h.75v.75h-.75zM-3.6 -2.3h.75v.75h-.75zM9.4 -4.8h.75v.75h-.75zM31.3 4.0h.75v.75h-.75zM-3.6 -4.3h.75v.75h-.75zM-1.5 5.8h.75v.75h-.75zM-26.3 -14.5h.75v.75h-.75zM-0.0 5.7h.75v.75h-.75zM16.7 -3.1h.75v.75h-.75zM-0.5 1.3h.75v.75h-.75zM5.9 3.2h.75v.75h-.75zM-18.7 -7.2h.75v.75h-.75zM-2.2 11.0h.75v.75h-.75zM-5.3 0.7h.75v.75h-.75zM6.5 3.7h.75v.75h-.75zM1.3 0.8h.75v.75h-.75zM-1.1 2.6h.75v.75h-.75zM0.7 9.4h.75v.75h-.75zM9.5 -8.7h.75v.75h-.75zM-8.4 -4.0h.75v.75h-.75zM6.6 12.0h.75v.75h-.75zM-2.5 -5.7h.75v.75h-.75zM-15.4 -7.6h.75v.75h-.75zM-5.0 0.6h.75v.75h-.75zM0.8 2.6h.75v.75h-.75zM-11.4 -0.5h.75v.75h-.75zM16.3 0.7h.75v.75h-.75zM-8.9 6.8h.75v.75h-.75zM-7.4 -1.6h.75v.75h-.75zM-9.3 0.3h.75v.75h-.75zM-3.0 5.9h.75v.75h-.75zM6.6 -27.4h.75v.75h-.75zM2.3 -1.4h.75v.75h-.75zM-4.8 1.1h.75v.75h-.75zM-14.1 3.2h.75v.75h-.75zM-0.6 -3.6h.75v.75h-.75zM8.9 -1.3h.75v.75h-.75zM-0.5 -4.3h.75v.75h-.75zM-5.1 3.9h.75v.75h-.75zM-5.6 -6.4h.75v.75h-.75zM10.4 -12.5h.75v.75h-.75zM-21.4 -1.4h.75v.75h-.75zM0.1 -1.1h.75v.75h-.75zM-26.9 2.4h.75v.75h-.75zM4.9 -1.7h.75v.75h-.75zM17.7 10.5h.75v.75h-.75zM0.1 -0.6h.75v.75h-.75zM-1.0 -0.3h.75v.75h-.75zM-38.2 -10.7h.75v.75h-.75zM-0.5 0.2h.75v.75h-.75zM-5.5 -2.5h.75v.75h-.75zM-23.9 13.0h.75v.75h-.75zM-3.0 -10.0h.75v.75h-.75zM-1.4 3.0h.75v.75h-.75zM-12.2 6.2h.75v.75h-.75zM-5.8 6.9h.75v.75h-.75zM-7.4 0.0h.75v.75h-.75zM-29.5 6.2h.75v.75h-.75zM3.5 2.6h.75v.75h-.75zM-11.5 -3.4h.75v.75h-.75zM5.4 -1.7h.75v.75h-.75zM-1.6 1.8h.75v.75h-.75zM16.9 -2.6h.75v.75h-.75zM7.5 14.6h.75v.75h-.75zM32.5 1.3h.75v.75h-.75zM15.5 2.8h.75v.75h-.75zM15.7 -4.9h.75v.75h-.75zM1.1 -4.4h.75v.75h-.75zM-57.2 -3.6h.75v.75h-.75zM-14.1 -0.9h.75v.75h-.75zM-4.1 2.9h.75v.75h-.75zM-12.5 -4.9h.75v.75h-.75zM-10.7 -12.3h.75v.75h-.75zM-32.0 -3.0h.75v.75h-.75zM-10.6 4.4h.75v.75h-.75zM-8.7 -2.0h.75v.75h-.75zM29.7 -3.9h.75v.75h-.75zM-15.3 0.7h.75v.75h-.75zM21.6 -0.3h.75v.75h-.75zM-4.7 4.1h.75v.75h-.75zM14.3 15.2h.75v.75h-.75zM-2.4 3.0h.75v.75h-.75zM-30.6 -1.4h.75v.75h-.75zM3.2 1.5h.75v.75h-.75zM8.6 -10.4h.75v.75h-.75zM15.6 -0.6h.75v.75h-.75zM7.3 6.3h.75v.75h-.75zM-2.8 6.3h.75v.75h-.75zM7.4 10.5h.75v.75h-.75zM0.6 0.8h.75v.75h-.75zM-9.3 7.1h.75v.75h-.75zM16.4 -0.4h.75v.75h-.75zM-2.7 1.0h.75v.75h-.75zM0.9 -2.1h.75v.75h-.75zM8.9 0.1h.75v.75h-.75zM-8.0 12.9h.75v.75h-.75zM-5.9 -6.1h.75v.75h-.75zM6.1 10.0h.75v.75h-.75zM-2.1 12.1h.75v.75h-.75zM-0.2 -0.1h.75v.75h-.75zM-49.6 -14.5h.75v.75h-.75zM-9.4 3.4h.75v.75h-.75zM0.4 -4.0h.75v.75h-.75zM5.2 2.4h.75v.75h-.75z" fill="#7b7bc8" opacity="0.55"/><g filter="url(#bl)"><ellipse rx="20.15" ry="11.62" fill="#a9a9dc" opacity="0.45"/><ellipse cx="0.00" cy="0.00" rx="13.00" ry="7.50" fill="#7478c8" opacity="0.85"/><ellipse cx="0.00" cy="0.23" rx="10.40" ry="6.00" fill="#4a5fb6" opacity="1"/><ellipse cx="0.00" cy="0.43" rx="8.06" ry="4.65" fill="#2f8db3" opacity="1"/><ellipse cx="0.00" cy="0.61" rx="5.98" ry="3.45" fill="#3aa97c" opacity="1"/><ellipse cx="0.00" cy="0.77" rx="4.16" ry="2.40" fill="#7fc244" opacity="1"/><ellipse cx="0.00" cy="0.92" rx="2.47" ry="1.43" fill="#d9c833" opacity="1"/><ellipse cx="0.00" cy="1.03" rx="1.17" ry="0.67" fill="#e3862c" opacity="1"/></g></g>
</g>
<rect x="116.5" y="127.2" width="60.00" height="30.10" fill="none" stroke="#b4b4b4" stroke-width="0.75"/>
<line x1="130.40" y1="127.20" x2="130.40" y2="157.30" stroke="#555" stroke-width="0.9"/>
<line x1="116.50" y1="147.90" x2="176.50" y2="147.90" stroke="#777" stroke-width="0.8"/>
<line x1="113.30" y1="155.30" x2="115.70" y2="155.30" stroke="#999" stroke-width="0.6"/>
<line x1="111.50" y1="154.10" x2="112.90" y2="154.10" stroke="#bbb" stroke-width="0.6"/>
<line x1="113.30" y1="148.78" x2="115.70" y2="148.78" stroke="#999" stroke-width="0.6"/>
<line x1="111.50" y1="147.58" x2="112.90" y2="147.58" stroke="#bbb" stroke-width="0.6"/>
<line x1="113.30" y1="142.25" x2="115.70" y2="142.25" stroke="#999" stroke-width="0.6"/>
<line x1="111.50" y1="141.05" x2="112.90" y2="141.05" stroke="#bbb" stroke-width="0.6"/>
<line x1="113.30" y1="135.72" x2="115.70" y2="135.72" stroke="#999" stroke-width="0.6"/>
<line x1="111.50" y1="134.53" x2="112.90" y2="134.53" stroke="#bbb" stroke-width="0.6"/>
<line x1="113.30" y1="129.20" x2="115.70" y2="129.20" stroke="#999" stroke-width="0.6"/>
<line x1="111.50" y1="128.00" x2="112.90" y2="128.00" stroke="#bbb" stroke-width="0.6"/>
<line x1="118.50" y1="158.10" x2="118.50" y2="160.30" stroke="#999" stroke-width="0.6"/>
<line x1="119.10" y1="160.70" x2="120.70" y2="160.70" stroke="#bbb" stroke-width="0.6"/>
<line x1="132.50" y1="158.10" x2="132.50" y2="160.30" stroke="#999" stroke-width="0.6"/>
<line x1="133.10" y1="160.70" x2="134.70" y2="160.70" stroke="#bbb" stroke-width="0.6"/>
<line x1="146.50" y1="158.10" x2="146.50" y2="160.30" stroke="#999" stroke-width="0.6"/>
<line x1="147.10" y1="160.70" x2="148.70" y2="160.70" stroke="#bbb" stroke-width="0.6"/>
<line x1="160.50" y1="158.10" x2="160.50" y2="160.30" stroke="#999" stroke-width="0.6"/>
<line x1="161.10" y1="160.70" x2="162.70" y2="160.70" stroke="#bbb" stroke-width="0.6"/>
<line x1="174.50" y1="158.10" x2="174.50" y2="160.30" stroke="#999" stroke-width="0.6"/>
<line x1="175.10" y1="160.70" x2="176.70" y2="160.70" stroke="#bbb" stroke-width="0.6"/>
<text x="118.40" y="132.10" font-size="4.2" font-weight="bold" letter-spacing="0.75" text-anchor="start" fill="#444">0.011</text>
<text x="170.90" y="132.10" font-size="4.2" font-weight="bold" letter-spacing="0.75" text-anchor="end" fill="#444">17.0</text>
<text x="118.40" y="155.60" font-size="4.2" font-weight="bold" letter-spacing="0.75" text-anchor="start" fill="#444">0.76</text>
<text x="170.90" y="155.60" font-size="4.2" font-weight="bold" letter-spacing="0.75" text-anchor="end" fill="#444">82.2</text>
<clipPath id="c32"><rect x="183.5" y="127.2" width="60.00" height="30.10"/></clipPath><g clip-path="url(#c32)">
<g transform="translate(202.50,147.00) rotate(15)"><path d="M-2.2 -0.5h.75v.75h-.75zM0.7 -2.5h.75v.75h-.75zM5.7 4.0h.75v.75h-.75zM5.3 0.7h.75v.75h-.75zM-0.1 -0.9h.75v.75h-.75zM-2.4 5.3h.75v.75h-.75zM1.4 1.7h.75v.75h-.75zM2.5 -3.0h.75v.75h-.75zM-3.4 1.9h.75v.75h-.75zM-1.5 2.3h.75v.75h-.75zM-7.7 -7.5h.75v.75h-.75zM3.1 -1.4h.75v.75h-.75zM0.0 9.9h.75v.75h-.75zM2.2 1.1h.75v.75h-.75zM-3.1 12.5h.75v.75h-.75zM3.0 -3.8h.75v.75h-.75zM-1.2 -1.6h.75v.75h-.75zM3.4 -1.5h.75v.75h-.75zM0.5 18.7h.75v.75h-.75zM-0.2 0.3h.75v.75h-.75zM-0.2 1.0h.75v.75h-.75zM2.2 -3.7h.75v.75h-.75zM0.3 13.5h.75v.75h-.75zM0.4 1.2h.75v.75h-.75zM1.8 -0.6h.75v.75h-.75zM-0.6 3.7h.75v.75h-.75zM-2.0 -0.7h.75v.75h-.75zM-0.6 0.9h.75v.75h-.75zM1.0 1.6h.75v.75h-.75zM0.4 -1.4h.75v.75h-.75zM0.7 3.2h.75v.75h-.75zM-0.6 4.5h.75v.75h-.75zM-0.0 -0.1h.75v.75h-.75zM-0.6 1.7h.75v.75h-.75zM3.3 3.7h.75v.75h-.75zM-0.7 9.9h.75v.75h-.75zM-1.1 0.7h.75v.75h-.75zM1.0 -2.9h.75v.75h-.75zM-0.5 1.2h.75v.75h-.75zM-0.4 -4.2h.75v.75h-.75z" fill="#7b7bc8" opacity="0.55"/><g filter="url(#bl)"><ellipse rx="5.42" ry="9.30" fill="#a9a9dc" opacity="0.45"/><ellipse cx="0.00" cy="0.00" rx="3.50" ry="6.00" fill="#7478c8" opacity="0.85"/><ellipse cx="0.00" cy="0.00" rx="2.80" ry="4.80" fill="#4a5fb6" opacity="1"/><ellipse cx="0.00" cy="0.00" rx="2.17" ry="3.72" fill="#2f8db3" opacity="1"/><ellipse cx="0.00" cy="0.00" rx="1.61" ry="2.76" fill="#3aa97c" opacity="1"/><ellipse cx="0.00" cy="0.00" rx="1.12" ry="1.92" fill="#7fc244" opacity="1"/><ellipse cx="0.00" cy="0.00" rx="0.67" ry="1.14" fill="#d9c833" opacity="1"/><ellipse cx="0.00" cy="0.00" rx="0.32" ry="0.54" fill="#e3862c" opacity="1"/></g></g>
<g transform="translate(207.90,138.80) rotate(-20)"><path d="M4.2 14.4h.75v.75h-.75zM15.0 -4.4h.75v.75h-.75zM-6.1 1.7h.75v.75h-.75zM0.1 0.1h.75v.75h-.75zM1.5 -1.0h.75v.75h-.75zM-5.7 -3.2h.75v.75h-.75zM-3.5 -2.6h.75v.75h-.75zM1.2 4.5h.75v.75h-.75zM-3.2 -0.2h.75v.75h-.75zM-3.2 -0.8h.75v.75h-.75zM-1.5 1.2h.75v.75h-.75zM-8.4 -11.8h.75v.75h-.75zM-5.4 4.2h.75v.75h-.75zM2.7 1.5h.75v.75h-.75zM-3.3 6.5h.75v.75h-.75zM-8.1 -12.4h.75v.75h-.75zM-5.7 6.3h.75v.75h-.75zM-7.3 -0.0h.75v.75h-.75zM-0.4 0.8h.75v.75h-.75zM0.5 2.9h.75v.75h-.75zM-2.0 9.1h.75v.75h-.75zM-8.3 5.3h.75v.75h-.75zM9.6 -8.1h.75v.75h-.75zM5.4 -5.9h.75v.75h-.75zM4.8 0.8h.75v.75h-.75zM-2.3 -4.4h.75v.75h-.75zM-3.7 2.1h.75v.75h-.75zM-3.8 -5.6h.75v.75h-.75zM1.2 -1.6h.75v.75h-.75zM-3.8 4.8h.75v.75h-.75zM2.9 2.4h.75v.75h-.75zM3.5 -2.0h.75v.75h-.75zM1.4 0.3h.75v.75h-.75zM13.6 3.2h.75v.75h-.75zM-1.0 2.7h.75v.75h-.75zM-3.7 3.2h.75v.75h-.75zM-4.8 -5.3h.75v.75h-.75zM0.8 1.6h.75v.75h-.75zM-1.3 -5.6h.75v.75h-.75zM-0.3 9.1h.75v.75h-.75zM-7.2 9.4h.75v.75h-.75zM5.4 0.0h.75v.75h-.75zM-1.8 7.1h.75v.75h-.75zM12.9 3.3h.75v.75h-.75zM7.1 2.0h.75v.75h-.75zM0.3 9.0h.75v.75h-.75zM3.0 10.9h.75v.75h-.75zM8.7 -4.8h.75v.75h-.75zM-0.0 -0.0h.75v.75h-.75zM-3.0 2.2h.75v.75h-.75zM-0.0 0.2h.75v.75h-.75zM14.2 8.3h.75v.75h-.75zM8.0 -3.5h.75v.75h-.75zM-1.1 -2.7h.75v.75h-.75zM-0.8 -0.8h.75v.75h-.75zM-16.0 4.5h.75v.75h-.75zM-11.7 5.3h.75v.75h-.75zM-4.6 -0.3h.75v.75h-.75zM0.3 -3.9h.75v.75h-.75zM2.0 0.5h.75v.75h-.75zM-0.3 4.4h.75v.75h-.75zM-14.8 -4.1h.75v.75h-.75zM-12.0 -3.2h.75v.75h-.75zM0.0 2.3h.75v.75h-.75zM-6.6 3.8h.75v.75h-.75zM0.9 2.7h.75v.75h-.75zM-0.5 -1.6h.75v.75h-.75zM-2.2 -3.7h.75v.75h-.75zM-0.5 -0.0h.75v.75h-.75zM-6.2 2.1h.75v.75h-.75zM-2.3 6.8h.75v.75h-.75zM2.4 -2.0h.75v.75h-.75zM-3.6 5.8h.75v.75h-.75zM3.6 -7.6h.75v.75h-.75zM7.0 11.7h.75v.75h-.75zM-2.3 -3.6h.75v.75h-.75zM0.8 -7.5h.75v.75h-.75zM2.8 -4.7h.75v.75h-.75zM-3.6 4.0h.75v.75h-.75zM1.3 4.3h.75v.75h-.75zM2.2 5.9h.75v.75h-.75zM-0.8 -2.4h.75v.75h-.75zM-1.9 3.4h.75v.75h-.75zM-1.4 0.3h.75v.75h-.75zM3.2 1.4h.75v.75h-.75zM4.1 0.3h.75v.75h-.75zM12.8 6.9h.75v.75h-.75zM-0.2 -0.7h.75v.75h-.75zM8.8 6.7h.75v.75h-.75zM-1.4 0.1h.75v.75h-.75zM-5.1 -1.3h.75v.75h-.75zM2.3 0.1h.75v.75h-.75zM-7.8 -7.5h.75v.75h-.75zM5.7 -2.3h.75v.75h-.75zM0.1 3.6h.75v.75h-.75zM3.6 3.9h.75v.75h-.75zM8.1 -11.9h.75v.75h-.75zM-0.8 2.4h.75v.75h-.75zM2.8 -3.8h.75v.75h-.75zM10.5 -4.8h.75v.75h-.75zM3.7 -6.2h.75v.75h-.75zM-0.7 -12.6h.75v.75h-.75zM1.2 -2.2h.75v.75h-.75zM-2.2 4.2h.75v.75h-.75zM-5.2 5.2h.75v.75h-.75zM4.1 -6.7h.75v.75h-.75zM-0.2 -0.1h.75v.75h-.75zM-1.8 -1.7h.75v.75h-.75zM4.9 -3.1h.75v.75h-.75zM11.9 -4.0h.75v.75h-.75z" fill="#7b7bc8" opacity="0.55"/><g filter="url(#bl)"><ellipse rx="10.85" ry="10.08" fill="#a9a9dc" opacity="0.45"/><ellipse cx="0.00" cy="0.00" rx="7.00" ry="6.50" fill="#7478c8" opacity="0.85"/><ellipse cx="0.00" cy="0.00" rx="5.60" ry="5.20" fill="#4a5fb6" opacity="1"/><ellipse cx="0.00" cy="0.00" rx="4.34" ry="4.03" fill="#2f8db3" opacity="1"/><ellipse cx="0.00" cy="0.00" rx="3.22" ry="2.99" fill="#3aa97c" opacity="1"/><ellipse cx="0.00" cy="0.00" rx="2.24" ry="2.08" fill="#7fc244" opacity="1"/><ellipse cx="0.00" cy="0.00" rx="1.33" ry="1.24" fill="#d9c833" opacity="1"/><ellipse cx="0.00" cy="0.00" rx="0.63" ry="0.58" fill="#e3862c" opacity="1"/></g></g>
</g>
<rect x="183.5" y="127.2" width="60.00" height="30.10" fill="none" stroke="#b4b4b4" stroke-width="0.75"/>
<line x1="199.50" y1="127.20" x2="199.50" y2="157.30" stroke="#555" stroke-width="0.9"/>
<line x1="183.50" y1="149.60" x2="243.50" y2="149.60" stroke="#777" stroke-width="0.8"/>
<line x1="180.30" y1="155.30" x2="182.70" y2="155.30" stroke="#999" stroke-width="0.6"/>
<line x1="178.50" y1="154.10" x2="179.90" y2="154.10" stroke="#bbb" stroke-width="0.6"/>
<line x1="180.30" y1="148.78" x2="182.70" y2="148.78" stroke="#999" stroke-width="0.6"/>
<line x1="178.50" y1="147.58" x2="179.90" y2="147.58" stroke="#bbb" stroke-width="0.6"/>
<line x1="180.30" y1="142.25" x2="182.70" y2="142.25" stroke="#999" stroke-width="0.6"/>
<line x1="178.50" y1="141.05" x2="179.90" y2="141.05" stroke="#bbb" stroke-width="0.6"/>
<line x1="180.30" y1="135.72" x2="182.70" y2="135.72" stroke="#999" stroke-width="0.6"/>
<line x1="178.50" y1="134.53" x2="179.90" y2="134.53" stroke="#bbb" stroke-width="0.6"/>
<line x1="180.30" y1="129.20" x2="182.70" y2="129.20" stroke="#999" stroke-width="0.6"/>
<line x1="178.50" y1="128.00" x2="179.90" y2="128.00" stroke="#bbb" stroke-width="0.6"/>
<line x1="185.50" y1="158.10" x2="185.50" y2="160.30" stroke="#999" stroke-width="0.6"/>
<line x1="186.10" y1="160.70" x2="187.70" y2="160.70" stroke="#bbb" stroke-width="0.6"/>
<line x1="199.50" y1="158.10" x2="199.50" y2="160.30" stroke="#999" stroke-width="0.6"/>
<line x1="200.10" y1="160.70" x2="201.70" y2="160.70" stroke="#bbb" stroke-width="0.6"/>
<line x1="213.50" y1="158.10" x2="213.50" y2="160.30" stroke="#999" stroke-width="0.6"/>
<line x1="214.10" y1="160.70" x2="215.70" y2="160.70" stroke="#bbb" stroke-width="0.6"/>
<line x1="227.50" y1="158.10" x2="227.50" y2="160.30" stroke="#999" stroke-width="0.6"/>
<line x1="228.10" y1="160.70" x2="229.70" y2="160.70" stroke="#bbb" stroke-width="0.6"/>
<line x1="241.50" y1="158.10" x2="241.50" y2="160.30" stroke="#999" stroke-width="0.6"/>
<line x1="242.10" y1="160.70" x2="243.70" y2="160.70" stroke="#bbb" stroke-width="0.6"/>
<text x="185.40" y="132.10" font-size="4.2" font-weight="bold" letter-spacing="0.75" text-anchor="start" fill="#444">0.56</text>
<text x="237.90" y="132.10" font-size="4.2" font-weight="bold" letter-spacing="0.75" text-anchor="end" fill="#444">97.3</text>
<text x="185.40" y="155.60" font-size="4.2" font-weight="bold" letter-spacing="0.75" text-anchor="start" fill="#444">0.20</text>
<text x="237.90" y="155.60" font-size="4.2" font-weight="bold" letter-spacing="0.75" text-anchor="end" fill="#444">1.91</text>
<text x="21.70" y="43.00" font-size="7.3" textLength="18.10" lengthAdjust="spacingAndGlyphs" fill="#231f20">V-Ab1</text>
<text x="25.95" y="72.70" font-size="7.3" textLength="14.35" lengthAdjust="spacingAndGlyphs" fill="#231f20">T259</text>
<text x="27.70" y="81.60" font-size="7.3" textLength="12.60" lengthAdjust="spacingAndGlyphs" fill="#231f20">BCL</text>
<text x="20.20" y="106.80" font-size="7.3" textLength="20.10" lengthAdjust="spacingAndGlyphs" fill="#231f20">A1929</text>
<text x="27.70" y="115.70" font-size="7.3" textLength="12.60" lengthAdjust="spacingAndGlyphs" fill="#231f20">BCL</text>
<text x="20.20" y="140.80" font-size="7.3" textLength="20.10" lengthAdjust="spacingAndGlyphs" fill="#231f20">A1942</text>
<text x="27.70" y="149.70" font-size="7.3" textLength="12.60" lengthAdjust="spacingAndGlyphs" fill="#231f20">BCL</text>
<polyline points="50.8,166.5 50.8,185.2 68.9,185.2" fill="none" stroke="#111" stroke-width="1.35"/>
<polygon points="48.5,167.7 53.099999999999994,167.7 50.8,163.5" fill="#111"/>
<polygon points="67.7,182.89999999999998 67.7,187.5 71.9,185.2" fill="#111"/>
<polyline points="116.7,166.6 116.7,184.0 136,184.0" fill="none" stroke="#111" stroke-width="1.35"/>
<polygon points="114.4,167.79999999999998 119.0,167.79999999999998 116.7,163.6" fill="#111"/>
<polygon points="134.8,181.7 134.8,186.3 139,184.0" fill="#111"/>
<polyline points="183.0,167.0 183.0,184.0 202,184.0" fill="none" stroke="#111" stroke-width="1.35"/>
<polygon points="180.7,168.2 185.3,168.2 183.0,164.0" fill="#111"/>
<polygon points="200.8,181.7 200.8,186.3 205,184.0" fill="#111"/>
<text class="h" x="0" y="0" font-size="9.6" textLength="21.20" lengthAdjust="spacingAndGlyphs" fill="#231f20" transform="translate(44.40,185.30) rotate(-90)">CD19</text>
<text x="50.70" y="196.30" font-size="9.0" textLength="20.40" lengthAdjust="spacingAndGlyphs" fill="#231f20">B220</text>
<text class="h" x="0" y="0" font-size="9.6" textLength="15.60" lengthAdjust="spacingAndGlyphs" fill="#231f20" transform="translate(109.30,182.30) rotate(-90)">IgM</text>
<text x="116.40" y="196.30" font-size="9.0" textLength="21.10" lengthAdjust="spacingAndGlyphs" fill="#231f20">CD43</text>
<text class="h" x="0" y="0" font-size="9.6" textLength="21.40" lengthAdjust="spacingAndGlyphs" fill="#231f20" transform="translate(175.90,185.50) rotate(-90)">AA4.1</text>
<text x="182.70" y="196.30" font-size="9.0" textLength="22.60" lengthAdjust="spacingAndGlyphs" fill="#231f20">IL-7Ra</text>
<rect x="0" y="0" width="520" height="1" fill="#000"/>
<rect x="0" y="757.6" width="520" height="1.4" fill="#000"/>
<rect x="0" y="0" width="1.7" height="759" fill="#555"/>
<rect x="518" y="0" width="2" height="759" fill="#4d4d4d"/>
</svg></body></html>
